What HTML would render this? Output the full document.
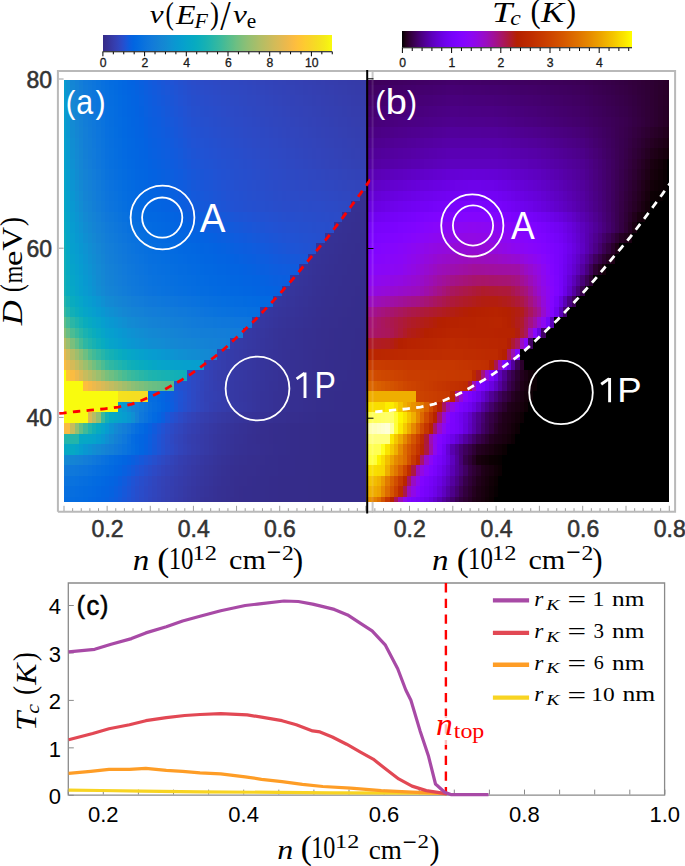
<!DOCTYPE html>
<html><head><meta charset="utf-8">
<style>
html,body{margin:0;padding:0;background:#fff;}
#w{position:relative;width:685px;height:866px;overflow:hidden;background:#fff;}
.hr{position:absolute;}
.cb{position:absolute;}
svg{position:absolute;left:0;top:0;}
.s{font-family:"Liberation Sans",sans-serif;}
.m{font-family:"Liberation Serif",serif;}
</style></head><body><div id="w">
<div class="hr" style="left:64.00px;top:79.60px;width:301.98px;height:5.28px;background:linear-gradient(90deg,#079dcf 0.00px 2.16px,#0e91d2 2.16px 6.47px,#1485d4 6.47px 10.78px,#1481d6 10.78px 15.10px,#137dd8 15.10px 19.41px,#1079da 19.41px 23.73px,#0f77db 23.73px 28.04px,#0d75dc 28.04px 32.35px,#0a73dd 32.35px 36.67px,#0870df 36.67px 40.98px,#066ee0 40.98px 45.30px,#046ce0 45.30px 49.61px,#036be1 49.61px 53.92px,#0269e1 53.92px 58.24px,#0267e1 58.24px 62.55px,#0364e1 62.55px 66.87px,#0363e1 66.87px 71.18px,#0661e0 71.18px 75.50px,#0a5fdf 75.50px 79.81px,#0d5dde 79.81px 84.12px,#115bdc 84.12px 88.44px,#1459db 88.44px 92.75px,#1757d9 92.75px 97.06px,#1a56d7 97.06px 101.38px,#1d54d6 101.38px 105.69px,#2053d4 105.69px 110.01px,#2251d2 110.01px 114.32px,#2450cf 114.32px 118.64px,#264fcd 118.64px 122.95px,#284dcb 122.95px 127.26px,#2a4cc9 127.26px 131.58px,#2b4bc8 131.58px 135.89px,#2b4bc7 135.89px 140.20px,#2c4ac6 140.20px 144.52px,#2c4ac5 144.52px 148.83px,#2d49c4 148.83px 153.15px,#2d49c3 153.15px 157.46px,#2e48c2 157.46px 166.09px,#2f47c1 166.09px 170.40px,#2f47c0 170.40px 174.72px,#2f46bf 174.72px 179.03px,#3046be 179.03px 183.34px,#3045bd 183.34px 187.66px,#3145bc 187.66px 191.97px,#3144bb 191.97px 196.29px,#3244ba 196.29px 200.60px,#3243b9 200.60px 209.23px,#3242b8 209.23px 213.54px,#3342b7 213.54px 217.86px,#3342b6 217.86px 222.17px,#3341b5 222.17px 226.48px,#3341b4 226.48px 230.80px,#3340b4 230.80px 235.11px,#3440b3 235.11px 239.43px,#343fb2 239.43px 243.74px,#343fb1 243.74px 248.06px,#343fb0 248.06px 252.37px,#343eaf 252.37px 256.68px,#353eaf 256.68px 261.00px,#353dae 261.00px 265.31px,#353dad 265.31px 269.62px,#353dac 269.62px 273.94px,#353cab 273.94px 282.57px,#353baa 282.57px 286.88px,#353ba9 286.88px 291.19px,#353ba8 291.19px 295.51px,#363aa7 295.51px 301.98px)"></div>
<div class="hr" style="left:64.00px;top:84.88px;width:301.98px;height:10.56px;background:linear-gradient(90deg,#069ece 0.00px 2.16px,#0d92d2 2.16px 6.47px,#1486d4 6.47px 10.78px,#1482d5 10.78px 15.10px,#137ed7 15.10px 19.41px,#117ad9 19.41px 23.73px,#0f78db 23.73px 28.04px,#0d76dc 28.04px 32.35px,#0b73dd 32.35px 36.67px,#0871de 36.67px 40.98px,#066fdf 40.98px 45.30px,#046de0 45.30px 49.61px,#036be0 49.61px 53.92px,#0269e1 53.92px 58.24px,#0267e1 58.24px 62.55px,#0265e1 62.55px 66.87px,#0364e1 66.87px 71.18px,#0562e0 71.18px 75.50px,#0860df 75.50px 79.81px,#0c5ede 79.81px 84.12px,#0f5cdd 84.12px 88.44px,#125adc 88.44px 92.75px,#1559da 92.75px 97.06px,#1857d8 97.06px 101.38px,#1b56d7 101.38px 105.69px,#1d54d5 105.69px 110.01px,#2053d3 110.01px 114.32px,#2251d1 114.32px 118.64px,#2450cf 118.64px 122.95px,#264ecd 122.95px 127.26px,#284dcb 127.26px 131.58px,#294cca 131.58px 135.89px,#2a4cc9 135.89px 140.20px,#2b4bc8 140.20px 144.52px,#2b4bc7 144.52px 148.83px,#2c4ac6 148.83px 153.15px,#2c4ac5 153.15px 157.46px,#2d49c4 157.46px 161.77px,#2d49c3 161.77px 166.09px,#2e48c2 166.09px 170.40px,#2e48c1 170.40px 174.72px,#2f47c1 174.72px 179.03px,#2f47c0 179.03px 183.34px,#2f46bf 183.34px 187.66px,#3046be 187.66px 191.97px,#3045bd 191.97px 196.29px,#3145bc 196.29px 200.60px,#3144bb 200.60px 204.91px,#3244ba 204.91px 209.23px,#3243b9 209.23px 213.54px,#3243b8 213.54px 217.86px,#3242b8 217.86px 222.17px,#3342b7 222.17px 226.48px,#3342b6 226.48px 230.80px,#3341b5 230.80px 235.11px,#3341b4 235.11px 239.43px,#3340b3 239.43px 243.74px,#3440b3 243.74px 248.06px,#343fb2 248.06px 252.37px,#343fb1 252.37px 256.68px,#343fb0 256.68px 261.00px,#343eaf 261.00px 265.31px,#353eaf 265.31px 269.62px,#353dae 269.62px 273.94px,#353dad 273.94px 278.25px,#353dac 278.25px 282.57px,#353cab 282.57px 286.88px,#353caa 286.88px 291.19px,#353baa 291.19px 295.51px,#353ba9 295.51px 299.82px,#353ba8 299.82px 301.98px)"></div>
<div class="hr" style="left:64.00px;top:95.45px;width:301.98px;height:10.56px;background:linear-gradient(90deg,#069fce 0.00px 2.16px,#0c94d2 2.16px 6.47px,#1487d3 6.47px 10.78px,#1483d5 10.78px 15.10px,#137fd7 15.10px 19.41px,#117bd9 19.41px 23.73px,#1079da 23.73px 28.04px,#0e76dc 28.04px 32.35px,#0c74dd 32.35px 36.67px,#0972de 36.67px 40.98px,#066fdf 40.98px 45.30px,#056de0 45.30px 49.61px,#036ce0 49.61px 53.92px,#026ae1 53.92px 58.24px,#0268e1 58.24px 62.55px,#0266e1 62.55px 66.87px,#0364e1 66.87px 71.18px,#0363e1 71.18px 75.50px,#0761e0 75.50px 79.81px,#0a5fdf 79.81px 84.12px,#0d5dde 84.12px 88.44px,#105bdd 88.44px 92.75px,#135adb 92.75px 97.06px,#1558da 97.06px 101.38px,#1857d8 101.38px 105.69px,#1b55d6 105.69px 110.01px,#1e54d5 110.01px 114.32px,#2152d3 114.32px 118.64px,#2351d1 118.64px 122.95px,#244fcf 122.95px 127.26px,#264ecc 127.26px 131.58px,#274dcc 131.58px 135.89px,#284dcb 135.89px 140.20px,#294cca 140.20px 144.52px,#2a4cc9 144.52px 148.83px,#2b4bc8 148.83px 153.15px,#2b4bc7 153.15px 157.46px,#2c4ac6 157.46px 161.77px,#2c4ac5 161.77px 166.09px,#2d49c4 166.09px 170.40px,#2d49c3 170.40px 174.72px,#2e48c2 174.72px 179.03px,#2e48c1 179.03px 183.34px,#2f47c0 183.34px 191.97px,#3046bf 191.97px 196.29px,#3046be 196.29px 200.60px,#3045bd 200.60px 204.91px,#3145bc 204.91px 209.23px,#3144bb 209.23px 213.54px,#3244ba 213.54px 217.86px,#3243b9 217.86px 222.17px,#3243b8 222.17px 226.48px,#3242b8 226.48px 230.80px,#3342b7 230.80px 235.11px,#3342b6 235.11px 239.43px,#3341b5 239.43px 243.74px,#3341b4 243.74px 248.06px,#3340b3 248.06px 252.37px,#3440b3 252.37px 256.68px,#343fb2 256.68px 261.00px,#343fb1 261.00px 265.31px,#343fb0 265.31px 269.62px,#343eaf 269.62px 273.94px,#353eae 273.94px 278.25px,#353dae 278.25px 282.57px,#353dad 282.57px 286.88px,#353cac 286.88px 291.19px,#353cab 291.19px 295.51px,#353caa 295.51px 299.82px,#353ba9 299.82px 301.98px)"></div>
<div class="hr" style="left:64.00px;top:106.01px;width:301.98px;height:10.56px;background:linear-gradient(90deg,#06a0cd 0.00px 2.16px,#0b95d2 2.16px 6.47px,#1389d3 6.47px 10.78px,#1484d4 10.78px 15.10px,#1480d6 15.10px 19.41px,#127cd8 19.41px 23.73px,#1079da 23.73px 28.04px,#0f77db 28.04px 32.35px,#0c75dd 32.35px 36.67px,#0a72de 36.67px 40.98px,#076fdf 40.98px 45.30px,#056ee0 45.30px 49.61px,#046ce0 49.61px 53.92px,#036ae1 53.92px 58.24px,#0268e1 58.24px 62.55px,#0266e1 62.55px 66.87px,#0265e1 66.87px 71.18px,#0363e1 71.18px 75.50px,#0561e0 75.50px 79.81px,#0960df 79.81px 84.12px,#0c5ede 84.12px 88.44px,#0e5cde 88.44px 92.75px,#105bdd 92.75px 97.06px,#135adb 97.06px 101.38px,#1658d9 101.38px 105.69px,#1956d8 105.69px 110.01px,#1c55d6 110.01px 114.32px,#1e53d5 114.32px 118.64px,#2152d3 118.64px 122.95px,#2351d0 122.95px 127.26px,#254fce 127.26px 131.58px,#264fcd 131.58px 135.89px,#264ecc 135.89px 140.20px,#274dcb 140.20px 144.52px,#284dcb 144.52px 148.83px,#294cca 148.83px 153.15px,#2a4cc9 153.15px 157.46px,#2b4bc8 157.46px 161.77px,#2c4ac7 161.77px 166.09px,#2c4ac6 166.09px 170.40px,#2c49c5 170.40px 174.72px,#2d49c4 174.72px 179.03px,#2d48c3 179.03px 183.34px,#2e48c2 183.34px 187.66px,#2e47c1 187.66px 191.97px,#2f47c0 191.97px 196.29px,#2f47bf 196.29px 200.60px,#3046be 200.60px 209.23px,#3045bd 209.23px 213.54px,#3145bc 213.54px 217.86px,#3144bb 217.86px 222.17px,#3244ba 222.17px 226.48px,#3243b9 226.48px 230.80px,#3243b8 230.80px 235.11px,#3242b8 235.11px 239.43px,#3342b7 239.43px 243.74px,#3342b6 243.74px 248.06px,#3341b5 248.06px 252.37px,#3341b4 252.37px 256.68px,#3340b3 256.68px 261.00px,#3440b2 261.00px 265.31px,#343fb2 265.31px 269.62px,#343fb1 269.62px 273.94px,#343fb0 273.94px 278.25px,#343eaf 278.25px 282.57px,#353eae 282.57px 286.88px,#353dad 286.88px 295.51px,#353cac 295.51px 299.82px,#353cab 299.82px 301.98px)"></div>
<div class="hr" style="left:64.00px;top:116.58px;width:301.98px;height:10.56px;background:linear-gradient(90deg,#06a0cd 0.00px 2.16px,#0a96d1 2.16px 6.47px,#138ad3 6.47px 10.78px,#1485d4 10.78px 15.10px,#1481d6 15.10px 19.41px,#127dd8 19.41px 23.73px,#117ad9 23.73px 28.04px,#0f78db 28.04px 32.35px,#0d75dc 32.35px 36.67px,#0a73de 36.67px 40.98px,#0770df 40.98px 45.30px,#066edf 45.30px 49.61px,#046ce0 49.61px 53.92px,#036be1 53.92px 58.24px,#0269e1 58.24px 62.55px,#0267e1 62.55px 66.87px,#0265e1 66.87px 71.18px,#0364e1 71.18px 75.50px,#0462e1 75.50px 79.81px,#0760e0 79.81px 84.12px,#0a5edf 84.12px 88.44px,#0c5dde 88.44px 92.75px,#0e5cde 92.75px 97.06px,#115bdc 97.06px 101.38px,#1459db 101.38px 105.69px,#1758d9 105.69px 110.01px,#1956d8 110.01px 114.32px,#1c55d6 114.32px 118.64px,#1f53d4 118.64px 122.95px,#2152d2 122.95px 127.26px,#2350d0 127.26px 131.58px,#2450cf 131.58px 135.89px,#254fce 135.89px 140.20px,#264fcd 140.20px 144.52px,#274ecc 144.52px 148.83px,#274dcb 148.83px 153.15px,#284dca 153.15px 157.46px,#294cc9 157.46px 161.77px,#2a4cc8 161.77px 166.09px,#2b4bc7 166.09px 170.40px,#2c4ac6 170.40px 179.03px,#2d49c5 179.03px 183.34px,#2d49c4 183.34px 187.66px,#2d48c3 187.66px 191.97px,#2e48c2 191.97px 196.29px,#2e47c1 196.29px 200.60px,#2f47c0 200.60px 204.91px,#2f46bf 204.91px 209.23px,#3046be 209.23px 213.54px,#3046bd 213.54px 217.86px,#3045bd 217.86px 222.17px,#3145bc 222.17px 226.48px,#3144bb 226.48px 230.80px,#3244ba 230.80px 235.11px,#3243b9 235.11px 239.43px,#3243b8 239.43px 243.74px,#3242b7 243.74px 248.06px,#3342b7 248.06px 252.37px,#3341b6 252.37px 256.68px,#3341b5 256.68px 261.00px,#3341b4 261.00px 265.31px,#3340b3 265.31px 269.62px,#3440b2 269.62px 273.94px,#343fb1 273.94px 282.57px,#343eb0 282.57px 286.88px,#353eaf 286.88px 291.19px,#353eae 291.19px 295.51px,#353dad 295.51px 299.82px,#353dac 299.82px 301.98px)"></div>
<div class="hr" style="left:64.00px;top:127.14px;width:301.98px;height:10.56px;background:linear-gradient(90deg,#06a1cc 0.00px 2.16px,#0997d1 2.16px 6.47px,#128bd2 6.47px 10.78px,#1486d3 10.78px 15.10px,#1482d5 15.10px 19.41px,#137ed7 19.41px 23.73px,#117bd9 23.73px 28.04px,#1078da 28.04px 32.35px,#0d76dc 32.35px 36.67px,#0b73dd 36.67px 40.98px,#0870df 40.98px 45.30px,#066fdf 45.30px 49.61px,#046de0 49.61px 53.92px,#036be0 53.92px 58.24px,#0269e1 58.24px 62.55px,#0267e1 62.55px 66.87px,#0266e1 66.87px 71.18px,#0364e1 71.18px 75.50px,#0363e1 75.50px 79.81px,#0661e0 79.81px 84.12px,#095fdf 84.12px 88.44px,#0b5edf 88.44px 92.75px,#0d5dde 92.75px 97.06px,#0f5cdd 97.06px 101.38px,#115adc 101.38px 105.69px,#1459da 105.69px 110.01px,#1757d9 110.01px 114.32px,#1a56d7 114.32px 118.64px,#1d54d6 118.64px 122.95px,#1f53d4 122.95px 127.26px,#2152d2 127.26px 131.58px,#2251d1 131.58px 135.89px,#2350d0 135.89px 140.20px,#2450cf 140.20px 144.52px,#254fce 144.52px 148.83px,#264ecd 148.83px 153.15px,#274ecc 153.15px 157.46px,#284dcb 157.46px 161.77px,#284dca 161.77px 166.09px,#294cc9 166.09px 170.40px,#2a4bc8 170.40px 174.72px,#2b4bc7 174.72px 179.03px,#2c4ac6 179.03px 183.34px,#2c4ac5 183.34px 187.66px,#2d49c5 187.66px 191.97px,#2d49c4 191.97px 196.29px,#2d48c3 196.29px 200.60px,#2e48c2 200.60px 204.91px,#2e47c1 204.91px 209.23px,#2f47c0 209.23px 213.54px,#2f46bf 213.54px 217.86px,#3046be 217.86px 222.17px,#3045bd 222.17px 226.48px,#3145bd 226.48px 230.80px,#3145bc 230.80px 235.11px,#3144bb 235.11px 239.43px,#3244ba 239.43px 243.74px,#3243b9 243.74px 248.06px,#3243b8 248.06px 252.37px,#3242b7 252.37px 256.68px,#3342b6 256.68px 261.00px,#3341b6 261.00px 265.31px,#3341b5 265.31px 269.62px,#3341b4 269.62px 273.94px,#3440b3 273.94px 278.25px,#3440b2 278.25px 282.57px,#343fb1 282.57px 286.88px,#343fb0 286.88px 291.19px,#343eb0 291.19px 295.51px,#353eaf 295.51px 299.82px,#353dae 299.82px 301.98px)"></div>
<div class="hr" style="left:64.00px;top:137.71px;width:301.98px;height:10.56px;background:linear-gradient(90deg,#06a2cb 0.00px 2.16px,#0999d1 2.16px 6.47px,#118dd2 6.47px 10.78px,#1388d3 10.78px 15.10px,#1483d5 15.10px 19.41px,#137ed7 19.41px 23.73px,#127cd8 23.73px 28.04px,#1079da 28.04px 32.35px,#0e76dc 32.35px 36.67px,#0b74dd 36.67px 40.98px,#0871de 40.98px 45.30px,#076fdf 45.30px 49.61px,#056de0 49.61px 53.92px,#046ce0 53.92px 58.24px,#026ae1 58.24px 62.55px,#0268e1 62.55px 66.87px,#0267e1 66.87px 71.18px,#0265e1 71.18px 75.50px,#0364e1 75.50px 79.81px,#0462e1 79.81px 84.12px,#0760e0 84.12px 88.44px,#095fdf 88.44px 92.75px,#0b5edf 92.75px 97.06px,#0d5dde 97.06px 101.38px,#0f5cdd 101.38px 105.69px,#125adc 105.69px 110.01px,#1559da 110.01px 114.32px,#1757d9 114.32px 118.64px,#1a56d7 118.64px 122.95px,#1d54d5 122.95px 127.26px,#2053d4 127.26px 131.58px,#2152d3 131.58px 135.89px,#2252d2 135.89px 140.20px,#2251d1 140.20px 144.52px,#2350d0 144.52px 148.83px,#2450cf 148.83px 153.15px,#254fce 153.15px 157.46px,#264ecd 157.46px 161.77px,#274ecc 161.77px 166.09px,#284dcb 166.09px 170.40px,#294cca 170.40px 174.72px,#2a4cc9 174.72px 179.03px,#2a4bc8 179.03px 183.34px,#2b4bc7 183.34px 187.66px,#2c4ac6 187.66px 191.97px,#2c4ac5 191.97px 196.29px,#2d49c4 196.29px 204.91px,#2e48c3 204.91px 209.23px,#2e48c2 209.23px 213.54px,#2e47c1 213.54px 217.86px,#2f47c0 217.86px 222.17px,#2f46bf 222.17px 226.48px,#3046be 226.48px 230.80px,#3045bd 230.80px 235.11px,#3145bc 235.11px 239.43px,#3144bc 239.43px 243.74px,#3144bb 243.74px 248.06px,#3244ba 248.06px 252.37px,#3243b9 252.37px 256.68px,#3243b8 256.68px 261.00px,#3342b7 261.00px 265.31px,#3342b6 265.31px 269.62px,#3341b5 269.62px 278.25px,#3340b4 278.25px 282.57px,#3440b3 282.57px 286.88px,#3440b2 286.88px 291.19px,#343fb1 291.19px 295.51px,#343fb0 295.51px 299.82px,#343eaf 299.82px 301.98px)"></div>
<div class="hr" style="left:64.00px;top:148.27px;width:301.98px;height:10.56px;background:linear-gradient(90deg,#06a3cb 0.00px 2.16px,#089ad0 2.16px 6.47px,#108ed2 6.47px 10.78px,#1389d3 10.78px 15.10px,#1484d4 15.10px 19.41px,#137fd6 19.41px 23.73px,#127cd8 23.73px 28.04px,#117ada 28.04px 32.35px,#0e77db 32.35px 36.67px,#0c74dd 36.67px 40.98px,#0971de 40.98px 45.30px,#0770df 45.30px 49.61px,#056ee0 49.61px 53.92px,#046ce0 53.92px 58.24px,#036ae1 58.24px 62.55px,#0268e1 62.55px 66.87px,#0267e1 66.87px 71.18px,#0266e1 71.18px 75.50px,#0364e1 75.50px 79.81px,#0363e1 79.81px 84.12px,#0661e0 84.12px 88.44px,#0860e0 88.44px 92.75px,#0a5fdf 92.75px 97.06px,#0c5ede 97.06px 101.38px,#0e5dde 101.38px 105.69px,#105bdd 105.69px 110.01px,#125adc 110.01px 114.32px,#1559da 114.32px 118.64px,#1857d8 118.64px 122.95px,#1b56d7 122.95px 127.26px,#1d54d5 127.26px 131.58px,#1f53d4 131.58px 135.89px,#2053d4 135.89px 140.20px,#2152d3 140.20px 144.52px,#2251d2 144.52px 148.83px,#2351d1 148.83px 153.15px,#2450d0 153.15px 157.46px,#254fcf 157.46px 161.77px,#254fce 161.77px 166.09px,#264ecd 166.09px 170.40px,#274dcc 170.40px 174.72px,#284dcb 174.72px 179.03px,#294cca 179.03px 183.34px,#2a4cc9 183.34px 187.66px,#2a4bc8 187.66px 191.97px,#2b4bc7 191.97px 196.29px,#2c4ac6 196.29px 200.60px,#2c4ac5 200.60px 204.91px,#2d49c4 204.91px 209.23px,#2d49c3 209.23px 213.54px,#2e48c3 213.54px 217.86px,#2e48c2 217.86px 222.17px,#2e47c1 222.17px 226.48px,#2f47c0 226.48px 230.80px,#2f46bf 230.80px 235.11px,#3046be 235.11px 239.43px,#3045bd 239.43px 243.74px,#3145bc 243.74px 248.06px,#3144bb 248.06px 252.37px,#3244bb 252.37px 256.68px,#3243ba 256.68px 261.00px,#3243b9 261.00px 265.31px,#3243b8 265.31px 269.62px,#3342b7 269.62px 273.94px,#3342b6 273.94px 278.25px,#3341b5 278.25px 282.57px,#3341b4 282.57px 286.88px,#3340b3 286.88px 291.19px,#3440b3 291.19px 295.51px,#343fb2 295.51px 299.82px,#343fb1 299.82px 301.98px)"></div>
<div class="hr" style="left:64.00px;top:158.84px;width:301.98px;height:10.56px;background:linear-gradient(90deg,#06a3ca 0.00px 2.16px,#089bd0 2.16px 6.47px,#0f90d2 6.47px 10.78px,#138ad3 10.78px 15.10px,#1485d4 15.10px 19.41px,#1480d6 19.41px 23.73px,#137dd8 23.73px 28.04px,#117ad9 28.04px 32.35px,#0f77db 32.35px 36.67px,#0c75dd 36.67px 40.98px,#0972de 40.98px 45.30px,#0770df 45.30px 49.61px,#066edf 49.61px 53.92px,#046de0 53.92px 58.24px,#036be1 58.24px 62.55px,#0269e1 62.55px 66.87px,#0268e1 66.87px 71.18px,#0266e1 71.18px 75.50px,#0265e1 75.50px 79.81px,#0364e1 79.81px 84.12px,#0462e1 84.12px 88.44px,#0661e0 88.44px 92.75px,#0860df 92.75px 97.06px,#0a5fdf 97.06px 101.38px,#0c5ede 101.38px 105.69px,#0e5cde 105.69px 110.01px,#105bdd 110.01px 114.32px,#135adb 114.32px 118.64px,#1558da 118.64px 122.95px,#1857d8 122.95px 127.26px,#1b55d7 127.26px 131.58px,#1c55d6 131.58px 135.89px,#1e54d5 135.89px 140.20px,#1f53d4 140.20px 144.52px,#2053d3 144.52px 148.83px,#2152d2 148.83px 153.15px,#2251d1 153.15px 157.46px,#2351d0 157.46px 161.77px,#2450cf 161.77px 166.09px,#254fce 166.09px 170.40px,#264fcd 170.40px 174.72px,#274ecc 174.72px 179.03px,#274dcb 179.03px 183.34px,#284dcb 183.34px 187.66px,#294cca 187.66px 191.97px,#2a4cc9 191.97px 196.29px,#2b4bc8 196.29px 200.60px,#2b4bc7 200.60px 204.91px,#2c4ac6 204.91px 209.23px,#2c4ac5 209.23px 213.54px,#2d49c4 213.54px 217.86px,#2d49c3 217.86px 222.17px,#2e48c2 222.17px 230.80px,#2f47c1 230.80px 235.11px,#2f47c0 235.11px 239.43px,#2f46bf 239.43px 243.74px,#3046be 243.74px 248.06px,#3045bd 248.06px 252.37px,#3145bc 252.37px 256.68px,#3144bb 256.68px 261.00px,#3244ba 261.00px 265.31px,#3243b9 265.31px 273.94px,#3242b8 273.94px 278.25px,#3342b7 278.25px 282.57px,#3342b6 282.57px 286.88px,#3341b5 286.88px 291.19px,#3341b4 291.19px 295.51px,#3340b3 295.51px 299.82px,#3440b2 299.82px 301.98px)"></div>
<div class="hr" style="left:64.00px;top:169.40px;width:301.98px;height:10.56px;background:linear-gradient(90deg,#06a5c9 0.00px 2.16px,#079dcf 2.16px 6.47px,#0d92d2 6.47px 10.78px,#118cd2 10.78px 15.10px,#1486d3 15.10px 19.41px,#1482d5 19.41px 23.73px,#137fd7 23.73px 28.04px,#127cd9 28.04px 32.35px,#1079da 32.35px 36.67px,#0d76dc 36.67px 40.98px,#0a73dd 40.98px 45.30px,#0971de 45.30px 49.61px,#076fdf 49.61px 53.92px,#056ee0 53.92px 58.24px,#046ce0 58.24px 62.55px,#036ae1 62.55px 66.87px,#0269e1 66.87px 71.18px,#0267e1 71.18px 75.50px,#0266e1 75.50px 79.81px,#0265e1 79.81px 84.12px,#0363e1 84.12px 88.44px,#0462e1 88.44px 92.75px,#0661e0 92.75px 97.06px,#0860df 97.06px 101.38px,#0a5fdf 101.38px 105.69px,#0c5ede 105.69px 110.01px,#0e5cde 110.01px 114.32px,#105bdd 114.32px 118.64px,#135adb 118.64px 122.95px,#1658da 122.95px 127.26px,#1857d8 127.26px 131.58px,#1a56d7 131.58px 135.89px,#1b55d6 135.89px 140.20px,#1d54d6 140.20px 144.52px,#1e54d5 144.52px 148.83px,#2053d4 148.83px 153.15px,#2152d3 153.15px 157.46px,#2251d2 157.46px 161.77px,#2351d1 161.77px 166.09px,#2450cf 166.09px 170.40px,#254fce 170.40px 174.72px,#264fcd 174.72px 179.03px,#264ecd 179.03px 183.34px,#274ecc 183.34px 187.66px,#284dcb 187.66px 191.97px,#294dca 191.97px 196.29px,#294cc9 196.29px 200.60px,#2a4bc8 200.60px 204.91px,#2b4bc7 204.91px 209.23px,#2c4ac7 209.23px 213.54px,#2c4ac6 213.54px 217.86px,#2c4ac5 217.86px 222.17px,#2d49c4 222.17px 226.48px,#2d49c3 226.48px 230.80px,#2d48c3 230.80px 235.11px,#2e48c2 235.11px 239.43px,#2e48c1 239.43px 243.74px,#2f47c0 243.74px 252.37px,#2f46bf 252.37px 256.68px,#3046be 256.68px 261.00px,#3045bd 261.00px 265.31px,#3145bd 265.31px 269.62px,#3145bc 269.62px 273.94px,#3144bb 273.94px 278.25px,#3244ba 278.25px 282.57px,#3243b9 282.57px 286.88px,#3243b8 286.88px 291.19px,#3242b8 291.19px 295.51px,#3342b7 295.51px 299.82px,#3342b6 299.82px 301.98px)"></div>
<div class="hr" style="left:64.00px;top:179.97px;width:301.98px;height:10.57px;background:linear-gradient(90deg,#06a6c7 0.00px 2.16px,#069ece 2.16px 6.47px,#0c94d2 6.47px 10.78px,#108ed2 10.78px 15.10px,#1388d3 15.10px 19.41px,#1483d5 19.41px 23.73px,#1480d6 23.73px 28.04px,#137dd8 28.04px 32.35px,#117ad9 32.35px 36.67px,#0e77db 36.67px 40.98px,#0c74dd 40.98px 45.30px,#0a72de 45.30px 49.61px,#0870df 49.61px 53.92px,#066fdf 53.92px 58.24px,#046de0 58.24px 62.55px,#036be0 62.55px 66.87px,#026ae1 66.87px 71.18px,#0268e1 71.18px 75.50px,#0267e1 75.50px 79.81px,#0266e1 79.81px 84.12px,#0364e1 84.12px 88.44px,#0363e1 88.44px 92.75px,#0462e1 92.75px 97.06px,#0661e0 97.06px 101.38px,#0860df 101.38px 105.69px,#0a5fdf 105.69px 110.01px,#0c5ede 110.01px 114.32px,#0e5cde 114.32px 118.64px,#105bdd 118.64px 122.95px,#135adb 122.95px 127.26px,#1658d9 127.26px 131.58px,#1857d9 131.58px 135.89px,#1956d8 135.89px 140.20px,#1b55d7 140.20px 144.52px,#1c55d6 144.52px 148.83px,#1e54d5 148.83px 153.15px,#1f53d4 153.15px 157.46px,#2152d3 157.46px 161.77px,#2251d2 161.77px 166.09px,#2351d1 166.09px 170.40px,#2450cf 170.40px 174.72px,#254fcf 174.72px 179.03px,#254fce 179.03px 183.34px,#264ecd 183.34px 187.66px,#274ecc 187.66px 191.97px,#274dcb 191.97px 196.29px,#284dcb 196.29px 200.60px,#294cca 200.60px 204.91px,#2a4cc9 204.91px 209.23px,#2a4bc8 209.23px 213.54px,#2b4bc7 213.54px 217.86px,#2c4ac7 217.86px 222.17px,#2c4ac6 222.17px 226.48px,#2c4ac5 226.48px 230.80px,#2c49c5 230.80px 235.11px,#2d49c4 235.11px 243.74px,#2d48c3 243.74px 248.06px,#2e48c2 248.06px 256.68px,#2e48c1 256.68px 261.00px,#2f47c0 261.00px 269.62px,#2f46bf 269.62px 273.94px,#3046be 273.94px 278.25px,#3045bd 278.25px 282.57px,#3145bc 282.57px 291.19px,#3144bb 291.19px 299.82px,#3244ba 299.82px 301.98px)"></div>
<div class="hr" style="left:64.00px;top:190.53px;width:301.98px;height:10.56px;background:linear-gradient(90deg,#06a7c5 0.00px 2.16px,#06a0cd 2.16px 6.47px,#0a96d1 6.47px 10.78px,#0f90d2 10.78px 15.10px,#138ad3 15.10px 19.41px,#1484d4 19.41px 23.73px,#1481d5 23.73px 28.04px,#137ed7 28.04px 32.35px,#117bd9 32.35px 36.67px,#0f78db 36.67px 40.98px,#0d75dc 40.98px 45.30px,#0b73dd 45.30px 49.61px,#0972de 49.61px 53.92px,#0770df 53.92px 58.24px,#056ee0 58.24px 62.55px,#046ce0 62.55px 66.87px,#036be1 66.87px 71.18px,#0269e1 71.18px 75.50px,#0268e1 75.50px 79.81px,#0267e1 79.81px 84.12px,#0265e1 84.12px 88.44px,#0364e1 88.44px 92.75px,#0363e1 92.75px 97.06px,#0462e1 97.06px 101.38px,#0661e0 101.38px 105.69px,#0860df 105.69px 110.01px,#0a5fdf 110.01px 114.32px,#0c5dde 114.32px 118.64px,#0e5cde 118.64px 122.95px,#115bdc 122.95px 127.26px,#1459db 127.26px 131.58px,#1558da 131.58px 135.89px,#1758d9 135.89px 140.20px,#1957d8 140.20px 144.52px,#1a56d7 144.52px 148.83px,#1c55d6 148.83px 153.15px,#1d54d5 153.15px 157.46px,#1f53d4 157.46px 161.77px,#2152d3 161.77px 166.09px,#2251d2 166.09px 170.40px,#2351d1 170.40px 174.72px,#2350d0 174.72px 179.03px,#2450cf 179.03px 183.34px,#254fce 183.34px 187.66px,#264fcd 187.66px 191.97px,#264ecd 191.97px 196.29px,#274ecc 196.29px 200.60px,#284dcb 200.60px 204.91px,#284dca 204.91px 209.23px,#294cc9 209.23px 213.54px,#2a4cc9 213.54px 217.86px,#2a4bc8 217.86px 222.17px,#2b4bc8 222.17px 226.48px,#2b4bc7 226.48px 235.11px,#2c4ac6 235.11px 248.06px,#2c4ac5 248.06px 252.37px,#2d49c5 252.37px 256.68px,#2d49c4 256.68px 261.00px,#2d49c3 261.00px 265.31px,#2e48c3 265.31px 269.62px,#2e48c2 269.62px 273.94px,#2e47c1 273.94px 278.25px,#2f47c0 278.25px 286.88px,#2f46bf 286.88px 295.51px,#362f91 295.51px 299.82px,#362f90 299.82px 301.98px)"></div>
<div class="hr" style="left:64.00px;top:201.10px;width:301.98px;height:10.56px;background:linear-gradient(90deg,#06a8c4 0.00px 2.16px,#06a1cc 2.16px 6.47px,#0998d1 6.47px 10.78px,#0d92d2 10.78px 15.10px,#128cd2 15.10px 19.41px,#1486d4 19.41px 23.73px,#1483d5 23.73px 28.04px,#137fd6 28.04px 32.35px,#127cd8 32.35px 36.67px,#1079da 36.67px 40.98px,#0e76dc 40.98px 45.30px,#0c74dd 45.30px 49.61px,#0a73de 49.61px 53.92px,#0871de 53.92px 58.24px,#066fdf 58.24px 62.55px,#046de0 62.55px 66.87px,#046ce0 66.87px 71.18px,#036ae1 71.18px 75.50px,#0269e1 75.50px 79.81px,#0268e1 79.81px 84.12px,#0266e1 84.12px 88.44px,#0265e1 88.44px 92.75px,#0364e1 92.75px 97.06px,#0363e1 97.06px 101.38px,#0462e1 101.38px 105.69px,#0661e0 105.69px 110.01px,#0860df 110.01px 114.32px,#0a5edf 114.32px 118.64px,#0c5dde 118.64px 122.95px,#0f5cde 122.95px 127.26px,#115bdc 127.26px 131.58px,#135adb 131.58px 135.89px,#1559da 135.89px 140.20px,#1658d9 140.20px 144.52px,#1857d8 144.52px 148.83px,#1a56d7 148.83px 153.15px,#1c55d6 153.15px 157.46px,#1d54d5 157.46px 161.77px,#1f53d4 161.77px 166.09px,#2152d3 166.09px 170.40px,#2251d2 170.40px 174.72px,#2251d1 174.72px 179.03px,#2350d0 179.03px 183.34px,#2450cf 183.34px 187.66px,#244fcf 187.66px 191.97px,#254fce 191.97px 196.29px,#264fcd 196.29px 200.60px,#264ecc 200.60px 204.91px,#274ecc 204.91px 209.23px,#284dcb 209.23px 213.54px,#284dca 213.54px 217.86px,#294cca 217.86px 226.48px,#294cc9 226.48px 235.11px,#2a4cc9 235.11px 239.43px,#2a4cc8 239.43px 243.74px,#2a4bc8 243.74px 248.06px,#2b4bc8 248.06px 256.68px,#2b4bc7 256.68px 261.00px,#2c4ac6 261.00px 269.62px,#2c4ac5 269.62px 273.94px,#2d49c4 273.94px 278.25px,#2d49c3 278.25px 282.57px,#2d48c3 282.57px 286.88px,#363092 286.88px 295.51px,#362f91 295.51px 299.82px,#362f90 299.82px 301.98px)"></div>
<div class="hr" style="left:64.00px;top:211.66px;width:301.98px;height:10.56px;background:linear-gradient(90deg,#07aac1 0.00px 2.16px,#06a3ca 2.16px 6.47px,#089ad0 6.47px 10.78px,#0b95d2 10.78px 15.10px,#108fd2 15.10px 19.41px,#1389d3 19.41px 23.73px,#1485d4 23.73px 28.04px,#1482d5 28.04px 32.35px,#137fd7 32.35px 36.67px,#127bd9 36.67px 40.98px,#1078da 40.98px 45.30px,#0e77db 45.30px 49.61px,#0c75dc 49.61px 53.92px,#0a73dd 53.92px 58.24px,#0871de 58.24px 62.55px,#066fdf 62.55px 66.87px,#056ee0 66.87px 71.18px,#046ce0 71.18px 75.50px,#036be0 75.50px 79.81px,#026ae1 79.81px 84.12px,#0268e1 84.12px 92.75px,#0267e1 92.75px 97.06px,#0266e1 97.06px 101.38px,#0265e1 101.38px 105.69px,#0364e1 105.69px 110.01px,#0363e1 110.01px 114.32px,#0562e0 114.32px 118.64px,#0761e0 118.64px 122.95px,#095fdf 122.95px 127.26px,#0b5edf 127.26px 131.58px,#0c5dde 131.58px 135.89px,#0e5dde 135.89px 140.20px,#0f5cdd 140.20px 144.52px,#115bdc 144.52px 148.83px,#135adb 148.83px 153.15px,#1559da 153.15px 157.46px,#1658d9 157.46px 161.77px,#1857d8 161.77px 166.09px,#1a56d7 166.09px 170.40px,#1c55d6 170.40px 174.72px,#1d54d5 174.72px 179.03px,#1e54d5 179.03px 183.34px,#1f53d4 183.34px 187.66px,#2052d3 187.66px 191.97px,#2152d2 191.97px 196.29px,#2251d2 196.29px 200.60px,#2351d1 200.60px 204.91px,#2450d0 204.91px 209.23px,#2450cf 209.23px 213.54px,#254fce 213.54px 217.86px,#264fcd 217.86px 222.17px,#264ecd 222.17px 230.80px,#274ecc 230.80px 239.43px,#284dcb 239.43px 248.06px,#284dca 248.06px 252.37px,#294cca 252.37px 256.68px,#294cc9 256.68px 261.00px,#2a4cc9 261.00px 265.31px,#2a4bc8 265.31px 269.62px,#2b4bc8 269.62px 273.94px,#2b4bc7 273.94px 278.25px,#363093 278.25px 286.88px,#363092 286.88px 291.19px,#362f91 291.19px 295.51px,#362f90 295.51px 299.82px,#362e8f 299.82px 301.98px)"></div>
<div class="hr" style="left:64.00px;top:222.23px;width:301.98px;height:10.56px;background:linear-gradient(90deg,#09abbf 0.00px 2.16px,#06a5c9 2.16px 6.47px,#079cd0 6.47px 10.78px,#0997d1 10.78px 15.10px,#0e92d2 15.10px 19.41px,#118cd2 19.41px 23.73px,#1388d3 23.73px 28.04px,#1484d4 28.04px 32.35px,#1481d6 32.35px 36.67px,#137ed7 36.67px 40.98px,#117bd9 40.98px 45.30px,#1079da 45.30px 49.61px,#0e77db 49.61px 53.92px,#0d75dc 53.92px 58.24px,#0b73dd 58.24px 62.55px,#0871de 62.55px 66.87px,#0770df 66.87px 71.18px,#066fdf 71.18px 75.50px,#056de0 75.50px 79.81px,#046ce0 79.81px 84.12px,#036be1 84.12px 88.44px,#026ae1 88.44px 92.75px,#0269e1 92.75px 97.06px,#0268e1 97.06px 101.38px,#0267e1 101.38px 105.69px,#0266e1 105.69px 110.01px,#0265e1 110.01px 114.32px,#0364e1 114.32px 122.95px,#0363e1 122.95px 127.26px,#0661e0 127.26px 131.58px,#0761e0 131.58px 135.89px,#0860df 135.89px 140.20px,#0a5fdf 140.20px 144.52px,#0b5edf 144.52px 148.83px,#0c5dde 148.83px 153.15px,#0e5cde 153.15px 157.46px,#0f5cdd 157.46px 161.77px,#115bdc 161.77px 166.09px,#135adb 166.09px 170.40px,#1559da 170.40px 174.72px,#1658d9 174.72px 179.03px,#1857d8 179.03px 183.34px,#1956d8 183.34px 187.66px,#1b56d7 187.66px 191.97px,#1c55d6 191.97px 196.29px,#1d54d5 196.29px 200.60px,#1f53d5 200.60px 204.91px,#2053d4 204.91px 209.23px,#2152d3 209.23px 213.54px,#2251d2 213.54px 217.86px,#2251d1 217.86px 222.17px,#2351d0 222.17px 226.48px,#2450d0 226.48px 230.80px,#2450cf 230.80px 235.11px,#254fce 235.11px 243.74px,#264fcd 243.74px 248.06px,#264ecc 248.06px 252.37px,#274ecc 252.37px 261.00px,#274dcb 261.00px 265.31px,#284dcb 265.31px 269.62px,#363195 269.62px 273.94px,#363194 273.94px 278.25px,#363093 278.25px 282.57px,#363092 282.57px 286.88px,#362f91 286.88px 291.19px,#362f90 291.19px 299.82px,#362e8f 299.82px 301.98px)"></div>
<div class="hr" style="left:64.00px;top:232.79px;width:301.98px;height:10.56px;background:linear-gradient(90deg,#0cadbc 0.00px 2.16px,#06a6c7 2.16px 6.47px,#079ecf 6.47px 10.78px,#0899d1 10.78px 15.10px,#0b95d2 15.10px 19.41px,#0f8fd2 19.41px 23.73px,#128bd2 23.73px 28.04px,#1487d3 28.04px 32.35px,#1483d4 32.35px 36.67px,#1480d6 36.67px 40.98px,#127dd8 40.98px 45.30px,#117bd9 45.30px 49.61px,#1079da 49.61px 53.92px,#0e77db 53.92px 58.24px,#0d75dc 58.24px 62.55px,#0b73dd 62.55px 66.87px,#0972de 66.87px 71.18px,#0871df 71.18px 75.50px,#076fdf 75.50px 79.81px,#056ee0 79.81px 84.12px,#046de0 84.12px 88.44px,#046ce0 88.44px 92.75px,#036be0 92.75px 97.06px,#036ae1 97.06px 101.38px,#0269e1 101.38px 110.01px,#0268e1 110.01px 114.32px,#0267e1 114.32px 118.64px,#0266e1 118.64px 122.95px,#0265e1 122.95px 127.26px,#0364e1 127.26px 131.58px,#0363e1 131.58px 140.20px,#0462e1 140.20px 144.52px,#0661e0 144.52px 148.83px,#0760e0 148.83px 153.15px,#095fdf 153.15px 157.46px,#0a5fdf 157.46px 161.77px,#0c5ede 161.77px 166.09px,#0d5dde 166.09px 170.40px,#0f5cde 170.40px 174.72px,#105bdd 174.72px 179.03px,#115adc 179.03px 183.34px,#135adb 183.34px 187.66px,#1559da 187.66px 191.97px,#1658d9 191.97px 196.29px,#1857d9 196.29px 200.60px,#1956d8 200.60px 204.91px,#1b55d7 204.91px 209.23px,#1c55d6 209.23px 213.54px,#1e54d5 213.54px 217.86px,#1f53d4 217.86px 222.17px,#2053d4 222.17px 226.48px,#2152d3 226.48px 230.80px,#2152d2 230.80px 235.11px,#2251d1 235.11px 239.43px,#2351d0 239.43px 243.74px,#2450d0 243.74px 248.06px,#2450cf 248.06px 252.37px,#254fce 252.37px 261.00px,#363296 261.00px 265.31px,#363195 265.31px 269.62px,#363194 269.62px 273.94px,#363093 273.94px 278.25px,#363092 278.25px 282.57px,#362f91 282.57px 286.88px,#362f90 286.88px 295.51px,#362e8f 295.51px 299.82px,#362e8e 299.82px 301.98px)"></div>
<div class="hr" style="left:64.00px;top:243.36px;width:301.98px;height:10.56px;background:linear-gradient(90deg,#0faeb9 0.00px 2.16px,#06a8c5 2.16px 6.47px,#069fce 6.47px 10.78px,#079cd0 10.78px 15.10px,#0997d1 15.10px 19.41px,#0d93d2 19.41px 23.73px,#108ed2 23.73px 28.04px,#138ad3 28.04px 32.35px,#1486d4 32.35px 36.67px,#1482d5 36.67px 40.98px,#137fd7 40.98px 45.30px,#137dd8 45.30px 49.61px,#117bd9 49.61px 53.92px,#1079da 53.92px 58.24px,#0f77db 58.24px 62.55px,#0d75dc 62.55px 66.87px,#0b74dd 66.87px 71.18px,#0a72de 71.18px 75.50px,#0971de 75.50px 79.81px,#0770df 79.81px 84.12px,#066fdf 84.12px 88.44px,#056ee0 88.44px 92.75px,#056de0 92.75px 97.06px,#046ce0 97.06px 105.69px,#036be1 105.69px 110.01px,#036ae1 110.01px 114.32px,#0269e1 114.32px 118.64px,#0268e1 118.64px 127.26px,#0267e1 127.26px 131.58px,#0266e1 131.58px 135.89px,#0265e1 135.89px 140.20px,#0365e1 140.20px 144.52px,#0364e1 144.52px 148.83px,#0363e1 148.83px 153.15px,#0462e1 153.15px 157.46px,#0562e0 157.46px 161.77px,#0761e0 161.77px 166.09px,#0860df 166.09px 170.40px,#0a5fdf 170.40px 174.72px,#0b5edf 174.72px 179.03px,#0c5dde 179.03px 183.34px,#0d5dde 183.34px 187.66px,#0f5cde 187.66px 191.97px,#105bdd 191.97px 196.29px,#125adc 196.29px 200.60px,#1459db 200.60px 204.91px,#1558da 204.91px 209.23px,#1757d9 209.23px 213.54px,#1956d8 213.54px 217.86px,#1a56d7 217.86px 222.17px,#1c55d6 222.17px 226.48px,#1d54d6 226.48px 230.80px,#1e54d5 230.80px 235.11px,#1f53d4 235.11px 239.43px,#2052d3 239.43px 243.74px,#2152d2 243.74px 248.06px,#2251d1 248.06px 252.37px,#363297 252.37px 256.68px,#363296 256.68px 261.00px,#363195 261.00px 265.31px,#363194 265.31px 269.62px,#363093 269.62px 273.94px,#363092 273.94px 278.25px,#362f91 278.25px 282.57px,#362f90 282.57px 291.19px,#362e8f 291.19px 299.82px,#362e8e 299.82px 301.98px)"></div>
<div class="hr" style="left:64.00px;top:253.92px;width:301.98px;height:10.56px;background:linear-gradient(90deg,#10afb8 0.00px 2.16px,#07a9c3 2.16px 6.47px,#06a1cc 6.47px 10.78px,#079ecf 10.78px 15.10px,#089ad1 15.10px 19.41px,#0b95d2 19.41px 23.73px,#0f90d2 23.73px 28.04px,#118cd2 28.04px 32.35px,#1388d3 32.35px 36.67px,#1484d4 36.67px 40.98px,#1480d6 40.98px 45.30px,#137ed7 45.30px 49.61px,#127cd8 49.61px 53.92px,#117ad9 53.92px 58.24px,#1078da 58.24px 62.55px,#0e76db 62.55px 66.87px,#0d75dc 66.87px 71.18px,#0c74dd 71.18px 75.50px,#0a73de 75.50px 79.81px,#0971de 79.81px 84.12px,#0770df 84.12px 88.44px,#076fdf 88.44px 92.75px,#066fdf 92.75px 97.06px,#056ee0 97.06px 101.38px,#056de0 101.38px 105.69px,#046ce0 105.69px 110.01px,#036ce0 110.01px 114.32px,#036be1 114.32px 118.64px,#036ae1 118.64px 122.95px,#0269e1 122.95px 131.58px,#0268e1 131.58px 135.89px,#0267e1 135.89px 140.20px,#0266e1 140.20px 148.83px,#0265e1 148.83px 153.15px,#0364e1 153.15px 161.77px,#0363e1 161.77px 166.09px,#0462e1 166.09px 170.40px,#0561e0 170.40px 174.72px,#0761e0 174.72px 179.03px,#0860df 179.03px 183.34px,#095fdf 183.34px 187.66px,#0a5edf 187.66px 191.97px,#0c5ede 191.97px 196.29px,#0d5dde 196.29px 200.60px,#0e5cde 200.60px 204.91px,#105bdd 204.91px 209.23px,#125adc 209.23px 213.54px,#1359db 213.54px 217.86px,#1459da 217.86px 222.17px,#1558da 222.17px 226.48px,#1658d9 226.48px 230.80px,#1757d9 230.80px 235.11px,#1857d8 235.11px 239.43px,#1956d8 239.43px 243.74px,#36339a 243.74px 248.06px,#363298 248.06px 252.37px,#363296 252.37px 256.68px,#363195 256.68px 261.00px,#363194 261.00px 265.31px,#363093 265.31px 269.62px,#363092 269.62px 273.94px,#362f91 273.94px 278.25px,#362f90 278.25px 286.88px,#362e8f 286.88px 295.51px,#362e8e 295.51px 301.98px)"></div>
<div class="hr" style="left:64.00px;top:264.49px;width:301.98px;height:10.57px;background:linear-gradient(90deg,#12afb7 0.00px 2.16px,#07aac1 2.16px 6.47px,#06a3ca 6.47px 10.78px,#06a0cd 10.78px 15.10px,#079cd0 15.10px 19.41px,#0a97d1 19.41px 23.73px,#0d93d2 23.73px 28.04px,#108ed2 28.04px 32.35px,#138ad3 32.35px 36.67px,#1486d4 36.67px 40.98px,#1482d5 40.98px 45.30px,#1480d6 45.30px 49.61px,#137ed7 49.61px 53.92px,#127cd8 53.92px 58.24px,#117ada 58.24px 62.55px,#0f78db 62.55px 66.87px,#0e77db 66.87px 71.18px,#0d75dc 71.18px 75.50px,#0c74dd 75.50px 79.81px,#0a73de 79.81px 84.12px,#0971de 84.12px 88.44px,#0871df 88.44px 92.75px,#0770df 92.75px 97.06px,#076fdf 97.06px 101.38px,#066fdf 101.38px 105.69px,#056ee0 105.69px 110.01px,#056de0 110.01px 114.32px,#046ce0 114.32px 122.95px,#036be0 122.95px 127.26px,#036ae1 127.26px 131.58px,#026ae1 131.58px 135.89px,#0269e1 135.89px 140.20px,#0268e1 140.20px 148.83px,#0267e1 148.83px 153.15px,#0266e1 153.15px 161.77px,#0265e1 161.77px 166.09px,#0364e1 166.09px 174.72px,#0363e1 174.72px 179.03px,#0462e1 179.03px 183.34px,#0562e0 183.34px 187.66px,#0661e0 187.66px 191.97px,#0860e0 191.97px 196.29px,#095fdf 196.29px 200.60px,#0a5fdf 200.60px 204.91px,#0c5ede 204.91px 209.23px,#0d5dde 209.23px 213.54px,#0e5cde 213.54px 217.86px,#0f5cde 217.86px 222.17px,#0f5cdd 222.17px 226.48px,#105bdd 226.48px 235.11px,#36359c 235.11px 239.43px,#36349a 239.43px 243.74px,#363398 243.74px 248.06px,#363296 248.06px 252.37px,#363195 252.37px 256.68px,#363194 256.68px 261.00px,#363093 261.00px 265.31px,#363092 265.31px 269.62px,#362f91 269.62px 278.25px,#362f90 278.25px 282.57px,#362e8f 282.57px 291.19px,#362e8e 291.19px 299.82px,#362d8d 299.82px 301.98px)"></div>
<div class="hr" style="left:64.00px;top:275.05px;width:301.98px;height:10.56px;background:linear-gradient(90deg,#14b0b5 0.00px 2.16px,#09abbf 2.16px 6.47px,#06a5c8 6.47px 10.78px,#06a2cc 10.78px 15.10px,#079ecf 15.10px 19.41px,#0899d1 19.41px 23.73px,#0b95d2 23.73px 28.04px,#0f90d2 28.04px 32.35px,#128bd2 32.35px 36.67px,#1487d3 36.67px 40.98px,#1483d5 40.98px 45.30px,#1481d5 45.30px 49.61px,#137fd7 49.61px 53.92px,#137dd8 53.92px 58.24px,#127bd9 58.24px 62.55px,#1079da 62.55px 66.87px,#0f78db 66.87px 71.18px,#0e77db 71.18px 75.50px,#0d75dc 75.50px 79.81px,#0c74dd 79.81px 84.12px,#0a73de 84.12px 88.44px,#0972de 88.44px 92.75px,#0971de 92.75px 97.06px,#0871df 97.06px 101.38px,#0770df 101.38px 105.69px,#076fdf 105.69px 110.01px,#066fdf 110.01px 114.32px,#056ee0 114.32px 118.64px,#056de0 118.64px 122.95px,#046de0 122.95px 127.26px,#046ce0 127.26px 131.58px,#036be0 131.58px 135.89px,#036be1 135.89px 140.20px,#036ae1 140.20px 144.52px,#0269e1 144.52px 153.15px,#0268e1 153.15px 161.77px,#0267e1 161.77px 166.09px,#0266e1 166.09px 174.72px,#0265e1 174.72px 179.03px,#0364e1 179.03px 187.66px,#0363e1 187.66px 196.29px,#0562e0 196.29px 200.60px,#0661e0 200.60px 204.91px,#0860e0 204.91px 209.23px,#095fdf 209.23px 213.54px,#0a5fdf 213.54px 217.86px,#0a5edf 217.86px 222.17px,#0b5edf 222.17px 226.48px,#36359e 226.48px 230.80px,#36359c 230.80px 235.11px,#36349a 235.11px 239.43px,#363399 239.43px 243.74px,#363297 243.74px 248.06px,#363195 248.06px 252.37px,#363194 252.37px 256.68px,#363093 256.68px 261.00px,#363092 261.00px 265.31px,#362f91 265.31px 273.94px,#362f90 273.94px 278.25px,#362e8f 278.25px 286.88px,#362e8e 286.88px 295.51px,#362d8d 295.51px 299.82px,#352d8d 299.82px 301.98px)"></div>
<div class="hr" style="left:64.00px;top:285.62px;width:301.98px;height:10.56px;background:linear-gradient(90deg,#16b1b4 0.00px 2.16px,#0aacbd 2.16px 6.47px,#06a7c6 6.47px 10.78px,#06a3ca 10.78px 15.10px,#069fce 15.10px 19.41px,#089bd0 19.41px 23.73px,#0a97d1 23.73px 28.04px,#0d92d2 28.04px 32.35px,#118dd2 32.35px 36.67px,#1389d3 36.67px 40.98px,#1485d4 40.98px 45.30px,#1483d5 45.30px 49.61px,#1481d6 49.61px 53.92px,#137fd7 53.92px 58.24px,#127dd8 58.24px 62.55px,#117bd9 62.55px 66.87px,#1079da 66.87px 71.18px,#0f78db 71.18px 75.50px,#0e77db 75.50px 79.81px,#0d75dc 79.81px 84.12px,#0c74dd 84.12px 88.44px,#0b73dd 88.44px 92.75px,#0a73de 92.75px 97.06px,#0972de 97.06px 101.38px,#0971de 101.38px 105.69px,#0871de 105.69px 110.01px,#0770df 110.01px 114.32px,#076fdf 114.32px 118.64px,#066fdf 118.64px 122.95px,#066ee0 122.95px 127.26px,#056de0 127.26px 131.58px,#046de0 131.58px 135.89px,#046ce0 135.89px 144.52px,#036be0 144.52px 148.83px,#036ae1 148.83px 153.15px,#026ae1 153.15px 157.46px,#0269e1 157.46px 166.09px,#0268e1 166.09px 174.72px,#0267e1 174.72px 179.03px,#0266e1 179.03px 187.66px,#0265e1 187.66px 191.97px,#0364e1 191.97px 200.60px,#0363e1 200.60px 209.23px,#0562e0 209.23px 213.54px,#0661e0 213.54px 217.86px,#36369f 217.86px 222.17px,#36359d 222.17px 226.48px,#36359c 226.48px 230.80px,#36349a 230.80px 235.11px,#363399 235.11px 239.43px,#363297 239.43px 243.74px,#363296 243.74px 248.06px,#363194 248.06px 252.37px,#363093 252.37px 256.68px,#363092 256.68px 261.00px,#362f91 261.00px 269.62px,#362f90 269.62px 273.94px,#362e8f 273.94px 282.57px,#362e8e 282.57px 291.19px,#362d8d 291.19px 295.51px,#352d8d 295.51px 299.82px,#352d8c 299.82px 301.98px)"></div>
<div class="hr" style="left:64.00px;top:296.18px;width:301.98px;height:10.56px;background:linear-gradient(90deg,#26b5a9 0.00px 2.16px,#15b0b4 2.16px 6.47px,#09abbf 6.47px 10.78px,#06a8c4 10.78px 15.10px,#06a5c9 15.10px 19.41px,#06a0cd 19.41px 23.73px,#079dcf 23.73px 28.04px,#0899d1 28.04px 32.35px,#0b95d2 32.35px 36.67px,#0f90d2 36.67px 40.98px,#128bd2 40.98px 45.30px,#1389d3 45.30px 49.61px,#1486d3 49.61px 53.92px,#1484d4 53.92px 58.24px,#1482d5 58.24px 62.55px,#1480d6 62.55px 66.87px,#137ed7 66.87px 71.18px,#137dd8 71.18px 75.50px,#127cd9 75.50px 79.81px,#117ad9 79.81px 84.12px,#1079da 84.12px 88.44px,#1078da 88.44px 92.75px,#0f78db 92.75px 97.06px,#0e77db 97.06px 101.38px,#0e76dc 101.38px 105.69px,#0d76dc 105.69px 110.01px,#0d75dc 110.01px 114.32px,#0c74dd 114.32px 118.64px,#0b74dd 118.64px 122.95px,#0b73dd 122.95px 127.26px,#0a72de 127.26px 131.58px,#0972de 131.58px 135.89px,#0871de 135.89px 140.20px,#0870df 140.20px 144.52px,#076fdf 144.52px 148.83px,#066fdf 148.83px 153.15px,#066edf 153.15px 157.46px,#056ee0 157.46px 161.77px,#056de0 161.77px 166.09px,#046de0 166.09px 170.40px,#046ce0 170.40px 179.03px,#036be0 179.03px 183.34px,#036be1 183.34px 187.66px,#036ae1 187.66px 191.97px,#026ae1 191.97px 196.29px,#0269e1 196.29px 209.23px,#3637a0 209.23px 213.54px,#36369e 213.54px 217.86px,#36359d 217.86px 222.17px,#36349b 222.17px 226.48px,#36349a 226.48px 230.80px,#363398 230.80px 235.11px,#363297 235.11px 239.43px,#363296 239.43px 243.74px,#363194 243.74px 248.06px,#363093 248.06px 252.37px,#363092 252.37px 256.68px,#362f91 256.68px 261.00px,#362f90 261.00px 269.62px,#362e8f 269.62px 278.25px,#362e8e 278.25px 286.88px,#362d8d 286.88px 291.19px,#352d8d 291.19px 295.51px,#352d8c 295.51px 301.98px)"></div>
<div class="hr" style="left:64.00px;top:306.75px;width:301.98px;height:10.56px;background:linear-gradient(90deg,#38b99d 0.00px 2.16px,#23b5ab 2.16px 6.47px,#12afb7 6.47px 10.78px,#0bacbd 10.78px 15.10px,#07a9c3 15.10px 19.41px,#06a5c8 19.41px 23.73px,#06a2cb 23.73px 28.04px,#069fce 28.04px 32.35px,#079bd0 32.35px 36.67px,#0997d1 36.67px 40.98px,#0d93d2 40.98px 45.30px,#0f90d2 45.30px 49.61px,#118dd2 49.61px 53.92px,#138ad3 53.92px 58.24px,#1487d3 58.24px 62.55px,#1485d4 62.55px 66.87px,#1483d5 66.87px 71.18px,#1482d5 71.18px 75.50px,#1481d6 75.50px 79.81px,#137fd7 79.81px 84.12px,#137ed7 84.12px 88.44px,#137dd8 88.44px 92.75px,#127dd8 92.75px 97.06px,#127cd8 97.06px 101.38px,#127bd9 101.38px 105.69px,#117bd9 105.69px 110.01px,#117ad9 110.01px 114.32px,#1079da 114.32px 122.95px,#0f78db 122.95px 127.26px,#0e77db 127.26px 131.58px,#0e76dc 131.58px 135.89px,#0d75dc 135.89px 140.20px,#0c74dd 140.20px 144.52px,#0b74dd 144.52px 148.83px,#0a73dd 148.83px 153.15px,#0a72de 153.15px 157.46px,#0972de 157.46px 161.77px,#0971de 161.77px 166.09px,#0871de 166.09px 170.40px,#0870df 170.40px 174.72px,#0770df 174.72px 183.34px,#066fdf 183.34px 191.97px,#066ee0 191.97px 196.29px,#3638a3 196.29px 200.60px,#3637a1 200.60px 204.91px,#36369f 204.91px 209.23px,#36359d 209.23px 213.54px,#36349b 213.54px 217.86px,#36349a 217.86px 222.17px,#363399 222.17px 226.48px,#363398 226.48px 230.80px,#363297 230.80px 235.11px,#363196 235.11px 239.43px,#363194 239.43px 243.74px,#363093 243.74px 248.06px,#363092 248.06px 252.37px,#362f91 252.37px 256.68px,#362f90 256.68px 261.00px,#362f8f 261.00px 265.31px,#362e8f 265.31px 269.62px,#362e8e 269.62px 278.25px,#362e8d 278.25px 282.57px,#362d8d 282.57px 286.88px,#352d8d 286.88px 291.19px,#352d8c 291.19px 299.82px,#352d8b 299.82px 301.98px)"></div>
<div class="hr" style="left:64.00px;top:317.31px;width:301.98px;height:10.56px;background:linear-gradient(90deg,#5fbe89 0.00px 2.16px,#43bb97 2.16px 6.47px,#2bb6a6 6.47px 10.78px,#1eb3ae 10.78px 15.10px,#13b0b6 15.10px 19.41px,#0aacbd 19.41px 23.73px,#07a9c2 23.73px 28.04px,#06a6c7 28.04px 32.35px,#06a3ca 32.35px 36.67px,#069fce 36.67px 40.98px,#089bd0 40.98px 45.30px,#0998d1 45.30px 49.61px,#0b95d2 49.61px 53.92px,#0e92d2 53.92px 58.24px,#108fd2 58.24px 62.55px,#128bd2 62.55px 66.87px,#138ad3 66.87px 71.18px,#1388d3 71.18px 75.50px,#1486d4 75.50px 79.81px,#1485d4 79.81px 84.12px,#1483d5 84.12px 88.44px,#1482d5 88.44px 92.75px,#1481d5 92.75px 97.06px,#1481d6 97.06px 101.38px,#1480d6 101.38px 105.69px,#137fd7 105.69px 110.01px,#137ed7 110.01px 118.64px,#127dd8 118.64px 122.95px,#127cd8 122.95px 127.26px,#117bd9 127.26px 131.58px,#117ad9 131.58px 135.89px,#117ada 135.89px 140.20px,#1079da 140.20px 148.83px,#0f78da 148.83px 153.15px,#0f78db 153.15px 157.46px,#0f77db 157.46px 166.09px,#0e77db 166.09px 170.40px,#0e76dc 170.40px 179.03px,#0d76dc 179.03px 183.34px,#0d75dc 183.34px 187.66px,#3639a4 187.66px 191.97px,#3638a2 191.97px 196.29px,#3637a1 196.29px 200.60px,#36369f 200.60px 204.91px,#36359d 204.91px 209.23px,#36349b 209.23px 213.54px,#363399 213.54px 217.86px,#363398 217.86px 222.17px,#363297 222.17px 226.48px,#363296 226.48px 230.80px,#363195 230.80px 235.11px,#363194 235.11px 239.43px,#363093 239.43px 243.74px,#363092 243.74px 248.06px,#362f91 248.06px 252.37px,#362f90 252.37px 256.68px,#362e8f 256.68px 265.31px,#362e8e 265.31px 273.94px,#362d8d 273.94px 278.25px,#352d8d 278.25px 282.57px,#352d8c 282.57px 295.51px,#352d8b 295.51px 299.82px,#352c8b 299.82px 301.98px)"></div>
<div class="hr" style="left:64.00px;top:327.88px;width:301.98px;height:10.56px;background:linear-gradient(90deg,#87bf77 0.00px 2.16px,#69be84 2.16px 6.47px,#4bbc93 6.47px 10.78px,#38b99d 10.78px 15.10px,#28b6a7 15.10px 19.41px,#1ab2b1 19.41px 23.73px,#11afb7 23.73px 28.04px,#0aacbd 28.04px 32.35px,#07a9c3 32.35px 36.67px,#06a5c8 36.67px 40.98px,#06a1cc 40.98px 45.30px,#069fce 45.30px 49.61px,#079cd0 49.61px 53.92px,#0899d1 53.92px 58.24px,#0a96d1 58.24px 62.55px,#0d93d2 62.55px 66.87px,#0e91d2 66.87px 71.18px,#108fd2 71.18px 75.50px,#118dd2 75.50px 79.81px,#128bd3 79.81px 84.12px,#1389d3 84.12px 88.44px,#1388d3 88.44px 92.75px,#1487d3 92.75px 97.06px,#1486d4 97.06px 101.38px,#1485d4 101.38px 105.69px,#1484d4 105.69px 110.01px,#1483d5 110.01px 114.32px,#1482d5 114.32px 118.64px,#1481d6 118.64px 122.95px,#1480d6 122.95px 127.26px,#137fd7 127.26px 135.89px,#137ed7 135.89px 148.83px,#137dd7 148.83px 153.15px,#137dd8 153.15px 161.77px,#127dd8 161.77px 166.09px,#127cd8 166.09px 179.03px,#3639a5 179.03px 183.34px,#3638a4 183.34px 187.66px,#3637a2 187.66px 191.97px,#3636a0 191.97px 196.29px,#36369e 196.29px 200.60px,#36359c 200.60px 204.91px,#36349a 204.91px 209.23px,#363398 209.23px 213.54px,#363297 213.54px 217.86px,#363296 217.86px 222.17px,#363195 222.17px 226.48px,#363194 226.48px 230.80px,#363093 230.80px 235.11px,#363092 235.11px 239.43px,#362f91 239.43px 248.06px,#362f90 248.06px 252.37px,#362e8f 252.37px 256.68px,#362e8e 256.68px 265.31px,#362d8d 265.31px 269.62px,#352d8d 269.62px 278.25px,#352d8c 278.25px 291.19px,#352c8b 291.19px 299.82px,#352c8a 299.82px 301.98px)"></div>
<div class="hr" style="left:64.00px;top:338.44px;width:301.98px;height:10.56px;background:linear-gradient(90deg,#b8bd63 0.00px 2.16px,#9bbf6f 2.16px 6.47px,#7abf7c 6.47px 10.78px,#5fbe89 10.78px 15.10px,#44bb96 15.10px 19.41px,#2db7a4 19.41px 23.73px,#21b4ac 23.73px 28.04px,#17b1b3 28.04px 32.35px,#0eaeba 32.35px 36.67px,#08abc0 36.67px 40.98px,#06a7c6 40.98px 45.30px,#06a3ca 45.30px 49.61px,#06a1cc 49.61px 53.92px,#069ece 53.92px 58.24px,#079bd0 58.24px 62.55px,#0998d1 62.55px 66.87px,#0a96d1 66.87px 71.18px,#0c94d2 71.18px 75.50px,#0d92d2 75.50px 79.81px,#0f90d2 79.81px 84.12px,#108ed2 84.12px 88.44px,#118dd2 88.44px 92.75px,#128cd2 92.75px 97.06px,#128bd3 97.06px 101.38px,#1389d3 101.38px 105.69px,#1388d3 105.69px 110.01px,#1487d3 110.01px 114.32px,#1486d4 114.32px 118.64px,#1485d4 118.64px 127.26px,#1484d4 127.26px 131.58px,#1483d5 131.58px 140.20px,#1482d5 140.20px 144.52px,#1481d5 144.52px 148.83px,#1481d6 148.83px 153.15px,#1480d6 153.15px 161.77px,#137fd7 161.77px 166.09px,#353cab 166.09px 170.40px,#353ba8 170.40px 174.72px,#363aa6 174.72px 179.03px,#3639a4 179.03px 183.34px,#3638a2 183.34px 187.66px,#3637a1 187.66px 191.97px,#36369f 191.97px 196.29px,#36359d 196.29px 200.60px,#36349b 200.60px 204.91px,#36349a 204.91px 209.23px,#363398 209.23px 213.54px,#363296 213.54px 217.86px,#363195 217.86px 226.48px,#363194 226.48px 230.80px,#363093 230.80px 235.11px,#363092 235.11px 239.43px,#362f91 239.43px 243.74px,#362f90 243.74px 252.37px,#362e8f 252.37px 256.68px,#362e8e 256.68px 261.00px,#362e8d 261.00px 265.31px,#362d8d 265.31px 269.62px,#352d8d 269.62px 273.94px,#352d8c 273.94px 286.88px,#352d8b 286.88px 291.19px,#352c8b 291.19px 299.82px,#352c8a 299.82px 301.98px)"></div>
<div class="hr" style="left:64.00px;top:349.01px;width:301.98px;height:10.57px;background:linear-gradient(90deg,#e8b94f 0.00px 2.16px,#cebb5a 2.16px 6.47px,#b3bd65 6.47px 10.78px,#9ebe6e 10.78px 15.10px,#87bf77 15.10px 19.41px,#6dbf82 19.41px 23.73px,#51bd8f 23.73px 28.04px,#41ba98 28.04px 32.35px,#33b8a1 32.35px 36.67px,#26b5a9 36.67px 40.98px,#1ab2b1 40.98px 45.30px,#14b0b5 45.30px 49.61px,#0eaeba 49.61px 53.92px,#09acbe 53.92px 58.24px,#07a9c2 58.24px 62.55px,#06a7c6 62.55px 66.87px,#06a5c8 66.87px 71.18px,#06a3ca 71.18px 75.50px,#06a1cc 75.50px 79.81px,#069fce 79.81px 84.12px,#079dcf 84.12px 88.44px,#079cd0 88.44px 92.75px,#089ad0 92.75px 97.06px,#0998d1 97.06px 101.38px,#0a96d1 101.38px 105.69px,#0c94d2 105.69px 110.01px,#0e92d2 110.01px 114.32px,#0f90d2 114.32px 118.64px,#108fd2 118.64px 122.95px,#118dd2 122.95px 127.26px,#118cd2 127.26px 131.58px,#128bd2 131.58px 135.89px,#128ad3 135.89px 140.20px,#1389d3 140.20px 144.52px,#1388d3 144.52px 148.83px,#1487d3 148.83px 153.15px,#343fb1 153.15px 157.46px,#353eae 157.46px 161.77px,#353cac 161.77px 166.09px,#353ba9 166.09px 170.40px,#363aa7 170.40px 174.72px,#3639a5 174.72px 179.03px,#3638a3 179.03px 183.34px,#3637a1 183.34px 187.66px,#3636a0 187.66px 191.97px,#36369e 191.97px 196.29px,#36359c 196.29px 200.60px,#36349b 200.60px 204.91px,#363399 204.91px 209.23px,#363298 209.23px 213.54px,#363296 213.54px 217.86px,#363195 217.86px 222.17px,#363194 222.17px 226.48px,#363093 226.48px 235.11px,#363092 235.11px 239.43px,#362f91 239.43px 243.74px,#362f90 243.74px 248.06px,#362e8f 248.06px 252.37px,#362e8e 252.37px 261.00px,#362d8d 261.00px 265.31px,#352d8d 265.31px 273.94px,#352d8c 273.94px 286.88px,#352c8b 286.88px 295.51px,#352c8a 295.51px 301.98px)"></div>
<div class="hr" style="left:64.00px;top:359.57px;width:301.98px;height:10.57px;background:linear-gradient(90deg,#fcbd3f 0.00px 2.16px,#eab94e 2.16px 6.47px,#d5ba57 6.47px 10.78px,#c3bc5f 10.78px 15.10px,#b0bd66 15.10px 19.41px,#9cbf6e 19.41px 23.73px,#87bf77 23.73px 28.04px,#73bf7f 28.04px 32.35px,#5fbe89 32.35px 36.67px,#4bbc93 36.67px 40.98px,#38b99d 40.98px 45.30px,#2fb7a3 45.30px 49.61px,#27b5a8 49.61px 53.92px,#20b4ad 53.92px 58.24px,#19b2b2 58.24px 62.55px,#12afb7 62.55px 66.87px,#0eaeb9 66.87px 71.18px,#0badbc 71.18px 75.50px,#09abbf 75.50px 79.81px,#07aac2 79.81px 84.12px,#06a8c4 84.12px 88.44px,#06a6c6 88.44px 92.75px,#06a5c9 92.75px 97.06px,#06a4ca 97.06px 101.38px,#06a3cb 101.38px 105.69px,#06a2cb 105.69px 110.01px,#06a1cc 110.01px 118.64px,#06a0cd 118.64px 127.26px,#069fce 127.26px 135.89px,#069ece 135.89px 140.20px,#3243b9 140.20px 144.52px,#3341b5 144.52px 148.83px,#343fb1 148.83px 153.15px,#353eaf 153.15px 157.46px,#353dac 157.46px 161.77px,#353baa 161.77px 166.09px,#353aa8 166.09px 170.40px,#3639a5 170.40px 174.72px,#3638a3 174.72px 179.03px,#3637a2 179.03px 183.34px,#3637a0 183.34px 187.66px,#36369f 187.66px 191.97px,#36359d 191.97px 196.29px,#36349c 196.29px 200.60px,#36349a 200.60px 204.91px,#363399 204.91px 209.23px,#363297 209.23px 213.54px,#363196 213.54px 217.86px,#363195 217.86px 222.17px,#363194 222.17px 226.48px,#363093 226.48px 230.80px,#363092 230.80px 235.11px,#363091 235.11px 239.43px,#362f91 239.43px 243.74px,#362f90 243.74px 248.06px,#362e8f 248.06px 252.37px,#362e8e 252.37px 256.68px,#362e8d 256.68px 261.00px,#362d8d 261.00px 265.31px,#352d8d 265.31px 269.62px,#352d8c 269.62px 282.57px,#352d8b 282.57px 286.88px,#352c8b 286.88px 295.51px,#352c8a 295.51px 301.98px)"></div>
<div class="hr" style="left:64.00px;top:370.14px;width:301.98px;height:10.56px;background:linear-gradient(90deg,#f9fb0e 0.00px 2.16px,#fec535 2.16px 6.47px,#fabc41 6.47px 10.78px,#ecb94c 10.78px 15.10px,#daba55 15.10px 19.41px,#c7bc5d 19.41px 23.73px,#b9bd63 23.73px 28.04px,#abbe69 28.04px 32.35px,#9cbf6f 32.35px 36.67px,#8bbf75 36.67px 40.98px,#7abf7c 40.98px 45.30px,#6ebf82 45.30px 49.61px,#62be87 49.61px 53.92px,#55bd8d 53.92px 58.24px,#49bc94 58.24px 62.55px,#3eba9a 62.55px 66.87px,#37b99e 66.87px 71.18px,#31b8a2 71.18px 75.50px,#2ab6a6 75.50px 79.81px,#24b5aa 79.81px 84.12px,#1fb3ae 84.12px 88.44px,#1cb3af 88.44px 92.75px,#1ab2b1 92.75px 97.06px,#18b1b2 97.06px 101.38px,#16b1b4 101.38px 105.69px,#14b0b5 105.69px 110.01px,#12afb7 110.01px 114.32px,#10afb8 114.32px 118.64px,#0faeb9 118.64px 122.95px,#2a4cc9 122.95px 127.26px,#2d49c4 127.26px 131.58px,#2f47c0 131.58px 135.89px,#3145bc 135.89px 140.20px,#3342b7 140.20px 144.52px,#3440b3 144.52px 148.83px,#353eaf 148.83px 153.15px,#353dac 153.15px 157.46px,#353caa 157.46px 161.77px,#353ba8 161.77px 166.09px,#3639a6 166.09px 170.40px,#3638a4 170.40px 174.72px,#3638a2 174.72px 179.03px,#3637a1 179.03px 183.34px,#36369f 183.34px 187.66px,#36359e 187.66px 191.97px,#36359c 191.97px 196.29px,#36349b 196.29px 200.60px,#363399 200.60px 204.91px,#363398 204.91px 209.23px,#363297 209.23px 213.54px,#363195 213.54px 217.86px,#363194 217.86px 226.48px,#363093 226.48px 230.80px,#363092 230.80px 235.11px,#362f91 235.11px 239.43px,#362f90 239.43px 248.06px,#362e8f 248.06px 252.37px,#362e8e 252.37px 256.68px,#362d8d 256.68px 261.00px,#352d8d 261.00px 269.62px,#352d8c 269.62px 282.57px,#352c8b 282.57px 291.19px,#352c8a 291.19px 301.98px)"></div>
<div class="hr" style="left:64.00px;top:380.70px;width:301.98px;height:10.57px;background:linear-gradient(90deg,#f9fb0e 0.00px 19.41px,#fdbe3e 19.41px 23.73px,#f6ba46 23.73px 28.04px,#edb94c 28.04px 32.35px,#e3b951 32.35px 36.67px,#d9ba56 36.67px 40.98px,#cebb5a 40.98px 45.30px,#c3bc5f 45.30px 49.61px,#b8bd63 49.61px 53.92px,#aebe67 53.92px 58.24px,#a3be6c 58.24px 62.55px,#98bf70 62.55px 66.87px,#8dbf75 66.87px 71.18px,#85bf78 71.18px 75.50px,#7dbf7b 75.50px 79.81px,#75bf7f 79.81px 84.12px,#6dbf82 84.12px 88.44px,#69be84 88.44px 92.75px,#64be86 92.75px 97.06px,#60be88 97.06px 101.38px,#5cbe8a 101.38px 105.69px,#58bd8c 105.69px 110.01px,#1e54d5 110.01px 114.32px,#2251d1 114.32px 118.64px,#264fcd 118.64px 122.95px,#294cc9 122.95px 127.26px,#2d49c4 127.26px 131.58px,#2f47c0 131.58px 135.89px,#3144bb 135.89px 140.20px,#3342b6 140.20px 144.52px,#3440b3 144.52px 148.83px,#343eb0 148.83px 153.15px,#353dae 153.15px 157.46px,#353cab 157.46px 161.77px,#353aa8 161.77px 166.09px,#3639a5 166.09px 170.40px,#3638a3 170.40px 174.72px,#3637a2 174.72px 179.03px,#3637a0 179.03px 183.34px,#36369f 183.34px 187.66px,#36359d 187.66px 191.97px,#36349c 191.97px 196.29px,#36349a 196.29px 200.60px,#363399 200.60px 204.91px,#363297 204.91px 209.23px,#363296 209.23px 213.54px,#363194 213.54px 222.17px,#363093 222.17px 226.48px,#363092 226.48px 230.80px,#362f91 230.80px 239.43px,#362f90 239.43px 243.74px,#362e8f 243.74px 248.06px,#362e8e 248.06px 252.37px,#362e8d 252.37px 256.68px,#352d8d 256.68px 261.00px,#352d8c 261.00px 273.94px,#352d8b 273.94px 278.25px,#352c8b 278.25px 286.88px,#352c8a 286.88px 299.82px,#352c89 299.82px 301.98px)"></div>
<div class="hr" style="left:64.00px;top:391.27px;width:301.98px;height:10.56px;background:linear-gradient(90deg,#f9fb0e 0.00px 53.92px,#f5e11f 53.92px 58.24px,#f5e020 58.24px 62.55px,#f5df20 62.55px 66.87px,#f5de21 66.87px 71.18px,#f6dd22 71.18px 79.81px,#f6dc23 79.81px 84.12px,#046de0 84.12px 88.44px,#046ce0 88.44px 92.75px,#0268e1 92.75px 97.06px,#0365e1 97.06px 101.38px,#0760e0 101.38px 105.69px,#0f5cdd 105.69px 110.01px,#1857d8 110.01px 114.32px,#1f53d4 114.32px 118.64px,#2450cf 118.64px 122.95px,#294cca 122.95px 127.26px,#2d49c4 127.26px 131.58px,#2f46bf 131.58px 135.89px,#3244ba 135.89px 140.20px,#3341b5 140.20px 144.52px,#3340b3 144.52px 148.83px,#343fb1 148.83px 153.15px,#343eaf 153.15px 157.46px,#353cab 157.46px 161.77px,#363aa7 161.77px 166.09px,#3639a4 166.09px 170.40px,#3638a3 170.40px 174.72px,#3637a1 174.72px 179.03px,#3636a0 179.03px 183.34px,#36369e 183.34px 187.66px,#36359c 187.66px 191.97px,#36349b 191.97px 196.29px,#363399 196.29px 200.60px,#363398 200.60px 204.91px,#363297 204.91px 209.23px,#363195 209.23px 213.54px,#363194 213.54px 217.86px,#363093 217.86px 222.17px,#363092 222.17px 226.48px,#362f91 226.48px 235.11px,#362f90 235.11px 239.43px,#362e8f 239.43px 243.74px,#362e8e 243.74px 248.06px,#362e8d 248.06px 252.37px,#352d8d 252.37px 256.68px,#352d8c 256.68px 265.31px,#352d8b 265.31px 269.62px,#352c8b 269.62px 278.25px,#352c8a 278.25px 295.51px,#352c89 295.51px 299.82px,#352b89 299.82px 301.98px)"></div>
<div class="hr" style="left:64.00px;top:401.83px;width:301.98px;height:10.57px;background:linear-gradient(90deg,#f9fb0e 0.00px 53.92px,#069fce 53.92px 58.24px,#0a97d1 58.24px 62.55px,#118dd2 62.55px 66.87px,#1485d4 66.87px 71.18px,#1480d6 71.18px 75.50px,#117bd9 75.50px 79.81px,#0e76dc 79.81px 84.12px,#0870df 84.12px 88.44px,#056de0 88.44px 92.75px,#036ae1 92.75px 97.06px,#0266e1 97.06px 101.38px,#0462e1 101.38px 105.69px,#0d5dde 105.69px 110.01px,#1658d9 110.01px 114.32px,#2052d3 114.32px 118.64px,#254fce 118.64px 122.95px,#2a4cc9 122.95px 127.26px,#2d49c3 127.26px 131.58px,#3046bf 131.58px 135.89px,#3244ba 135.89px 140.20px,#3342b6 140.20px 144.52px,#343fb2 144.52px 148.83px,#343eaf 148.83px 153.15px,#353dad 153.15px 157.46px,#353cab 157.46px 161.77px,#353ba8 161.77px 166.09px,#363aa6 166.09px 170.40px,#3639a4 170.40px 174.72px,#3638a2 174.72px 179.03px,#3637a1 179.03px 183.34px,#36369f 183.34px 187.66px,#36359d 187.66px 191.97px,#36349b 191.97px 196.29px,#363399 196.29px 200.60px,#363398 200.60px 204.91px,#363297 204.91px 209.23px,#363195 209.23px 213.54px,#363194 213.54px 217.86px,#363093 217.86px 222.17px,#363092 222.17px 226.48px,#362f91 226.48px 235.11px,#362f90 235.11px 239.43px,#362e8f 239.43px 243.74px,#362e8e 243.74px 248.06px,#362e8d 248.06px 252.37px,#352d8d 252.37px 256.68px,#352d8c 256.68px 265.31px,#352d8b 265.31px 269.62px,#352c8b 269.62px 278.25px,#352c8a 278.25px 295.51px,#352c89 295.51px 299.82px,#352b89 299.82px 301.98px)"></div>
<div class="hr" style="left:64.00px;top:412.40px;width:301.98px;height:10.56px;background:linear-gradient(90deg,#f9fb0e 0.00px 23.73px,#daba55 23.73px 28.04px,#b8bd63 28.04px 32.35px,#92bf72 32.35px 36.67px,#39b99d 36.67px 40.98px,#12afb7 40.98px 45.30px,#07a9c3 45.30px 49.61px,#06a5c8 49.61px 53.92px,#06a1cc 53.92px 58.24px,#079dcf 58.24px 62.55px,#0997d1 62.55px 66.87px,#108fd2 66.87px 71.18px,#1482d5 71.18px 75.50px,#0f78db 75.50px 79.81px,#0b73dd 79.81px 84.12px,#066ee0 84.12px 88.44px,#026ae1 88.44px 92.75px,#0365e1 92.75px 97.06px,#0a5fdf 97.06px 101.38px,#1758d9 101.38px 105.69px,#2251d2 105.69px 110.01px,#274ecc 110.01px 114.32px,#2c4ac6 114.32px 118.64px,#2f47c0 118.64px 122.95px,#3144bb 122.95px 127.26px,#3342b7 127.26px 131.58px,#3440b2 131.58px 135.89px,#353eaf 135.89px 140.20px,#353dac 140.20px 144.52px,#353ba9 144.52px 148.83px,#363aa7 148.83px 153.15px,#3639a4 153.15px 157.46px,#3638a2 157.46px 161.77px,#3637a0 161.77px 166.09px,#36369e 166.09px 170.40px,#36359c 170.40px 174.72px,#36349b 174.72px 179.03px,#363399 179.03px 183.34px,#363398 183.34px 187.66px,#363297 187.66px 191.97px,#363296 191.97px 196.29px,#363195 196.29px 200.60px,#363194 200.60px 204.91px,#363092 204.91px 209.23px,#362f91 209.23px 213.54px,#362f90 213.54px 222.17px,#362e8f 222.17px 226.48px,#362e8e 226.48px 235.11px,#362d8d 235.11px 239.43px,#352d8d 239.43px 243.74px,#352d8c 243.74px 252.37px,#352c8b 252.37px 256.68px,#352c8a 256.68px 286.88px,#352c89 286.88px 299.82px,#352b89 299.82px 301.98px)"></div>
<div class="hr" style="left:64.00px;top:422.96px;width:301.98px;height:10.57px;background:linear-gradient(90deg,#f9bb43 0.00px 6.47px,#c7bc5d 6.47px 10.78px,#92bf72 10.78px 15.10px,#62be87 15.10px 19.41px,#3fba99 19.41px 23.73px,#23b5ab 23.73px 28.04px,#12afb7 28.04px 32.35px,#07aac1 32.35px 36.67px,#06a4ca 36.67px 40.98px,#079cd0 40.98px 45.30px,#0d92d2 45.30px 49.61px,#1389d3 49.61px 53.92px,#1483d5 53.92px 58.24px,#137ed7 58.24px 62.55px,#1079da 62.55px 66.87px,#0b73dd 66.87px 71.18px,#066edf 71.18px 75.50px,#036ae1 75.50px 79.81px,#0265e1 79.81px 84.12px,#0761e0 84.12px 88.44px,#105bdd 88.44px 92.75px,#1957d8 92.75px 97.06px,#2152d3 97.06px 101.38px,#274ecc 101.38px 105.69px,#2c4ac6 105.69px 110.01px,#2f47c0 110.01px 114.32px,#3145bc 114.32px 118.64px,#3242b7 118.64px 122.95px,#3440b3 122.95px 127.26px,#343eb0 127.26px 131.58px,#353dad 131.58px 135.89px,#353ba9 135.89px 140.20px,#363aa6 140.20px 144.52px,#3638a3 144.52px 148.83px,#3637a1 148.83px 153.15px,#36369e 153.15px 157.46px,#36359c 157.46px 161.77px,#36349a 161.77px 166.09px,#363399 166.09px 170.40px,#363297 170.40px 174.72px,#363195 174.72px 179.03px,#363194 179.03px 183.34px,#363092 183.34px 187.66px,#362f91 187.66px 191.97px,#362f8f 191.97px 196.29px,#362e8f 196.29px 200.60px,#362e8e 200.60px 204.91px,#362d8d 204.91px 209.23px,#352d8d 209.23px 213.54px,#352d8c 213.54px 222.17px,#352d8b 222.17px 226.48px,#352c8b 226.48px 235.11px,#352c8a 235.11px 252.37px,#352c89 252.37px 256.68px,#352b89 256.68px 295.51px,#352b88 295.51px 301.98px)"></div>
<div class="hr" style="left:64.00px;top:433.53px;width:301.98px;height:10.56px;background:linear-gradient(90deg,#23b5ab 0.00px 15.10px,#06a8c4 15.10px 19.41px,#06a7c6 19.41px 23.73px,#06a5c8 23.73px 28.04px,#06a3ca 28.04px 32.35px,#069ece 32.35px 36.67px,#0998d1 36.67px 40.98px,#0f90d2 40.98px 45.30px,#1388d3 45.30px 49.61px,#1481d5 49.61px 53.92px,#127dd8 53.92px 58.24px,#0f78db 58.24px 62.55px,#0a72de 62.55px 66.87px,#046ce0 66.87px 71.18px,#0268e1 71.18px 75.50px,#0265e1 75.50px 79.81px,#0462e1 79.81px 84.12px,#0c5ede 84.12px 88.44px,#1559da 88.44px 92.75px,#1e54d5 92.75px 97.06px,#2450cf 97.06px 101.38px,#2a4cc9 101.38px 105.69px,#2e48c2 105.69px 110.01px,#3145bc 110.01px 114.32px,#3243b8 114.32px 118.64px,#3340b4 118.64px 122.95px,#343eaf 122.95px 127.26px,#353dac 127.26px 131.58px,#353baa 131.58px 135.89px,#363aa7 135.89px 140.20px,#3639a4 140.20px 144.52px,#3637a1 144.52px 148.83px,#36369e 148.83px 153.15px,#36359c 153.15px 157.46px,#36349b 157.46px 161.77px,#363399 161.77px 166.09px,#363297 166.09px 170.40px,#363195 170.40px 174.72px,#363194 174.72px 179.03px,#363093 179.03px 183.34px,#362f91 183.34px 187.66px,#362f90 187.66px 191.97px,#362e8f 191.97px 196.29px,#362e8e 196.29px 204.91px,#362d8d 204.91px 209.23px,#352d8c 209.23px 222.17px,#352d8b 222.17px 226.48px,#352c8b 226.48px 235.11px,#352c8a 235.11px 252.37px,#352c89 252.37px 256.68px,#352b89 256.68px 295.51px,#352b88 295.51px 301.98px)"></div>
<div class="hr" style="left:64.00px;top:444.09px;width:301.98px;height:10.57px;background:linear-gradient(90deg,#06a8c4 0.00px 10.78px,#06a4c9 10.78px 15.10px,#069ece 15.10px 19.41px,#0997d1 19.41px 23.73px,#0d92d2 23.73px 28.04px,#118dd2 28.04px 32.35px,#1389d3 32.35px 36.67px,#1485d4 36.67px 40.98px,#1481d5 40.98px 45.30px,#137ed7 45.30px 49.61px,#117ad9 49.61px 53.92px,#0f77db 53.92px 58.24px,#0b74dd 58.24px 62.55px,#0870df 62.55px 66.87px,#046de0 66.87px 71.18px,#0269e1 71.18px 75.50px,#0265e1 75.50px 79.81px,#0661e0 79.81px 84.12px,#0d5dde 84.12px 88.44px,#1658d9 88.44px 92.75px,#1e54d5 92.75px 97.06px,#2450cf 97.06px 101.38px,#294cc9 101.38px 105.69px,#2d49c4 105.69px 110.01px,#3046be 110.01px 114.32px,#3243b9 114.32px 118.64px,#3341b5 118.64px 122.95px,#343fb1 122.95px 127.26px,#353dad 127.26px 131.58px,#353caa 131.58px 135.89px,#363aa7 135.89px 140.20px,#3639a4 140.20px 144.52px,#3637a1 144.52px 148.83px,#36369e 148.83px 153.15px,#36349c 153.15px 157.46px,#36349a 157.46px 161.77px,#363398 161.77px 166.09px,#363296 166.09px 170.40px,#363194 170.40px 174.72px,#363093 174.72px 179.03px,#363092 179.03px 183.34px,#362f91 183.34px 191.97px,#362f90 191.97px 196.29px,#362e8f 196.29px 200.60px,#362e8e 200.60px 204.91px,#362e8d 204.91px 209.23px,#352d8d 209.23px 213.54px,#352d8c 213.54px 222.17px,#352d8b 222.17px 226.48px,#352c8b 226.48px 235.11px,#352c8a 235.11px 252.37px,#352c89 252.37px 256.68px,#352b89 256.68px 295.51px,#352b88 295.51px 301.98px)"></div>
<div class="hr" style="left:64.00px;top:454.66px;width:301.98px;height:10.56px;background:linear-gradient(90deg,#138ad3 0.00px 2.16px,#1487d3 2.16px 6.47px,#1484d4 6.47px 10.78px,#1482d5 10.78px 15.10px,#1480d6 15.10px 19.41px,#137dd8 19.41px 23.73px,#117bd9 23.73px 28.04px,#0f78db 28.04px 32.35px,#0d75dc 32.35px 36.67px,#0a72de 36.67px 40.98px,#0770df 40.98px 45.30px,#046de0 45.30px 49.61px,#036ae1 49.61px 53.92px,#0268e1 53.92px 58.24px,#0265e1 58.24px 62.55px,#0462e1 62.55px 66.87px,#095fdf 66.87px 71.18px,#0f5cdd 71.18px 75.50px,#1658da 75.50px 79.81px,#1c55d6 79.81px 84.12px,#2152d2 84.12px 88.44px,#264fcd 88.44px 92.75px,#2a4bc8 92.75px 97.06px,#2d49c3 97.06px 101.38px,#3046be 101.38px 105.69px,#3243b9 105.69px 110.01px,#3341b4 110.01px 114.32px,#343eb0 114.32px 118.64px,#353dad 118.64px 122.95px,#353baa 122.95px 127.26px,#363aa7 127.26px 131.58px,#3639a4 131.58px 135.89px,#3637a2 135.89px 140.20px,#36369f 140.20px 144.52px,#36359d 144.52px 148.83px,#36349a 148.83px 153.15px,#363398 153.15px 157.46px,#363296 157.46px 161.77px,#363195 161.77px 166.09px,#363093 166.09px 170.40px,#363091 170.40px 174.72px,#362f90 174.72px 183.34px,#362e8f 183.34px 187.66px,#362e8e 187.66px 196.29px,#362e8d 196.29px 200.60px,#352d8d 200.60px 204.91px,#352d8c 204.91px 213.54px,#352c8b 213.54px 230.80px,#352c8a 230.80px 248.06px,#352c89 248.06px 256.68px,#352b89 256.68px 295.51px,#352b88 295.51px 301.98px)"></div>
<div class="hr" style="left:64.00px;top:465.22px;width:301.98px;height:10.57px;background:linear-gradient(90deg,#117bd9 0.00px 2.16px,#1079da 2.16px 6.47px,#0f78db 6.47px 10.78px,#0e77db 10.78px 15.10px,#0d75dc 15.10px 19.41px,#0c74dd 19.41px 23.73px,#0a72de 23.73px 28.04px,#0870df 28.04px 32.35px,#066edf 32.35px 36.67px,#046de0 36.67px 40.98px,#036be0 40.98px 45.30px,#0269e1 45.30px 49.61px,#0266e1 49.61px 53.92px,#0364e1 53.92px 58.24px,#0860e0 58.24px 62.55px,#0d5dde 62.55px 66.87px,#1459db 66.87px 71.18px,#1b55d7 71.18px 75.50px,#2152d3 75.50px 79.81px,#254fce 79.81px 84.12px,#294cc9 84.12px 88.44px,#2d49c5 88.44px 92.75px,#2f47c0 92.75px 97.06px,#3144bc 97.06px 101.38px,#3242b8 101.38px 105.69px,#3341b4 105.69px 110.01px,#343fb0 110.01px 114.32px,#353dad 114.32px 118.64px,#353baa 118.64px 122.95px,#363aa7 122.95px 127.26px,#3638a4 127.26px 131.58px,#3637a1 131.58px 135.89px,#36369f 135.89px 140.20px,#36359c 140.20px 144.52px,#36349a 144.52px 148.83px,#363398 148.83px 153.15px,#363296 153.15px 157.46px,#363194 157.46px 161.77px,#363093 161.77px 166.09px,#362f91 166.09px 170.40px,#362f90 170.40px 174.72px,#362e8f 174.72px 179.03px,#362e8e 179.03px 191.97px,#362d8d 191.97px 196.29px,#352d8d 196.29px 200.60px,#352d8c 200.60px 213.54px,#352c8b 213.54px 230.80px,#352c8a 230.80px 248.06px,#352c89 248.06px 256.68px,#352b89 256.68px 295.51px,#352b88 295.51px 301.98px)"></div>
<div class="hr" style="left:64.00px;top:475.79px;width:301.98px;height:10.56px;background:linear-gradient(90deg,#0c74dd 0.00px 2.16px,#0a73dd 2.16px 6.47px,#0972de 6.47px 10.78px,#0871df 10.78px 15.10px,#076fdf 15.10px 19.41px,#066edf 19.41px 23.73px,#046de0 23.73px 28.04px,#036be0 28.04px 32.35px,#026ae1 32.35px 36.67px,#0268e1 36.67px 40.98px,#0266e1 40.98px 45.30px,#0364e1 45.30px 49.61px,#0562e0 49.61px 53.92px,#0a5edf 53.92px 58.24px,#115bdc 58.24px 62.55px,#1857d8 62.55px 66.87px,#1f53d4 66.87px 71.18px,#2450d0 71.18px 75.50px,#284dcb 75.50px 79.81px,#2b4bc7 79.81px 84.12px,#2d48c3 84.12px 88.44px,#3046be 88.44px 92.75px,#3243ba 92.75px 97.06px,#3342b6 97.06px 101.38px,#3440b3 101.38px 105.69px,#343eb0 105.69px 110.01px,#353dac 110.01px 114.32px,#353baa 114.32px 118.64px,#363aa7 118.64px 122.95px,#3639a4 122.95px 127.26px,#3637a2 127.26px 131.58px,#36369f 131.58px 135.89px,#36359d 135.89px 140.20px,#36349b 140.20px 144.52px,#363399 144.52px 148.83px,#363296 148.83px 153.15px,#363195 153.15px 157.46px,#363093 157.46px 161.77px,#363092 161.77px 166.09px,#362f90 166.09px 170.40px,#362e8f 170.40px 174.72px,#362e8e 174.72px 183.34px,#362d8d 183.34px 187.66px,#352d8d 187.66px 191.97px,#352d8c 191.97px 204.91px,#352c8b 204.91px 213.54px,#352c8a 213.54px 243.74px,#352c89 243.74px 256.68px,#352b89 256.68px 295.51px,#352b88 295.51px 301.98px)"></div>
<div class="hr" style="left:64.00px;top:486.35px;width:301.98px;height:10.57px;background:linear-gradient(90deg,#0870df 0.00px 2.16px,#076fdf 2.16px 6.47px,#066edf 6.47px 10.78px,#056de0 10.78px 15.10px,#046ce0 15.10px 19.41px,#036be0 19.41px 23.73px,#036ae1 23.73px 28.04px,#0269e1 28.04px 32.35px,#0267e1 32.35px 36.67px,#0265e1 36.67px 40.98px,#0364e1 40.98px 45.30px,#0562e0 45.30px 49.61px,#0a5fdf 49.61px 53.92px,#0f5cdd 53.92px 58.24px,#1658da 58.24px 62.55px,#1c55d6 62.55px 66.87px,#2251d2 66.87px 71.18px,#264ecd 71.18px 75.50px,#2a4cc9 75.50px 79.81px,#2c49c5 79.81px 84.12px,#2f47c1 84.12px 88.44px,#3045bd 88.44px 92.75px,#3243b9 92.75px 97.06px,#3341b5 97.06px 101.38px,#343fb2 101.38px 105.69px,#353eae 105.69px 110.01px,#353cab 110.01px 114.32px,#353ba8 114.32px 118.64px,#3639a5 118.64px 122.95px,#3638a2 122.95px 127.26px,#3636a0 127.26px 131.58px,#36359d 131.58px 135.89px,#36349b 135.89px 140.20px,#363399 140.20px 144.52px,#363297 144.52px 148.83px,#363195 148.83px 153.15px,#363093 153.15px 157.46px,#363092 157.46px 161.77px,#362f91 161.77px 166.09px,#362f90 166.09px 170.40px,#362e8e 170.40px 174.72px,#362d8d 174.72px 179.03px,#352d8d 179.03px 187.66px,#352d8c 187.66px 200.60px,#352d8b 200.60px 204.91px,#352c8b 204.91px 213.54px,#352c8a 213.54px 243.74px,#352c89 243.74px 256.68px,#352b89 256.68px 295.51px,#352b88 295.51px 301.98px)"></div>
<div class="hr" style="left:64.00px;top:496.92px;width:301.98px;height:5.28px;background:linear-gradient(90deg,#066ee0 0.00px 2.16px,#056de0 2.16px 6.47px,#046ce0 6.47px 10.78px,#036be0 10.78px 15.10px,#036be1 15.10px 19.41px,#026ae1 19.41px 23.73px,#0268e1 23.73px 28.04px,#0267e1 28.04px 32.35px,#0265e1 32.35px 36.67px,#0364e1 36.67px 40.98px,#0562e0 40.98px 45.30px,#0960df 45.30px 49.61px,#0d5dde 49.61px 53.92px,#135adb 53.92px 58.24px,#1956d8 58.24px 62.55px,#1f53d4 62.55px 66.87px,#2350d0 66.87px 71.18px,#274dcc 71.18px 75.50px,#2b4bc7 75.50px 79.81px,#2d49c3 79.81px 84.12px,#2f46bf 84.12px 88.44px,#3144bb 88.44px 92.75px,#3242b8 92.75px 97.06px,#3340b4 97.06px 101.38px,#343fb0 101.38px 105.69px,#353dad 105.69px 110.01px,#353baa 110.01px 114.32px,#363aa7 114.32px 118.64px,#3638a4 118.64px 122.95px,#3637a1 122.95px 127.26px,#36369e 127.26px 131.58px,#36359c 131.58px 135.89px,#363399 135.89px 140.20px,#363297 140.20px 144.52px,#363296 144.52px 148.83px,#363194 148.83px 153.15px,#363093 153.15px 157.46px,#363091 157.46px 161.77px,#362f90 161.77px 166.09px,#362e8f 166.09px 170.40px,#362e8e 170.40px 174.72px,#362d8d 174.72px 179.03px,#352d8d 179.03px 187.66px,#352d8c 187.66px 200.60px,#352d8b 200.60px 204.91px,#352c8b 204.91px 213.54px,#352c8a 213.54px 243.74px,#352c89 243.74px 256.68px,#352b89 256.68px 295.51px,#352b88 295.51px 301.98px)"></div>
<div class="hr" style="left:366.20px;top:79.60px;width:303.10px;height:5.28px;background:linear-gradient(90deg,#3d005b 0.00px 2.17px,#3e005c 2.17px 10.82px,#3e005d 10.82px 15.16px,#3f005e 15.16px 19.49px,#3f005f 19.49px 23.81px,#3f0060 23.81px 32.47px,#400061 32.47px 36.80px,#400062 36.80px 41.13px,#400063 41.13px 45.47px,#400064 45.47px 49.79px,#410064 49.79px 54.12px,#410065 54.12px 58.45px,#410066 58.45px 62.78px,#420067 62.78px 67.11px,#420068 67.11px 75.78px,#420069 75.78px 80.11px,#43006a 80.11px 84.43px,#43006b 84.43px 88.77px,#43006a 88.77px 93.09px,#420069 93.09px 101.76px,#420068 101.76px 110.42px,#420067 110.42px 114.75px,#410066 114.75px 123.41px,#410065 123.41px 127.74px,#410064 127.74px 132.07px,#400064 132.07px 136.39px,#400063 136.39px 140.72px,#400062 140.72px 149.38px,#400061 149.38px 153.72px,#3f0061 153.72px 158.04px,#3f0060 158.04px 162.38px,#3f005f 162.38px 171.03px,#3f005e 171.03px 175.37px,#3e005d 175.37px 179.70px,#3e005c 179.70px 184.03px,#3d005b 184.03px 188.36px,#3d005a 188.36px 192.69px,#3d0059 192.69px 197.02px,#3c0058 197.02px 201.34px,#3c0057 201.34px 205.67px,#3c0056 205.67px 210.00px,#3b0055 210.00px 214.34px,#3b0054 214.34px 218.66px,#3a0052 218.66px 223.00px,#3a0050 223.00px 227.33px,#39004e 227.33px 231.66px,#38004d 231.66px 235.99px,#37004b 235.99px 240.32px,#370049 240.32px 244.65px,#360047 244.65px 248.98px,#350045 248.98px 253.31px,#340043 253.31px 257.63px,#330041 257.63px 261.96px,#33003e 261.96px 266.30px,#32003c 266.30px 270.62px,#31003a 270.62px 274.95px,#300037 274.95px 279.29px,#2f0035 279.29px 283.62px,#2d0033 283.62px 287.94px,#2c0030 287.94px 292.28px,#2b002e 292.28px 296.61px,#2a002b 296.61px 300.94px,#290029 300.94px 303.10px)"></div>
<div class="hr" style="left:366.20px;top:84.88px;width:303.10px;height:10.56px;background:linear-gradient(90deg,#400062 0.00px 2.17px,#400063 2.17px 6.49px,#410064 6.49px 10.82px,#410065 10.82px 15.16px,#410066 15.16px 19.49px,#410067 19.49px 23.81px,#420067 23.81px 28.14px,#420068 28.14px 32.47px,#420069 32.47px 36.80px,#43006a 36.80px 41.13px,#43006b 41.13px 45.47px,#43006c 45.47px 49.79px,#44006d 49.79px 54.12px,#44006e 54.12px 58.45px,#44006f 58.45px 67.11px,#450070 67.11px 71.45px,#450071 71.45px 75.78px,#450072 75.78px 80.11px,#460073 80.11px 84.43px,#460074 84.43px 88.77px,#460073 88.77px 97.42px,#450072 97.42px 106.08px,#450071 106.08px 114.75px,#450070 114.75px 119.08px,#440070 119.08px 123.41px,#44006f 123.41px 132.07px,#44006e 132.07px 136.39px,#44006d 136.39px 140.72px,#43006c 140.72px 145.05px,#43006b 145.05px 149.38px,#43006a 149.38px 153.72px,#420069 153.72px 162.38px,#420068 162.38px 166.71px,#420067 166.71px 171.03px,#410066 171.03px 175.37px,#410065 175.37px 179.70px,#400064 179.70px 184.03px,#400062 184.03px 188.36px,#400061 188.36px 192.69px,#3f0060 192.69px 197.02px,#3f005f 197.02px 201.34px,#3e005e 201.34px 205.67px,#3e005c 205.67px 210.00px,#3e005b 210.00px 214.34px,#3d005a 214.34px 218.66px,#3c0058 218.66px 223.00px,#3c0056 223.00px 227.33px,#3b0053 227.33px 231.66px,#3a0051 231.66px 235.99px,#39004f 235.99px 240.32px,#38004d 240.32px 244.65px,#37004b 244.65px 248.98px,#370048 248.98px 253.31px,#360046 253.31px 257.63px,#350044 257.63px 261.96px,#340041 261.96px 266.30px,#33003e 266.30px 270.62px,#31003b 270.62px 274.95px,#300039 274.95px 279.29px,#2f0036 279.29px 283.62px,#2e0033 283.62px 287.94px,#2c0030 287.94px 292.28px,#2b002d 292.28px 296.61px,#2a002a 296.61px 300.94px,#280027 300.94px 303.10px)"></div>
<div class="hr" style="left:366.20px;top:95.45px;width:303.10px;height:10.56px;background:linear-gradient(90deg,#420069 0.00px 2.17px,#43006a 2.17px 6.49px,#43006b 6.49px 10.82px,#43006c 10.82px 15.16px,#44006d 15.16px 19.49px,#44006e 19.49px 23.81px,#44006f 23.81px 28.14px,#450070 28.14px 32.47px,#450071 32.47px 36.80px,#450072 36.80px 41.13px,#460073 41.13px 45.47px,#460074 45.47px 49.79px,#460075 49.79px 54.12px,#470076 54.12px 58.45px,#470077 58.45px 62.78px,#470078 62.78px 67.11px,#480079 67.11px 71.45px,#48007a 71.45px 75.78px,#48007b 75.78px 80.11px,#49007c 80.11px 84.43px,#49007d 84.43px 93.09px,#49007c 93.09px 97.42px,#48007c 97.42px 101.76px,#48007b 101.76px 110.42px,#48007a 110.42px 119.08px,#480079 119.08px 127.74px,#470078 127.74px 132.07px,#470077 132.07px 136.39px,#470076 136.39px 140.72px,#460075 140.72px 145.05px,#460074 145.05px 149.38px,#460073 149.38px 153.72px,#450072 153.72px 158.04px,#450071 158.04px 162.38px,#450070 162.38px 166.71px,#44006f 166.71px 171.03px,#44006e 171.03px 175.37px,#43006c 175.37px 179.70px,#43006b 179.70px 184.03px,#42006a 184.03px 188.36px,#420068 188.36px 192.69px,#420067 192.69px 197.02px,#410065 197.02px 201.34px,#410064 201.34px 205.67px,#400062 205.67px 210.00px,#400061 210.00px 214.34px,#3f0060 214.34px 218.66px,#3e005d 218.66px 223.00px,#3d005b 223.00px 227.33px,#3d0058 227.33px 231.66px,#3c0056 231.66px 235.99px,#3b0054 235.99px 240.32px,#3a0051 240.32px 244.65px,#39004f 244.65px 248.98px,#38004c 248.98px 253.31px,#37004a 253.31px 257.63px,#360047 257.63px 261.96px,#350044 261.96px 266.30px,#330041 266.30px 270.62px,#32003d 270.62px 274.95px,#31003a 274.95px 279.29px,#2f0037 279.29px 283.62px,#2e0033 283.62px 287.94px,#2c0030 287.94px 292.28px,#2b002c 292.28px 296.61px,#290029 296.61px 300.94px,#270026 300.94px 303.10px)"></div>
<div class="hr" style="left:366.20px;top:106.01px;width:303.10px;height:10.56px;background:linear-gradient(90deg,#450070 0.00px 2.17px,#450071 2.17px 6.49px,#450072 6.49px 10.82px,#460073 10.82px 15.16px,#460075 15.16px 19.49px,#460076 19.49px 23.81px,#470077 23.81px 28.14px,#470078 28.14px 32.47px,#480079 32.47px 36.80px,#48007a 36.80px 41.13px,#48007b 41.13px 45.47px,#49007c 45.47px 49.79px,#49007d 49.79px 54.12px,#49007e 54.12px 58.45px,#4a007f 58.45px 62.78px,#4a0081 62.78px 67.11px,#4a0082 67.11px 71.45px,#4b0083 71.45px 75.78px,#4b0084 75.78px 80.11px,#4b0085 80.11px 84.43px,#4c0086 84.43px 93.09px,#4b0085 93.09px 101.76px,#4b0084 101.76px 114.75px,#4b0083 114.75px 127.74px,#4a0082 127.74px 132.07px,#4a0081 132.07px 136.39px,#4a0080 136.39px 140.72px,#49007e 140.72px 145.05px,#49007d 145.05px 149.38px,#48007c 149.38px 153.72px,#48007b 153.72px 158.04px,#480079 158.04px 162.38px,#470078 162.38px 166.71px,#470077 166.71px 171.03px,#460075 171.03px 175.37px,#460074 175.37px 179.70px,#450072 179.70px 184.03px,#450071 184.03px 188.36px,#44006f 188.36px 192.69px,#44006d 192.69px 197.02px,#43006c 197.02px 201.34px,#43006a 201.34px 205.67px,#420068 205.67px 210.00px,#420067 210.00px 214.34px,#410065 214.34px 218.66px,#400063 218.66px 223.00px,#3f0060 223.00px 227.33px,#3e005d 227.33px 231.66px,#3d005b 231.66px 235.99px,#3c0058 235.99px 240.32px,#3b0055 240.32px 244.65px,#3a0053 244.65px 248.98px,#390050 248.98px 253.31px,#38004d 253.31px 257.63px,#37004b 257.63px 261.96px,#360047 261.96px 266.30px,#340043 266.30px 270.62px,#33003f 270.62px 274.95px,#31003b 274.95px 279.29px,#300037 279.29px 283.62px,#2e0034 283.62px 287.94px,#2c0030 287.94px 292.28px,#2a002c 292.28px 296.61px,#280028 296.61px 300.94px,#260024 300.94px 303.10px)"></div>
<div class="hr" style="left:366.20px;top:116.58px;width:303.10px;height:10.56px;background:linear-gradient(90deg,#470077 0.00px 2.17px,#470078 2.17px 6.49px,#480079 6.49px 10.82px,#48007b 10.82px 15.16px,#48007c 15.16px 19.49px,#49007d 19.49px 23.81px,#49007e 23.81px 28.14px,#4a007f 28.14px 32.47px,#4a0081 32.47px 36.80px,#4a0082 36.80px 41.13px,#4b0083 41.13px 45.47px,#4b0084 45.47px 49.79px,#4b0085 49.79px 54.12px,#4c0086 54.12px 58.45px,#4c0088 58.45px 62.78px,#4d0089 62.78px 67.11px,#4d008a 67.11px 71.45px,#4d008b 71.45px 75.78px,#4e008c 75.78px 80.11px,#4e008d 80.11px 84.43px,#4e008f 84.43px 88.77px,#4e008e 88.77px 101.76px,#4e008d 101.76px 119.08px,#4e008c 119.08px 127.74px,#4d008c 127.74px 132.07px,#4d008a 132.07px 136.39px,#4d0089 136.39px 140.72px,#4c0087 140.72px 145.05px,#4c0086 145.05px 149.38px,#4b0084 149.38px 153.72px,#4b0083 153.72px 158.04px,#4a0081 158.04px 162.38px,#4a0080 162.38px 166.71px,#49007f 166.71px 171.03px,#49007d 171.03px 175.37px,#48007b 175.37px 179.70px,#480079 179.70px 184.03px,#470078 184.03px 188.36px,#460076 188.36px 192.69px,#460074 192.69px 197.02px,#450072 197.02px 201.34px,#450070 201.34px 205.67px,#44006e 205.67px 210.00px,#43006d 210.00px 214.34px,#43006b 214.34px 218.66px,#420068 218.66px 223.00px,#410065 223.00px 227.33px,#400062 227.33px 231.66px,#3f005f 231.66px 235.99px,#3e005c 235.99px 240.32px,#3d005a 240.32px 244.65px,#3c0057 244.65px 248.98px,#3b0054 248.98px 253.31px,#3a0051 253.31px 257.63px,#39004e 257.63px 261.96px,#37004a 261.96px 266.30px,#350045 266.30px 270.62px,#340041 270.62px 274.95px,#32003d 274.95px 279.29px,#300038 279.29px 283.62px,#2e0034 283.62px 287.94px,#2c0030 287.94px 292.28px,#2a002b 292.28px 296.61px,#280027 296.61px 300.94px,#250022 300.94px 303.10px)"></div>
<div class="hr" style="left:366.20px;top:127.14px;width:303.10px;height:10.56px;background:linear-gradient(90deg,#4a0081 0.00px 2.17px,#4b0083 2.17px 6.49px,#4b0084 6.49px 10.82px,#4b0085 10.82px 15.16px,#4c0087 15.16px 19.49px,#4c0088 19.49px 23.81px,#4d0089 23.81px 28.14px,#4d008b 28.14px 32.47px,#4e008c 32.47px 36.80px,#4e008d 36.80px 41.13px,#4e008f 41.13px 45.47px,#4f0090 45.47px 49.79px,#4f0091 49.79px 54.12px,#500093 54.12px 58.45px,#500094 58.45px 62.78px,#500095 62.78px 67.11px,#510097 67.11px 71.45px,#510098 71.45px 75.78px,#520099 75.78px 80.11px,#52009b 80.11px 84.43px,#52009c 84.43px 93.09px,#52009b 93.09px 114.75px,#52009a 114.75px 132.07px,#510098 132.07px 136.39px,#510097 136.39px 140.72px,#500095 140.72px 145.05px,#500094 145.05px 149.38px,#500092 149.38px 153.72px,#4f0091 153.72px 158.04px,#4f008f 158.04px 162.38px,#4e008e 162.38px 166.71px,#4e008c 166.71px 171.03px,#4d008b 171.03px 175.37px,#4d0089 175.37px 179.70px,#4c0087 179.70px 184.03px,#4b0084 184.03px 188.36px,#4a0082 188.36px 192.69px,#4a0080 192.69px 197.02px,#49007e 197.02px 201.34px,#48007c 201.34px 205.67px,#480079 205.67px 210.00px,#470077 210.00px 214.34px,#460075 214.34px 218.66px,#450071 218.66px 223.00px,#44006d 223.00px 227.33px,#420069 227.33px 231.66px,#410065 231.66px 235.99px,#3f0061 235.99px 240.32px,#3e005d 240.32px 244.65px,#3d0059 244.65px 248.98px,#3b0054 248.98px 253.31px,#3a0050 253.31px 257.63px,#38004c 257.63px 261.96px,#360047 261.96px 266.30px,#340041 266.30px 270.62px,#32003c 270.62px 274.95px,#2f0036 274.95px 279.29px,#2d0031 279.29px 283.62px,#2a002b 283.62px 287.94px,#280027 287.94px 292.28px,#250023 292.28px 296.61px,#23001e 296.61px 300.94px,#20001a 300.94px 303.10px)"></div>
<div class="hr" style="left:366.20px;top:137.71px;width:303.10px;height:10.56px;background:linear-gradient(90deg,#4d008c 0.00px 2.17px,#4e008d 2.17px 6.49px,#4e008f 6.49px 10.82px,#4f0090 10.82px 15.16px,#4f0091 15.16px 19.49px,#500093 19.49px 23.81px,#500094 23.81px 28.14px,#510096 28.14px 32.47px,#510097 32.47px 36.80px,#510098 36.80px 41.13px,#52009a 41.13px 45.47px,#52009b 45.47px 49.79px,#53009d 49.79px 54.12px,#53009e 54.12px 58.45px,#5400a0 58.45px 62.78px,#5400a1 62.78px 67.11px,#5500a3 67.11px 71.45px,#5500a4 71.45px 75.78px,#5600a6 75.78px 80.11px,#5600a7 80.11px 84.43px,#5600a8 84.43px 114.75px,#5600a7 114.75px 132.07px,#5600a6 132.07px 136.39px,#5500a4 136.39px 140.72px,#5500a3 140.72px 145.05px,#5400a1 145.05px 149.38px,#5400a0 149.38px 153.72px,#53009e 153.72px 158.04px,#53009d 158.04px 162.38px,#52009b 162.38px 166.71px,#52009a 166.71px 171.03px,#510098 171.03px 175.37px,#510096 175.37px 179.70px,#500093 179.70px 184.03px,#4f0091 184.03px 188.36px,#4e008e 188.36px 192.69px,#4d008c 192.69px 197.02px,#4d0089 197.02px 201.34px,#4c0086 201.34px 205.67px,#4b0084 205.67px 210.00px,#4a0081 210.00px 214.34px,#49007f 214.34px 218.66px,#48007a 218.66px 223.00px,#460075 223.00px 227.33px,#44006f 227.33px 231.66px,#43006a 231.66px 235.99px,#410065 235.99px 240.32px,#3f0060 240.32px 244.65px,#3d005b 244.65px 248.98px,#3b0055 248.98px 253.31px,#390050 253.31px 257.63px,#37004b 257.63px 261.96px,#350044 261.96px 266.30px,#32003d 266.30px 270.62px,#2f0037 270.62px 274.95px,#2c0030 274.95px 279.29px,#290029 279.29px 283.62px,#260023 283.62px 287.94px,#23001e 287.94px 292.28px,#20001a 292.28px 296.61px,#1e0016 296.61px 300.94px,#1a0011 300.94px 303.10px)"></div>
<div class="hr" style="left:366.20px;top:148.27px;width:303.10px;height:10.56px;background:linear-gradient(90deg,#510096 0.00px 2.17px,#510097 2.17px 6.49px,#510099 6.49px 10.82px,#52009a 10.82px 15.16px,#52009c 15.16px 19.49px,#53009d 19.49px 23.81px,#53009f 23.81px 28.14px,#5400a0 28.14px 32.47px,#5400a2 32.47px 36.80px,#5500a3 36.80px 41.13px,#5500a4 41.13px 45.47px,#5600a6 45.47px 49.79px,#5600a8 49.79px 54.12px,#5700a9 54.12px 58.45px,#5700ab 58.45px 62.78px,#5800ad 62.78px 67.11px,#5800ae 67.11px 71.45px,#5900b0 71.45px 75.78px,#5900b1 75.78px 80.11px,#5a00b3 80.11px 84.43px,#5a00b4 84.43px 132.07px,#5a00b2 132.07px 136.39px,#5900b1 136.39px 140.72px,#5900af 140.72px 145.05px,#5800ae 145.05px 149.38px,#5800ad 149.38px 153.72px,#5700ab 153.72px 158.04px,#5700aa 158.04px 162.38px,#5600a8 162.38px 166.71px,#5600a7 166.71px 171.03px,#5500a5 171.03px 175.37px,#5500a2 175.37px 179.70px,#5400a0 179.70px 184.03px,#53009d 184.03px 188.36px,#52009a 188.36px 192.69px,#510097 192.69px 197.02px,#500094 197.02px 201.34px,#4f0091 201.34px 205.67px,#4e008e 205.67px 210.00px,#4d008b 210.00px 214.34px,#4c0088 214.34px 218.66px,#4a0082 218.66px 223.00px,#49007c 223.00px 227.33px,#470076 227.33px 231.66px,#450070 231.66px 235.99px,#420069 235.99px 240.32px,#400063 240.32px 244.65px,#3e005d 244.65px 248.98px,#3c0056 248.98px 253.31px,#390050 253.31px 257.63px,#370049 257.63px 261.96px,#340041 261.96px 266.30px,#300039 266.30px 270.62px,#2d0032 270.62px 274.95px,#29002a 274.95px 279.29px,#250022 279.29px 283.62px,#20001a 283.62px 287.94px,#1e0016 287.94px 292.28px,#1a0011 292.28px 296.61px,#17000d 296.61px 300.94px,#130009 300.94px 303.10px)"></div>
<div class="hr" style="left:366.20px;top:158.84px;width:303.10px;height:10.56px;background:linear-gradient(90deg,#54009f 0.00px 2.17px,#5400a1 2.17px 6.49px,#5500a2 6.49px 10.82px,#5500a4 10.82px 15.16px,#5600a6 15.16px 19.49px,#5600a7 19.49px 23.81px,#5600a9 23.81px 28.14px,#5700aa 28.14px 32.47px,#5700ac 32.47px 36.80px,#5800ad 36.80px 41.13px,#5800af 41.13px 45.47px,#5900b1 45.47px 49.79px,#5900b2 49.79px 54.12px,#5a00b4 54.12px 58.45px,#5b01b6 58.45px 62.78px,#5b01b7 62.78px 67.11px,#5c01b9 67.11px 71.45px,#5c01bb 71.45px 75.78px,#5d01bc 75.78px 80.11px,#5d01be 80.11px 84.43px,#5e01bf 84.43px 132.07px,#5d01be 132.07px 136.39px,#5d01bd 136.39px 140.72px,#5c01bb 140.72px 145.05px,#5c01ba 145.05px 149.38px,#5c01b9 149.38px 153.72px,#5b01b7 153.72px 158.04px,#5b01b6 158.04px 162.38px,#5a00b4 162.38px 166.71px,#5a00b3 166.71px 171.03px,#5900b1 171.03px 175.37px,#5800ae 175.37px 179.70px,#5700ab 179.70px 184.03px,#5600a8 184.03px 188.36px,#5500a5 188.36px 192.69px,#5400a2 192.69px 197.02px,#53009f 197.02px 201.34px,#52009b 201.34px 205.67px,#510098 205.67px 210.00px,#500095 210.00px 214.34px,#4f0091 214.34px 218.66px,#4d008b 218.66px 223.00px,#4b0084 223.00px 227.33px,#49007c 227.33px 231.66px,#460075 231.66px 235.99px,#44006e 235.99px 240.32px,#410066 240.32px 244.65px,#3f005f 244.65px 248.98px,#3c0057 248.98px 253.31px,#39004f 253.31px 257.63px,#360047 257.63px 261.96px,#33003e 261.96px 266.30px,#2f0035 266.30px 270.62px,#2b002c 270.62px 274.95px,#260023 274.95px 279.29px,#21001a 279.29px 283.62px,#1a0011 283.62px 287.94px,#17000d 287.94px 292.28px,#130009 292.28px 296.61px,#0d0004 296.61px 300.94px,#000000 300.94px 303.10px)"></div>
<div class="hr" style="left:366.20px;top:169.40px;width:303.10px;height:10.56px;background:linear-gradient(90deg,#5900b1 0.00px 2.17px,#5a00b3 2.17px 6.49px,#5a01b5 6.49px 10.82px,#5b01b7 10.82px 15.16px,#5c01b9 15.16px 19.49px,#5c01bb 19.49px 23.81px,#5d01bd 23.81px 28.14px,#5d01bf 28.14px 32.47px,#5e01c0 32.47px 36.80px,#5f01c2 36.80px 41.13px,#5f01c4 41.13px 45.47px,#6001c6 45.47px 49.79px,#6001c8 49.79px 54.12px,#6101c9 54.12px 58.45px,#6201cb 58.45px 62.78px,#6201cd 62.78px 67.11px,#6301cf 67.11px 71.45px,#6401d0 71.45px 75.78px,#6401d2 75.78px 80.11px,#6501d4 80.11px 84.43px,#6501d5 84.43px 88.77px,#6501d6 88.77px 93.09px,#6601d6 93.09px 97.42px,#6601d7 97.42px 106.08px,#6601d8 106.08px 110.42px,#6601d7 110.42px 119.08px,#6601d6 119.08px 123.41px,#6501d6 123.41px 127.74px,#6501d5 127.74px 132.07px,#6401d3 132.07px 136.39px,#6401d1 136.39px 140.72px,#6301cf 140.72px 145.05px,#6201cc 145.05px 149.38px,#6101ca 149.38px 153.72px,#6101c8 153.72px 158.04px,#6001c6 158.04px 162.38px,#5f01c3 162.38px 166.71px,#5e01c1 166.71px 171.03px,#5e01bf 171.03px 175.37px,#5c01bb 175.37px 179.70px,#5b01b7 179.70px 184.03px,#5a00b4 184.03px 188.36px,#5900b0 188.36px 192.69px,#5700ac 192.69px 197.02px,#5600a7 197.02px 201.34px,#5500a3 201.34px 205.67px,#53009f 205.67px 210.00px,#52009b 210.00px 214.34px,#510096 214.34px 218.66px,#4e008f 218.66px 223.00px,#4c0087 223.00px 227.33px,#4a007f 227.33px 231.66px,#470077 231.66px 235.99px,#44006f 235.99px 240.32px,#420067 240.32px 244.65px,#3f005e 244.65px 248.98px,#3c0056 248.98px 253.31px,#38004d 253.31px 257.63px,#350044 257.63px 261.96px,#31003b 261.96px 266.30px,#2d0032 266.30px 270.62px,#280028 270.62px 274.95px,#23001f 274.95px 279.29px,#1e0016 279.29px 283.62px,#17000d 283.62px 287.94px,#14000a 287.94px 292.28px,#100006 292.28px 296.61px,#0b0003 296.61px 300.94px,#000000 300.94px 303.10px)"></div>
<div class="hr" style="left:366.20px;top:179.97px;width:303.10px;height:10.57px;background:linear-gradient(90deg,#5f01c2 0.00px 2.17px,#5f01c4 2.17px 6.49px,#6001c6 6.49px 10.82px,#6101c8 10.82px 15.16px,#6101ca 15.16px 19.49px,#6201cc 19.49px 23.81px,#6301cf 23.81px 28.14px,#6401d0 28.14px 32.47px,#6401d2 32.47px 36.80px,#6501d4 36.80px 41.13px,#6601d6 41.13px 45.47px,#6601d8 45.47px 49.79px,#6701da 49.79px 54.12px,#6801dc 54.12px 58.45px,#6801dd 58.45px 62.78px,#6901df 62.78px 67.11px,#6a01e1 67.11px 71.45px,#6a01e2 71.45px 75.78px,#6b01e4 75.78px 80.11px,#6c01e5 80.11px 84.43px,#6c01e7 84.43px 88.77px,#6d02e8 88.77px 97.42px,#6d02e9 97.42px 101.76px,#6e02ea 101.76px 114.75px,#6d02e9 114.75px 119.08px,#6d02e8 119.08px 127.74px,#6c01e7 127.74px 132.07px,#6b01e4 132.07px 136.39px,#6a01e2 136.39px 140.72px,#6901df 140.72px 145.05px,#6801dc 145.05px 149.38px,#6701d9 149.38px 153.72px,#6601d7 153.72px 158.04px,#6501d4 158.04px 162.38px,#6401d1 162.38px 166.71px,#6301ce 166.71px 171.03px,#6201cb 171.03px 175.37px,#6001c7 175.37px 179.70px,#5f01c3 179.70px 184.03px,#5d01be 184.03px 188.36px,#5c01ba 188.36px 192.69px,#5a01b5 192.69px 197.02px,#5900b0 197.02px 201.34px,#5700ab 201.34px 205.67px,#5600a6 205.67px 210.00px,#5400a1 210.00px 214.34px,#52009b 214.34px 218.66px,#500093 218.66px 223.00px,#4d008b 223.00px 227.33px,#4b0082 227.33px 231.66px,#48007a 231.66px 235.99px,#450071 235.99px 240.32px,#420068 240.32px 244.65px,#3f005e 244.65px 248.98px,#3b0054 248.98px 253.31px,#37004b 253.31px 257.63px,#330041 257.63px 261.96px,#2f0037 261.96px 266.30px,#2b002e 266.30px 270.62px,#260024 270.62px 274.95px,#21001a 274.95px 279.29px,#1b0011 279.29px 283.62px,#130009 283.62px 287.94px,#100006 287.94px 292.28px,#0d0004 292.28px 296.61px,#090002 296.61px 300.94px,#000000 300.94px 303.10px)"></div>
<div class="hr" style="left:366.20px;top:190.53px;width:303.10px;height:10.56px;background:linear-gradient(90deg,#6401d0 0.00px 2.17px,#6401d3 2.17px 6.49px,#6501d5 6.49px 10.82px,#6601d7 10.82px 15.16px,#6701da 15.16px 19.49px,#6801dc 19.49px 23.81px,#6801de 23.81px 28.14px,#6901e0 28.14px 32.47px,#6a01e2 32.47px 36.80px,#6b01e4 36.80px 41.13px,#6c01e5 41.13px 45.47px,#6c02e7 45.47px 49.79px,#6d02e9 49.79px 54.12px,#6e02ea 54.12px 58.45px,#6f02ec 58.45px 62.78px,#6f02ed 62.78px 67.11px,#7002ef 67.11px 71.45px,#7102f0 71.45px 75.78px,#7102f1 75.78px 80.11px,#7202f3 80.11px 84.43px,#7302f4 84.43px 88.77px,#7302f5 88.77px 93.09px,#7402f5 93.09px 97.42px,#7402f6 97.42px 101.76px,#7502f7 101.76px 114.75px,#7402f6 114.75px 119.08px,#7402f5 119.08px 123.41px,#7302f5 123.41px 127.74px,#7302f4 127.74px 132.07px,#7102f2 132.07px 136.39px,#7002ef 136.39px 140.72px,#6f02ec 140.72px 145.05px,#6d02e9 145.05px 149.38px,#6c01e6 149.38px 153.72px,#6b01e3 153.72px 158.04px,#6901e0 158.04px 162.38px,#6801dd 162.38px 166.71px,#6701da 166.71px 171.03px,#6601d7 171.03px 175.37px,#6401d2 175.37px 179.70px,#6201cd 179.70px 184.03px,#6101c8 184.03px 188.36px,#5f01c3 188.36px 192.69px,#5d01be 192.69px 197.02px,#5b01b8 197.02px 201.34px,#5a00b2 201.34px 205.67px,#5800ac 205.67px 210.00px,#5600a6 210.00px 214.34px,#5400a0 214.34px 218.66px,#510097 218.66px 223.00px,#4e008e 223.00px 227.33px,#4b0085 227.33px 231.66px,#48007c 231.66px 235.99px,#450072 235.99px 240.32px,#420068 240.32px 244.65px,#3e005e 244.65px 248.98px,#3b0053 248.98px 253.31px,#370048 253.31px 257.63px,#32003d 257.63px 261.96px,#2e0034 261.96px 266.30px,#29002a 266.30px 270.62px,#240020 270.62px 274.95px,#1e0016 274.95px 279.29px,#17000d 279.29px 283.62px,#0d0004 283.62px 287.94px,#0b0003 287.94px 292.28px,#090002 292.28px 296.61px,#000000 296.61px 303.10px)"></div>
<div class="hr" style="left:366.20px;top:201.10px;width:303.10px;height:10.56px;background:linear-gradient(90deg,#6801dd 0.00px 2.17px,#6901e0 2.17px 6.49px,#6a01e2 6.49px 10.82px,#6b01e4 10.82px 15.16px,#6c01e6 15.16px 19.49px,#6d02e8 19.49px 23.81px,#6e02ea 23.81px 28.14px,#6f02ec 28.14px 32.47px,#7002ee 32.47px 36.80px,#7002f0 36.80px 41.13px,#7102f1 41.13px 45.47px,#7202f3 45.47px 49.79px,#7302f4 49.79px 54.12px,#7402f5 54.12px 58.45px,#7402f6 58.45px 62.78px,#7502f8 62.78px 67.11px,#7603f9 67.11px 71.45px,#7703fa 71.45px 75.78px,#7803fa 75.78px 80.11px,#7803fb 80.11px 84.43px,#7903fc 84.43px 88.77px,#7a03fc 88.77px 93.09px,#7a03fd 93.09px 97.42px,#7b03fd 97.42px 101.76px,#7b03fe 101.76px 106.08px,#7c03fe 106.08px 110.42px,#7b03fe 110.42px 114.75px,#7b03fd 114.75px 119.08px,#7a03fd 119.08px 123.41px,#7a03fc 123.41px 127.74px,#7903fc 127.74px 132.07px,#7703fa 132.07px 136.39px,#7602f8 136.39px 140.72px,#7402f6 140.72px 145.05px,#7302f3 145.05px 149.38px,#7102f0 149.38px 153.72px,#6f02ee 153.72px 158.04px,#6e02eb 158.04px 162.38px,#6d02e8 162.38px 166.71px,#6b01e4 166.71px 171.03px,#6a01e1 171.03px 175.37px,#6801dc 175.37px 179.70px,#6601d7 179.70px 184.03px,#6401d2 184.03px 188.36px,#6201cc 188.36px 192.69px,#6001c6 192.69px 197.02px,#5e01c0 197.02px 201.34px,#5c01b9 201.34px 205.67px,#5a00b3 205.67px 210.00px,#5700ac 210.00px 214.34px,#5500a4 214.34px 218.66px,#52009b 218.66px 223.00px,#4f0092 223.00px 227.33px,#4c0088 227.33px 231.66px,#49007e 231.66px 235.99px,#460074 235.99px 240.32px,#420069 240.32px 244.65px,#3e005d 244.65px 248.98px,#3a0052 248.98px 253.31px,#360046 253.31px 257.63px,#31003a 257.63px 261.96px,#2c0030 261.96px 266.30px,#270026 266.30px 270.62px,#21001b 270.62px 274.95px,#1a0011 274.95px 279.29px,#130009 279.29px 283.62px,#000000 283.62px 303.10px)"></div>
<div class="hr" style="left:366.20px;top:211.66px;width:303.10px;height:10.56px;background:linear-gradient(90deg,#6f02ee 0.00px 2.17px,#7002ef 2.17px 6.49px,#7102f1 6.49px 10.82px,#7202f3 10.82px 15.16px,#7302f4 15.16px 19.49px,#7402f6 19.49px 23.81px,#7502f7 23.81px 28.14px,#7602f8 28.14px 32.47px,#7603f9 32.47px 36.80px,#7703fa 36.80px 41.13px,#7803fb 41.13px 45.47px,#7903fc 45.47px 49.79px,#7b03fd 49.79px 54.12px,#7c03fe 54.12px 58.45px,#7d04fe 58.45px 62.78px,#7e04ff 62.78px 67.11px,#7f04ff 67.11px 71.45px,#8004ff 71.45px 80.11px,#8104ff 80.11px 84.43px,#8205fe 84.43px 88.77px,#8305fe 88.77px 97.42px,#8405fe 97.42px 101.76px,#8405fd 101.76px 114.75px,#8405fe 114.75px 119.08px,#8305fe 119.08px 127.74px,#8205fe 127.74px 132.07px,#8104ff 132.07px 136.39px,#7f04ff 136.39px 140.72px,#7e04ff 140.72px 145.05px,#7c03fe 145.05px 149.38px,#7b03fd 149.38px 153.72px,#7903fc 153.72px 158.04px,#7803fb 158.04px 162.38px,#7603f9 162.38px 166.71px,#7502f7 166.71px 171.03px,#7302f4 171.03px 175.37px,#7102f1 175.37px 179.70px,#6f02ed 179.70px 184.03px,#6d02e8 184.03px 188.36px,#6b01e3 188.36px 192.69px,#6801dd 192.69px 197.02px,#6501d6 197.02px 201.34px,#6301ce 201.34px 205.67px,#6001c5 205.67px 210.00px,#5c01bb 210.00px 214.34px,#5900b1 214.34px 218.66px,#5600a7 218.66px 223.00px,#53009c 223.00px 227.33px,#4f0091 227.33px 231.66px,#4b0085 231.66px 235.99px,#470078 235.99px 240.32px,#43006c 240.32px 244.65px,#3f005f 244.65px 248.98px,#3a0052 248.98px 253.31px,#350044 253.31px 257.63px,#2f0037 257.63px 261.96px,#290029 261.96px 266.30px,#21001b 266.30px 270.62px,#18000e 270.62px 274.95px,#130009 274.95px 279.29px,#000000 279.29px 303.10px)"></div>
<div class="hr" style="left:366.20px;top:222.23px;width:303.10px;height:10.56px;background:linear-gradient(90deg,#7603f9 0.00px 2.17px,#7703fa 2.17px 6.49px,#7803fb 6.49px 10.82px,#7903fc 10.82px 15.16px,#7a03fc 15.16px 19.49px,#7a03fd 19.49px 23.81px,#7b03fe 23.81px 28.14px,#7c03fe 28.14px 32.47px,#7d04ff 32.47px 36.80px,#7e04ff 36.80px 41.13px,#7f04ff 41.13px 45.47px,#8004ff 45.47px 49.79px,#8204ff 49.79px 54.12px,#8305fe 54.12px 58.45px,#8505fd 58.45px 62.78px,#8605fc 62.78px 67.11px,#8706fb 67.11px 71.45px,#8806f9 71.45px 75.78px,#8906f8 75.78px 80.11px,#8a06f6 80.11px 84.43px,#8b07f4 84.43px 88.77px,#8b07f3 88.77px 93.09px,#8c07f3 93.09px 97.42px,#8c07f2 97.42px 101.76px,#8d07f0 101.76px 106.08px,#8d07f1 106.08px 110.42px,#8c07f1 110.42px 114.75px,#8c07f2 114.75px 119.08px,#8b07f3 119.08px 123.41px,#8b07f4 123.41px 132.07px,#8906f7 132.07px 136.39px,#8806f9 136.39px 140.72px,#8706fb 140.72px 145.05px,#8505fc 145.05px 149.38px,#8405fd 149.38px 153.72px,#8205fe 153.72px 158.04px,#8104ff 158.04px 162.38px,#7f04ff 162.38px 166.71px,#7e04ff 166.71px 171.03px,#7c03fe 171.03px 175.37px,#7a03fc 175.37px 179.70px,#7703fa 179.70px 184.03px,#7502f7 184.03px 188.36px,#7302f3 188.36px 192.69px,#7002ef 192.69px 197.02px,#6d02e7 197.02px 201.34px,#6901df 201.34px 205.67px,#6501d5 205.67px 210.00px,#6101ca 210.00px 214.34px,#5d01bd 214.34px 218.66px,#5900b2 218.66px 223.00px,#5600a6 223.00px 227.33px,#510099 227.33px 231.66px,#4d008b 231.66px 235.99px,#49007d 235.99px 240.32px,#44006f 240.32px 244.65px,#3f0061 244.65px 248.98px,#3a0052 248.98px 253.31px,#340043 253.31px 257.63px,#2e0033 257.63px 261.96px,#250022 261.96px 266.30px,#1a0011 266.30px 270.62px,#000000 270.62px 303.10px)"></div>
<div class="hr" style="left:366.20px;top:232.79px;width:303.10px;height:10.56px;background:linear-gradient(90deg,#7a03fd 0.00px 2.17px,#7b03fe 2.17px 6.49px,#7c03fe 6.49px 10.82px,#7d04ff 10.82px 15.16px,#7e04ff 15.16px 19.49px,#7f04ff 19.49px 23.81px,#8004ff 23.81px 28.14px,#8104ff 28.14px 32.47px,#8204fe 32.47px 36.80px,#8305fe 36.80px 41.13px,#8405fd 41.13px 45.47px,#8605fc 45.47px 49.79px,#8706fa 49.79px 54.12px,#8906f8 54.12px 58.45px,#8a06f6 58.45px 62.78px,#8b07f3 62.78px 67.11px,#8c07f1 67.11px 71.45px,#8d07ef 71.45px 75.78px,#8e08ed 75.78px 80.11px,#8f08eb 80.11px 84.43px,#9008e8 84.43px 88.77px,#9008e7 88.77px 93.09px,#9008e6 93.09px 97.42px,#9108e5 97.42px 101.76px,#9109e4 101.76px 110.42px,#9108e6 110.42px 114.75px,#9008e7 114.75px 119.08px,#9008e8 119.08px 123.41px,#8f08e9 123.41px 127.74px,#8f08ea 127.74px 132.07px,#8e07ee 132.07px 136.39px,#8c07f1 136.39px 140.72px,#8b07f4 140.72px 145.05px,#8906f7 145.05px 149.38px,#8806f9 149.38px 153.72px,#8605fb 153.72px 158.04px,#8505fd 158.04px 162.38px,#8305fe 162.38px 166.71px,#8204ff 166.71px 171.03px,#8004ff 171.03px 175.37px,#7e04ff 175.37px 179.70px,#7b03fe 179.70px 184.03px,#7903fc 184.03px 188.36px,#7603f9 188.36px 192.69px,#7402f5 192.69px 197.02px,#7002ee 197.02px 201.34px,#6c01e5 201.34px 205.67px,#6701db 205.67px 210.00px,#6301cf 210.00px 214.34px,#5e01c1 214.34px 218.66px,#5900b1 218.66px 223.00px,#5400a1 223.00px 227.33px,#4f008f 227.33px 231.66px,#49007d 231.66px 235.99px,#420069 235.99px 240.32px,#3c0058 240.32px 244.65px,#360046 244.65px 248.98px,#2e0034 248.98px 253.31px,#250022 253.31px 257.63px,#20001a 257.63px 261.96px,#1a0011 261.96px 266.30px,#000000 266.30px 303.10px)"></div>
<div class="hr" style="left:366.20px;top:243.36px;width:303.10px;height:10.56px;background:linear-gradient(90deg,#7f04ff 0.00px 2.17px,#8004ff 2.17px 6.49px,#8104ff 6.49px 10.82px,#8204ff 10.82px 15.16px,#8305fe 15.16px 19.49px,#8405fd 19.49px 23.81px,#8505fd 23.81px 28.14px,#8605fc 28.14px 32.47px,#8706fa 32.47px 36.80px,#8806f8 36.80px 41.13px,#8a06f6 41.13px 45.47px,#8b07f3 45.47px 49.79px,#8d07f0 49.79px 54.12px,#8e08ed 54.12px 58.45px,#8f08e9 58.45px 62.78px,#9109e5 62.78px 67.11px,#9109e3 67.11px 71.45px,#9209e0 71.45px 75.78px,#9309de 75.78px 80.11px,#940adb 80.11px 84.43px,#940ad8 84.43px 88.77px,#950ad7 88.77px 97.42px,#950ad6 97.42px 101.76px,#950ad5 101.76px 106.08px,#950ad4 106.08px 110.42px,#950ad6 110.42px 114.75px,#940ad8 114.75px 119.08px,#940ada 119.08px 123.41px,#940adc 123.41px 127.74px,#9309dd 127.74px 132.07px,#9209e2 132.07px 136.39px,#9008e7 136.39px 140.72px,#8f08eb 140.72px 145.05px,#8d07ef 145.05px 149.38px,#8c07f2 149.38px 153.72px,#8a06f5 153.72px 158.04px,#8906f8 158.04px 162.38px,#8706fa 162.38px 166.71px,#8605fc 166.71px 171.03px,#8405fd 171.03px 175.37px,#8204ff 175.37px 179.70px,#7f04ff 179.70px 184.03px,#7d03fe 184.03px 188.36px,#7a03fd 188.36px 192.69px,#7703fa 192.69px 197.02px,#7302f4 197.02px 201.34px,#6e02eb 201.34px 205.67px,#6a01e0 205.67px 210.00px,#6501d3 210.00px 214.34px,#5f01c4 214.34px 218.66px,#5900b1 218.66px 223.00px,#53009c 223.00px 227.33px,#4c0086 227.33px 231.66px,#44006e 231.66px 235.99px,#3b0054 235.99px 240.32px,#330040 240.32px 244.65px,#2a002b 244.65px 248.98px,#1e0015 248.98px 253.31px,#000000 253.31px 303.10px)"></div>
<div class="hr" style="left:366.20px;top:253.92px;width:303.10px;height:10.56px;background:linear-gradient(90deg,#8305fe 0.00px 2.17px,#8405fe 2.17px 6.49px,#8405fd 6.49px 10.82px,#8505fc 10.82px 15.16px,#8605fb 15.16px 19.49px,#8706fa 19.49px 23.81px,#8806f9 23.81px 28.14px,#8906f8 28.14px 32.47px,#8a06f7 32.47px 36.80px,#8b07f4 36.80px 41.13px,#8d07f0 41.13px 45.47px,#8e08ec 45.47px 49.79px,#9008e8 49.79px 54.12px,#9109e3 54.12px 58.45px,#9309de 58.45px 62.78px,#940ad9 62.78px 67.11px,#950ad4 67.11px 71.45px,#970bcf 71.45px 75.78px,#970bcc 75.78px 80.11px,#980bc9 80.11px 84.43px,#990cc5 84.43px 88.77px,#990cc3 88.77px 93.09px,#9a0cc1 93.09px 97.42px,#9a0cbe 97.42px 101.76px,#9b0dbc 101.76px 106.08px,#9b0dba 106.08px 110.42px,#9b0dbb 110.42px 114.75px,#9a0dbd 114.75px 119.08px,#9a0cbf 119.08px 123.41px,#9a0cc1 123.41px 127.74px,#990cc2 127.74px 132.07px,#990cc6 132.07px 136.39px,#980bca 136.39px 140.72px,#970bcd 140.72px 145.05px,#960bd1 145.05px 149.38px,#950ad4 149.38px 153.72px,#9309dd 153.72px 158.04px,#9109e4 158.04px 162.38px,#8f08ea 162.38px 166.71px,#8d07f0 166.71px 171.03px,#8b07f5 171.03px 175.37px,#8706fb 175.37px 179.70px,#8305fe 179.70px 184.03px,#7f04ff 184.03px 188.36px,#7b03fd 188.36px 192.69px,#7703f9 192.69px 197.02px,#7102f2 197.02px 201.34px,#6c01e6 201.34px 205.67px,#6601d8 205.67px 210.00px,#6001c7 210.00px 214.34px,#5a00b2 214.34px 218.66px,#520099 218.66px 223.00px,#49007d 223.00px 227.33px,#3f005e 227.33px 231.66px,#360047 231.66px 235.99px,#2c0030 235.99px 240.32px,#240020 240.32px 244.65px,#1e0015 244.65px 248.98px,#000000 248.98px 303.10px)"></div>
<div class="hr" style="left:366.20px;top:264.49px;width:303.10px;height:10.57px;background:linear-gradient(90deg,#8706fb 0.00px 2.17px,#8706fa 2.17px 6.49px,#8806f9 6.49px 10.82px,#8906f8 10.82px 15.16px,#8906f7 15.16px 19.49px,#8a06f6 19.49px 23.81px,#8b07f5 23.81px 28.14px,#8b07f3 28.14px 32.47px,#8c07f2 32.47px 36.80px,#8e08ed 36.80px 41.13px,#9008e9 41.13px 45.47px,#9109e4 45.47px 49.79px,#9309de 49.79px 54.12px,#950ad8 54.12px 58.45px,#960bd1 58.45px 62.78px,#980bca 62.78px 67.11px,#990cc3 67.11px 71.45px,#9b0dbb 71.45px 75.78px,#9c0db7 75.78px 80.11px,#9c0eb3 80.11px 84.43px,#9d0eaf 84.43px 88.77px,#9e0eab 88.77px 93.09px,#9f0fa7 93.09px 97.42px,#9f0fa3 97.42px 101.76px,#a0109e 101.76px 106.08px,#a1109a 106.08px 110.42px,#a0109b 110.42px 114.75px,#a0109c 114.75px 119.08px,#a0109e 119.08px 123.41px,#a00f9f 123.41px 127.74px,#a00fa1 127.74px 132.07px,#9f0fa2 132.07px 136.39px,#9f0fa3 136.39px 140.72px,#9f0fa4 140.72px 145.05px,#9f0fa6 145.05px 149.38px,#9e0fa7 149.38px 153.72px,#9c0db6 153.72px 158.04px,#990cc4 158.04px 162.38px,#960bd0 162.38px 166.71px,#940adc 166.71px 171.03px,#9109e5 171.03px 175.37px,#8c07f2 175.37px 179.70px,#8706fb 179.70px 184.03px,#8104ff 184.03px 188.36px,#7c03fe 188.36px 192.69px,#7603f9 192.69px 197.02px,#7002ef 197.02px 201.34px,#6a01e1 201.34px 205.67px,#6301cf 205.67px 210.00px,#5c01b9 210.00px 214.34px,#54009f 214.34px 218.66px,#49007e 218.66px 223.00px,#3d005a 223.00px 227.33px,#2e0033 227.33px 231.66px,#23001f 231.66px 235.99px,#14000a 235.99px 240.32px,#000000 240.32px 303.10px)"></div>
<div class="hr" style="left:366.20px;top:275.05px;width:303.10px;height:10.56px;background:linear-gradient(90deg,#8c07f2 0.00px 2.17px,#8d07f1 2.17px 6.49px,#8d07ef 6.49px 10.82px,#8e08ed 10.82px 15.16px,#8f08eb 15.16px 19.49px,#9008e9 19.49px 23.81px,#9008e7 23.81px 28.14px,#9109e4 28.14px 32.47px,#9209e2 32.47px 36.80px,#9309dd 36.80px 41.13px,#940ad9 41.13px 45.47px,#960ad4 45.47px 49.79px,#970bcf 49.79px 54.12px,#980cc8 54.12px 58.45px,#9a0cbf 58.45px 62.78px,#9c0db6 62.78px 67.11px,#9e0eac 67.11px 71.45px,#9f0fa2 71.45px 75.78px,#a1109a 75.78px 80.11px,#a21192 80.11px 84.43px,#a31289 84.43px 88.77px,#a41283 88.77px 93.09px,#a5137e 93.09px 97.42px,#a61378 97.42px 101.76px,#a61472 101.76px 106.08px,#a7146d 106.08px 110.42px,#a8156a 110.42px 114.75px,#a81568 114.75px 119.08px,#a8156a 119.08px 123.41px,#a7146c 123.41px 127.74px,#a7146e 127.74px 132.07px,#a71470 132.07px 136.39px,#a61472 136.39px 140.72px,#a61474 140.72px 145.05px,#a5137c 145.05px 149.38px,#a41284 149.38px 153.72px,#a21094 153.72px 158.04px,#9f0fa3 158.04px 162.38px,#9b0db9 162.38px 166.71px,#980bcb 166.71px 171.03px,#940adc 171.03px 175.37px,#8e08ec 175.37px 179.70px,#8906f7 179.70px 184.03px,#8305fe 184.03px 188.36px,#7d04fe 188.36px 192.69px,#7603f9 192.69px 197.02px,#6e02eb 197.02px 201.34px,#6501d5 201.34px 205.67px,#5c01b9 205.67px 210.00px,#52009a 210.00px 214.34px,#470077 214.34px 218.66px,#3b0054 218.66px 223.00px,#2e0034 223.00px 227.33px,#000000 227.33px 303.10px)"></div>
<div class="hr" style="left:366.20px;top:285.62px;width:303.10px;height:10.56px;background:linear-gradient(90deg,#9109e5 0.00px 2.17px,#9209e3 2.17px 6.49px,#9209e0 6.49px 10.82px,#9309dd 10.82px 15.16px,#940ada 15.16px 19.49px,#950ad7 19.49px 23.81px,#960ad3 23.81px 28.14px,#970bd0 28.14px 32.47px,#970bcc 32.47px 36.80px,#980cc8 36.80px 41.13px,#990cc5 41.13px 45.47px,#9a0cc1 45.47px 49.79px,#9b0dbd 49.79px 54.12px,#9c0db5 54.12px 58.45px,#9e0eaa 58.45px 62.78px,#a0109e 62.78px 67.11px,#a21192 67.11px 71.45px,#a41286 71.45px 75.78px,#a61379 75.78px 80.11px,#a7146c 80.11px 84.43px,#a9165e 84.43px 88.77px,#aa1657 88.77px 93.09px,#ab1750 93.09px 97.42px,#ac1849 97.42px 101.76px,#ad1942 101.76px 106.08px,#ad193b 106.08px 110.42px,#ae1a34 110.42px 114.75px,#af1b2c 114.75px 119.08px,#af1b2f 119.08px 123.41px,#af1a32 123.41px 127.74px,#ae1a35 127.74px 132.07px,#ae1a38 132.07px 136.39px,#ae193a 136.39px 140.72px,#ad193d 140.72px 145.05px,#ab174e 145.05px 149.38px,#a9165e 149.38px 153.72px,#a7146e 153.72px 158.04px,#a5137d 158.04px 162.38px,#a0109c 162.38px 166.71px,#9b0db9 166.71px 171.03px,#960bd0 171.03px 175.37px,#9109e4 175.37px 179.70px,#8c07f2 179.70px 184.03px,#8505fd 184.03px 188.36px,#7e04ff 188.36px 192.69px,#7603f9 192.69px 197.02px,#6c01e6 197.02px 201.34px,#6001c8 201.34px 205.67px,#54009f 205.67px 210.00px,#470077 210.00px 214.34px,#37004b 214.34px 218.66px,#000000 218.66px 303.10px)"></div>
<div class="hr" style="left:366.20px;top:296.18px;width:303.10px;height:10.56px;background:linear-gradient(90deg,#990cc5 0.00px 2.17px,#9a0cc0 2.17px 6.49px,#9b0dbb 6.49px 10.82px,#9c0db6 10.82px 15.16px,#9d0eb1 15.16px 19.49px,#9e0eac 19.49px 23.81px,#9f0fa6 23.81px 28.14px,#a00fa1 28.14px 32.47px,#a0109b 32.47px 36.80px,#a11095 36.80px 41.13px,#a2118f 41.13px 45.47px,#a3118a 45.47px 49.79px,#a41285 49.79px 54.12px,#a5137d 54.12px 58.45px,#a61474 58.45px 62.78px,#a7146b 62.78px 67.11px,#a91561 67.11px 71.45px,#aa1658 71.45px 75.78px,#ab174e 75.78px 80.11px,#ac1844 80.11px 84.43px,#ae193a 84.43px 88.77px,#ae1a33 88.77px 93.09px,#af1b2d 93.09px 97.42px,#b01b27 97.42px 101.76px,#b01c22 101.76px 106.08px,#b11d1c 106.08px 110.42px,#b21d16 110.42px 114.75px,#b21e11 114.75px 119.08px,#b31e10 119.08px 123.41px,#b31e0f 123.41px 132.07px,#b21e14 132.07px 136.39px,#b11d1a 136.39px 140.72px,#b11c20 140.72px 145.05px,#af1b2c 145.05px 149.38px,#ae1939 149.38px 153.72px,#ac1846 153.72px 158.04px,#a9165e 158.04px 162.38px,#a5137f 162.38px 166.71px,#a0109c 166.71px 171.03px,#9c0db7 171.03px 175.37px,#940ada 175.37px 179.70px,#8c07f1 179.70px 184.03px,#8305fe 184.03px 188.36px,#7703fa 188.36px 192.69px,#6a01e1 192.69px 197.02px,#5a01b5 197.02px 201.34px,#4b0083 201.34px 205.67px,#3b0054 205.67px 210.00px,#000000 210.00px 303.10px)"></div>
<div class="hr" style="left:366.20px;top:306.75px;width:303.10px;height:10.56px;background:linear-gradient(90deg,#a1109a 0.00px 2.17px,#a21193 2.17px 6.49px,#a3118c 6.49px 10.82px,#a41284 10.82px 15.16px,#a5137d 15.16px 19.49px,#a61375 19.49px 23.81px,#a7146e 23.81px 28.14px,#a81566 28.14px 32.47px,#a9165e 32.47px 36.80px,#aa1756 36.80px 41.13px,#ab174e 41.13px 45.47px,#ac1848 45.47px 49.79px,#ad1843 49.79px 54.12px,#ad193d 54.12px 58.45px,#ae1a37 58.45px 62.78px,#af1a31 62.78px 67.11px,#af1b2c 67.11px 71.45px,#b01c26 71.45px 75.78px,#b11c20 75.78px 80.11px,#b11d1a 80.11px 84.43px,#b21e14 84.43px 88.77px,#b31e0e 88.77px 93.09px,#b31f09 93.09px 97.42px,#b41f05 97.42px 101.76px,#b42001 101.76px 106.08px,#b52000 106.08px 110.42px,#b52100 110.42px 114.75px,#b62100 114.75px 119.08px,#b62200 119.08px 123.41px,#b72200 123.41px 127.74px,#b72300 127.74px 132.07px,#b62200 132.07px 136.39px,#b52100 136.39px 140.72px,#b42002 140.72px 145.05px,#b31f0a 145.05px 149.38px,#b21e13 149.38px 153.72px,#b11d1b 153.72px 158.04px,#ad193d 158.04px 162.38px,#a9165e 162.38px 166.71px,#a5137d 166.71px 171.03px,#a1109a 171.03px 175.37px,#970bce 175.37px 179.70px,#8d07f0 179.70px 184.03px,#8104ff 184.03px 188.36px,#7002ef 188.36px 192.69px,#5c01b9 192.69px 197.02px,#44006f 197.02px 201.34px,#000000 201.34px 303.10px)"></div>
<div class="hr" style="left:366.20px;top:317.31px;width:303.10px;height:10.56px;background:linear-gradient(90deg,#a5137d 0.00px 2.17px,#a61375 2.17px 6.49px,#a7146e 6.49px 10.82px,#a81566 10.82px 15.16px,#a9165e 15.16px 19.49px,#aa1756 19.49px 23.81px,#ab174e 23.81px 28.14px,#ac1846 28.14px 32.47px,#ad193d 32.47px 36.80px,#ae1a35 36.80px 41.13px,#af1b2c 41.13px 45.47px,#b01b26 45.47px 49.79px,#b11c20 49.79px 54.12px,#b11d1a 54.12px 58.45px,#b21e14 58.45px 62.78px,#b31e0e 62.78px 67.11px,#b31f08 67.11px 71.45px,#b42001 71.45px 75.78px,#b52000 75.78px 80.11px,#b62100 80.11px 84.43px,#b62200 84.43px 93.09px,#b72300 93.09px 110.42px,#b82400 110.42px 123.41px,#b82500 123.41px 127.74px,#b92500 127.74px 136.39px,#b72300 136.39px 140.72px,#b52100 140.72px 145.05px,#b31f0b 145.05px 149.38px,#b11d1c 149.38px 153.72px,#af1b2c 153.72px 158.04px,#aa1659 158.04px 162.38px,#a41282 162.38px 166.71px,#9e0fa7 166.71px 171.03px,#950ad4 171.03px 175.37px,#8c07f2 175.37px 179.70px,#7603f9 179.70px 184.03px,#5c01b9 184.03px 188.36px,#000000 188.36px 303.10px)"></div>
<div class="hr" style="left:366.20px;top:327.88px;width:303.10px;height:10.56px;background:linear-gradient(90deg,#a7146e 0.00px 2.17px,#a8156a 2.17px 6.49px,#a81566 6.49px 10.82px,#a91562 10.82px 15.16px,#a9165e 15.16px 19.49px,#aa165a 19.49px 23.81px,#ab1751 23.81px 28.14px,#ac1844 28.14px 32.47px,#ae1a37 32.47px 36.80px,#b01b29 36.80px 41.13px,#b11d1b 41.13px 45.47px,#b21d15 45.47px 49.79px,#b31e0e 49.79px 54.12px,#b41f07 54.12px 58.45px,#b42000 58.45px 62.78px,#b52100 62.78px 67.11px,#b62200 67.11px 71.45px,#b72200 71.45px 75.78px,#b72300 75.78px 80.11px,#b82400 80.11px 84.43px,#b92500 84.43px 97.42px,#b82500 97.42px 101.76px,#b82400 101.76px 127.74px,#b82300 127.74px 132.07px,#b72300 132.07px 149.38px,#b21e10 149.38px 153.72px,#ae1a38 153.72px 158.04px,#a9165e 158.04px 162.38px,#990cc5 162.38px 166.71px,#8706fb 166.71px 171.03px,#6a01e1 171.03px 175.37px,#410064 175.37px 179.70px,#000000 179.70px 303.10px)"></div>
<div class="hr" style="left:366.20px;top:338.44px;width:303.10px;height:10.56px;background:linear-gradient(90deg,#af1b2c 0.00px 2.17px,#b01b29 2.17px 6.49px,#b01c26 6.49px 10.82px,#b01c23 10.82px 15.16px,#b11c20 15.16px 19.49px,#b11d1d 19.49px 23.81px,#b21d16 23.81px 28.14px,#b31f0a 28.14px 32.47px,#b42000 32.47px 36.80px,#b62100 36.80px 41.13px,#b72300 41.13px 45.47px,#b82300 45.47px 49.79px,#b82400 49.79px 54.12px,#b92500 54.12px 58.45px,#b92600 58.45px 62.78px,#ba2600 62.78px 67.11px,#ba2700 67.11px 71.45px,#bb2800 71.45px 75.78px,#bc2800 75.78px 80.11px,#bc2900 80.11px 84.43px,#bd2a00 84.43px 88.77px,#bc2900 88.77px 101.76px,#bb2800 101.76px 110.42px,#bb2700 110.42px 114.75px,#ba2700 114.75px 123.41px,#ba2600 123.41px 132.07px,#b92500 132.07px 140.72px,#b41f05 140.72px 145.05px,#af1a32 145.05px 149.38px,#a9165e 149.38px 153.72px,#990cc5 153.72px 158.04px,#8706fb 158.04px 162.38px,#410064 162.38px 166.71px,#000000 166.71px 303.10px)"></div>
<div class="hr" style="left:366.20px;top:349.01px;width:303.10px;height:10.57px;background:linear-gradient(90deg,#b92500 0.00px 2.17px,#b92600 2.17px 6.49px,#ba2600 6.49px 15.16px,#ba2700 15.16px 19.49px,#bb2700 19.49px 23.81px,#bb2800 23.81px 28.14px,#bc2800 28.14px 32.47px,#bc2900 32.47px 41.13px,#bd2a00 41.13px 54.12px,#bd2b00 54.12px 58.45px,#be2b00 58.45px 62.78px,#be2c00 62.78px 75.78px,#bf2d00 75.78px 97.42px,#be2c00 97.42px 110.42px,#be2b00 110.42px 114.75px,#bd2b00 114.75px 119.08px,#bd2a00 119.08px 132.07px,#b92500 132.07px 136.39px,#b52100 136.39px 140.72px,#a9165e 140.72px 145.05px,#9c0eb4 145.05px 149.38px,#8405fd 149.38px 153.72px,#000000 153.72px 303.10px)"></div>
<div class="hr" style="left:366.20px;top:359.57px;width:303.10px;height:10.57px;background:linear-gradient(90deg,#c93d00 0.00px 6.49px,#c83c00 6.49px 15.16px,#c83b00 15.16px 19.49px,#c73a00 19.49px 28.14px,#c73900 28.14px 32.47px,#c63900 32.47px 36.80px,#c63800 36.80px 41.13px,#c63700 41.13px 88.77px,#c53600 88.77px 93.09px,#c43500 93.09px 97.42px,#c43400 97.42px 101.76px,#c33300 101.76px 106.08px,#c23200 106.08px 110.42px,#c23100 110.42px 114.75px,#c13000 114.75px 119.08px,#c02f00 119.08px 123.41px,#b82400 123.41px 127.74px,#ab174e 127.74px 132.07px,#9a0cbf 132.07px 136.39px,#8104ff 136.39px 140.72px,#6a01e1 140.72px 145.05px,#52009b 145.05px 149.38px,#3b0054 149.38px 153.72px,#2a002b 153.72px 158.04px,#000000 158.04px 303.10px)"></div>
<div class="hr" style="left:366.20px;top:370.14px;width:303.10px;height:10.56px;background:linear-gradient(90deg,#d75b00 0.00px 2.17px,#d35300 2.17px 6.49px,#d04b00 6.49px 10.82px,#cf4900 10.82px 15.16px,#ce4700 15.16px 19.49px,#cd4600 19.49px 23.81px,#cd4400 23.81px 28.14px,#cc4200 28.14px 32.47px,#cb4100 32.47px 36.80px,#ca3f00 36.80px 41.13px,#c93d00 41.13px 54.12px,#c83c00 54.12px 62.78px,#c83b00 62.78px 71.45px,#c73a00 71.45px 80.11px,#c73900 80.11px 88.77px,#c63900 88.77px 93.09px,#c63800 93.09px 101.76px,#c63700 101.76px 106.08px,#bc2900 106.08px 110.42px,#b11d1b 110.42px 114.75px,#a5137d 114.75px 119.08px,#950ad7 119.08px 123.41px,#7f04ff 123.41px 127.74px,#6e02ec 127.74px 132.07px,#5c01b9 132.07px 136.39px,#4f0091 136.39px 140.72px,#410064 140.72px 145.05px,#37004b 145.05px 149.38px,#2c0030 149.38px 153.72px,#23001e 153.72px 158.04px,#1c0014 158.04px 162.38px,#14000a 162.38px 166.71px,#0e0005 166.71px 171.03px,#000000 171.03px 303.10px)"></div>
<div class="hr" style="left:366.20px;top:380.70px;width:303.10px;height:10.57px;background:linear-gradient(90deg,#dd6c00 0.00px 2.17px,#db6700 2.17px 6.49px,#da6300 6.49px 10.82px,#d85f00 10.82px 15.16px,#d75b00 15.16px 19.49px,#d55700 19.49px 23.81px,#d35300 23.81px 28.14px,#d24f00 28.14px 32.47px,#d04b00 32.47px 36.80px,#ce4700 36.80px 41.13px,#cd4400 41.13px 45.47px,#cc4200 45.47px 49.79px,#ca4000 49.79px 54.12px,#c93e00 54.12px 58.45px,#c83c00 58.45px 62.78px,#c73a00 62.78px 67.11px,#c63800 67.11px 71.45px,#c53600 71.45px 75.78px,#c43500 75.78px 80.11px,#c33300 80.11px 84.43px,#c23100 84.43px 88.77px,#c13000 88.77px 93.09px,#c02e00 93.09px 97.42px,#be2c00 97.42px 101.76px,#af1b2c 101.76px 106.08px,#9c0db8 106.08px 110.42px,#8104ff 110.42px 114.75px,#7a03fd 114.75px 119.08px,#7202f3 119.08px 123.41px,#6a01e1 123.41px 127.74px,#5f01c4 127.74px 132.07px,#54009f 132.07px 136.39px,#48007c 136.39px 140.72px,#3b0054 140.72px 145.05px,#32003e 145.05px 149.38px,#280027 149.38px 153.72px,#1f0017 153.72px 158.04px,#19000f 158.04px 162.38px,#110007 162.38px 166.71px,#0c0003 166.71px 171.03px,#000000 171.03px 303.10px)"></div>
<div class="hr" style="left:366.20px;top:391.27px;width:303.10px;height:10.56px;background:linear-gradient(90deg,#efae00 0.00px 49.79px,#cc4300 49.79px 54.12px,#cb4200 54.12px 58.45px,#ca4000 58.45px 62.78px,#ca3e00 62.78px 67.11px,#c93d00 67.11px 71.45px,#c83b00 71.45px 75.78px,#c73a00 75.78px 80.11px,#c63800 80.11px 84.43px,#ba2600 84.43px 88.77px,#a31189 88.77px 93.09px,#950ad4 93.09px 97.42px,#8605fb 97.42px 101.76px,#7d03fe 101.76px 106.08px,#7502f8 106.08px 110.42px,#6e02ea 110.42px 114.75px,#6501d4 114.75px 119.08px,#5b01b7 119.08px 123.41px,#510097 123.41px 127.74px,#48007c 127.74px 132.07px,#3e005e 132.07px 136.39px,#360048 136.39px 140.72px,#2f0036 140.72px 145.05px,#260023 145.05px 149.38px,#1f0018 149.38px 153.72px,#1a0011 153.72px 158.04px,#14000a 158.04px 162.38px,#0e0005 162.38px 166.71px,#000000 166.71px 303.10px)"></div>
<div class="hr" style="left:366.20px;top:401.83px;width:303.10px;height:10.57px;background:linear-gradient(90deg,#f9de00 0.00px 19.49px,#fced00 19.49px 28.14px,#f9dc00 28.14px 32.47px,#f4c400 32.47px 36.80px,#efae00 36.80px 41.13px,#ec9f00 41.13px 45.47px,#e89200 45.47px 49.79px,#e58500 49.79px 54.12px,#e17900 54.12px 58.45px,#d96200 58.45px 62.78px,#d04a00 62.78px 67.11px,#c43500 67.11px 71.45px,#b72300 71.45px 75.78px,#a9165f 75.78px 80.11px,#9b0db9 80.11px 84.43px,#9008e7 84.43px 88.77px,#8405fd 88.77px 93.09px,#7c03fe 93.09px 97.42px,#7603f9 97.42px 101.76px,#7002f0 101.76px 106.08px,#6901e0 106.08px 110.42px,#6001c5 110.42px 114.75px,#5500a3 114.75px 119.08px,#4c0088 119.08px 123.41px,#43006c 123.41px 127.74px,#3a0051 127.74px 132.07px,#33003f 132.07px 136.39px,#2b002e 136.39px 140.72px,#21001b 140.72px 145.05px,#1e0016 145.05px 149.38px,#1b0011 149.38px 153.72px,#16000c 153.72px 158.04px,#100006 158.04px 162.38px,#000000 162.38px 303.10px)"></div>
<div class="hr" style="left:366.20px;top:412.40px;width:303.10px;height:10.56px;background:linear-gradient(90deg,#ffff52 0.00px 2.17px,#ffff56 2.17px 6.49px,#ffff5b 6.49px 10.82px,#ffff5f 10.82px 15.16px,#ffff64 15.16px 19.49px,#ffff69 19.49px 23.81px,#ffff68 23.81px 28.14px,#ffff36 28.14px 32.47px,#fdf600 32.47px 36.80px,#fae300 36.80px 41.13px,#f5c700 41.13px 45.47px,#efae00 45.47px 49.79px,#e68900 49.79px 54.12px,#dc6800 54.12px 58.45px,#d04b00 58.45px 62.78px,#c43500 62.78px 67.11px,#b72300 67.11px 71.45px,#a7146e 71.45px 75.78px,#970bcf 75.78px 80.11px,#8605fc 80.11px 84.43px,#7c03fe 84.43px 88.77px,#7603f9 88.77px 93.09px,#7002f0 93.09px 97.42px,#6a01e0 97.42px 101.76px,#6101c8 101.76px 106.08px,#5700a9 106.08px 110.42px,#4e008e 110.42px 114.75px,#460073 114.75px 119.08px,#3c0057 119.08px 123.41px,#360046 123.41px 127.74px,#2f0036 127.74px 132.07px,#270025 132.07px 136.39px,#200019 136.39px 140.72px,#1d0014 140.72px 145.05px,#19000f 145.05px 149.38px,#14000a 149.38px 153.72px,#0e0005 153.72px 158.04px,#000000 158.04px 303.10px)"></div>
<div class="hr" style="left:366.20px;top:422.96px;width:303.10px;height:10.57px;background:linear-gradient(90deg,#ffffad 0.00px 2.17px,#ffffb5 2.17px 6.49px,#ffffbd 6.49px 10.82px,#ffffc6 10.82px 15.16px,#ffffce 15.16px 19.49px,#ffffd6 19.49px 23.81px,#ffffa4 23.81px 28.14px,#ffff36 28.14px 32.47px,#fbea00 32.47px 36.80px,#f5ca00 36.80px 41.13px,#eeaa00 41.13px 45.47px,#e68800 45.47px 49.79px,#dc6800 49.79px 54.12px,#d04b00 54.12px 58.45px,#c43500 58.45px 62.78px,#b72300 62.78px 67.11px,#a7146e 67.11px 71.45px,#990cc6 71.45px 75.78px,#8c07f1 75.78px 80.11px,#7f04ff 80.11px 84.43px,#7b03fd 84.43px 88.77px,#7703f9 88.77px 93.09px,#7102f1 93.09px 97.42px,#6801dd 97.42px 101.76px,#5f01c2 101.76px 106.08px,#5600a6 106.08px 110.42px,#4c0088 110.42px 114.75px,#420068 114.75px 119.08px,#3a0053 119.08px 123.41px,#32003e 123.41px 127.74px,#290029 127.74px 132.07px,#22001c 132.07px 136.39px,#1e0016 136.39px 140.72px,#1a0010 140.72px 145.05px,#14000a 145.05px 149.38px,#0e0005 149.38px 153.72px,#000000 153.72px 303.10px)"></div>
<div class="hr" style="left:366.20px;top:433.53px;width:303.10px;height:10.56px;background:linear-gradient(90deg,#ffff7f 0.00px 23.81px,#fbe700 23.81px 28.14px,#f5c600 28.14px 32.47px,#eeaa00 32.47px 36.80px,#e68a00 36.80px 41.13px,#dd6d00 41.13px 45.47px,#d45500 45.47px 49.79px,#ca3f00 49.79px 54.12px,#be2b00 54.12px 58.45px,#ae1a37 58.45px 62.78px,#9c0db5 62.78px 67.11px,#8f08e9 67.11px 71.45px,#8204ff 71.45px 75.78px,#7a03fd 75.78px 80.11px,#7402f5 80.11px 84.43px,#6d02e8 84.43px 88.77px,#6501d5 88.77px 93.09px,#5d01bc 93.09px 97.42px,#54009f 97.42px 101.76px,#4c0086 101.76px 106.08px,#43006b 106.08px 110.42px,#3a0051 110.42px 114.75px,#340041 114.75px 119.08px,#2d0031 119.08px 123.41px,#240020 123.41px 127.74px,#1f0018 127.74px 132.07px,#1c0014 132.07px 136.39px,#19000f 136.39px 140.72px,#14000a 140.72px 145.05px,#0e0005 145.05px 149.38px,#000000 149.38px 303.10px)"></div>
<div class="hr" style="left:366.20px;top:444.09px;width:303.10px;height:10.57px;background:linear-gradient(90deg,#ffff52 0.00px 15.16px,#ffff1b 15.16px 19.49px,#fae400 19.49px 23.81px,#f5c800 23.81px 28.14px,#efae00 28.14px 32.47px,#e68a00 32.47px 36.80px,#dd6c00 36.80px 41.13px,#d55700 41.13px 45.47px,#cd4600 45.47px 49.79px,#c43400 49.79px 54.12px,#b92500 54.12px 58.45px,#ad1843 58.45px 62.78px,#9e0fa7 62.78px 67.11px,#8e08ed 67.11px 71.45px,#7e04ff 71.45px 75.78px,#7302f4 75.78px 80.11px,#6501d5 80.11px 84.43px,#5800ae 84.43px 88.77px,#500093 88.77px 93.09px,#460074 93.09px 97.42px,#3e005b 97.42px 101.76px,#370049 101.76px 106.08px,#2f0036 106.08px 110.42px,#250022 110.42px 114.75px,#22001c 114.75px 119.08px,#1e0016 119.08px 123.41px,#1a0010 123.41px 127.74px,#14000a 127.74px 132.07px,#110007 132.07px 136.39px,#0c0003 136.39px 140.72px,#000000 140.72px 303.10px)"></div>
<div class="hr" style="left:366.20px;top:454.66px;width:303.10px;height:10.56px;background:linear-gradient(90deg,#ffff24 0.00px 2.17px,#ffff3d 2.17px 6.49px,#ffff39 6.49px 10.82px,#fdf300 10.82px 15.16px,#f9de00 15.16px 19.49px,#f3bf00 19.49px 23.81px,#eda300 23.81px 28.14px,#e68a00 28.14px 32.47px,#e27b00 32.47px 36.80px,#dd6c00 36.80px 41.13px,#d25000 41.13px 45.47px,#c63900 45.47px 49.79px,#ba2600 49.79px 54.12px,#a7146e 54.12px 58.45px,#970bcd 58.45px 62.78px,#8a06f6 62.78px 67.11px,#7d04ff 67.11px 71.45px,#7703fa 71.45px 75.78px,#7002f0 75.78px 80.11px,#6801dd 80.11px 84.43px,#5d01be 84.43px 88.77px,#52009b 88.77px 93.09px,#460075 93.09px 97.42px,#37004b 97.42px 101.76px,#2f0037 101.76px 106.08px,#250022 106.08px 110.42px,#18000e 110.42px 114.75px,#14000a 114.75px 119.08px,#110007 119.08px 123.41px,#0c0003 123.41px 127.74px,#0a0002 127.74px 132.07px,#070001 132.07px 136.39px,#000000 136.39px 303.10px)"></div>
<div class="hr" style="left:366.20px;top:465.22px;width:303.10px;height:10.57px;background:linear-gradient(90deg,#fbe600 0.00px 2.17px,#fae200 2.17px 6.49px,#f9de00 6.49px 10.82px,#f8da00 10.82px 15.16px,#f8d700 15.16px 19.49px,#efae00 19.49px 23.81px,#e68a00 23.81px 28.14px,#e07600 28.14px 32.47px,#d85d00 32.47px 36.80px,#cd4400 36.80px 41.13px,#be2c00 41.13px 45.47px,#ac1845 45.47px 49.79px,#9b0dbb 49.79px 54.12px,#9209e2 54.12px 58.45px,#8806f9 58.45px 62.78px,#7f04ff 62.78px 67.11px,#7903fc 67.11px 71.45px,#7202f2 71.45px 75.78px,#6b01e3 75.78px 80.11px,#6301ce 80.11px 84.43px,#5a00b4 84.43px 88.77px,#510098 88.77px 93.09px,#49007e 93.09px 97.42px,#400061 97.42px 101.76px,#350044 101.76px 106.08px,#2f0035 106.08px 110.42px,#280027 110.42px 114.75px,#1f0018 114.75px 119.08px,#1b0012 119.08px 123.41px,#17000d 123.41px 127.74px,#110007 127.74px 132.07px,#0c0003 132.07px 136.39px,#000000 136.39px 303.10px)"></div>
<div class="hr" style="left:366.20px;top:475.79px;width:303.10px;height:10.56px;background:linear-gradient(90deg,#f6cf00 0.00px 2.17px,#f4c500 2.17px 6.49px,#f2bc00 6.49px 10.82px,#f0b200 10.82px 15.16px,#eb9b00 15.16px 19.49px,#e27b00 19.49px 23.81px,#d96100 23.81px 28.14px,#d14d00 28.14px 32.47px,#c63900 32.47px 36.80px,#ba2600 36.80px 41.13px,#a81564 41.13px 45.47px,#990cc4 45.47px 49.79px,#8e08ee 49.79px 54.12px,#8104ff 54.12px 58.45px,#7b03fd 58.45px 62.78px,#7602f8 62.78px 67.11px,#7102f0 67.11px 71.45px,#6b01e4 71.45px 75.78px,#6401d1 75.78px 80.11px,#5c01ba 80.11px 84.43px,#54009f 84.43px 88.77px,#4b0085 88.77px 93.09px,#420068 93.09px 97.42px,#37004a 97.42px 101.76px,#300038 101.76px 106.08px,#29002a 106.08px 110.42px,#21001b 110.42px 114.75px,#1c0013 114.75px 119.08px,#17000d 119.08px 123.41px,#110007 123.41px 127.74px,#0c0003 127.74px 132.07px,#000000 132.07px 303.10px)"></div>
<div class="hr" style="left:366.20px;top:486.35px;width:303.10px;height:10.57px;background:linear-gradient(90deg,#f2bb00 0.00px 2.17px,#f0b200 2.17px 6.49px,#eeab00 6.49px 10.82px,#eda300 10.82px 15.16px,#e68800 15.16px 19.49px,#dd6c00 19.49px 23.81px,#d45400 23.81px 28.14px,#ca3f00 28.14px 32.47px,#bd2a00 32.47px 36.80px,#ab174e 36.80px 41.13px,#9a0dbd 41.13px 45.47px,#9008e7 45.47px 49.79px,#8505fd 49.79px 54.12px,#7c03fe 54.12px 58.45px,#7703fa 58.45px 62.78px,#7202f3 62.78px 67.11px,#6d02e8 67.11px 71.45px,#6601d6 71.45px 75.78px,#5e01c0 75.78px 80.11px,#5500a5 80.11px 84.43px,#4d008b 84.43px 88.77px,#450070 88.77px 93.09px,#3b0053 93.09px 97.42px,#32003d 97.42px 101.76px,#2b002e 101.76px 106.08px,#24001f 106.08px 110.42px,#1d0015 110.42px 114.75px,#19000f 114.75px 119.08px,#14000a 119.08px 123.41px,#0e0005 123.41px 127.74px,#080002 127.74px 132.07px,#000000 132.07px 303.10px)"></div>
<div class="hr" style="left:366.20px;top:496.92px;width:303.10px;height:5.28px;background:linear-gradient(90deg,#eca100 0.00px 2.17px,#e88f00 2.17px 6.49px,#e37e00 6.49px 10.82px,#de6f00 10.82px 15.16px,#d35200 15.16px 19.49px,#c63700 19.49px 23.81px,#b72300 23.81px 28.14px,#aa1659 28.14px 32.47px,#9c0db6 32.47px 36.80px,#8e08ed 36.80px 41.13px,#7f04ff 41.13px 45.47px,#7b03fd 45.47px 49.79px,#7703f9 49.79px 54.12px,#7302f3 54.12px 58.45px,#6e02eb 58.45px 62.78px,#6801dd 62.78px 67.11px,#6101ca 67.11px 71.45px,#5a00b4 71.45px 75.78px,#52009b 75.78px 80.11px,#4b0084 80.11px 84.43px,#43006b 84.43px 88.77px,#3a0051 88.77px 93.09px,#32003e 93.09px 97.42px,#2d0031 97.42px 101.76px,#270025 101.76px 106.08px,#1f0018 106.08px 110.42px,#1b0012 110.42px 114.75px,#17000d 114.75px 119.08px,#110007 119.08px 123.41px,#0c0003 123.41px 127.74px,#000000 127.74px 303.10px)"></div>
<div class="cb" style="left:102.6px;top:34.9px;width:229.8px;height:16.6px;background:linear-gradient(90deg,#352a87 0.0%,#363194 1.7%,#3637a1 3.3%,#353eaf 5.0%,#3145bc 6.7%,#294cca 8.3%,#1b55d7 10.0%,#0b5edf 11.7%,#0265e1 13.3%,#036ae1 15.0%,#066fdf 16.7%,#0b73dd 18.3%,#0f77db 20.0%,#127bd9 21.7%,#137fd6 23.3%,#1484d4 25.0%,#1388d3 26.7%,#118dd2 28.3%,#0d93d2 30.0%,#0998d1 31.7%,#079ccf 33.3%,#06a0cd 35.0%,#06a4c9 36.7%,#06a7c5 38.3%,#07aac1 40.0%,#0badbc 41.7%,#11afb8 43.3%,#18b1b2 45.0%,#20b4ad 46.7%,#29b6a7 48.3%,#33b8a1 50.0%,#3dba9b 51.7%,#49bb94 53.3%,#55bd8e 55.0%,#61be87 56.7%,#6ebf82 58.3%,#7abf7c 60.0%,#86bf78 61.7%,#91bf73 63.3%,#9bbf6f 65.0%,#a5be6b 66.7%,#afbe67 68.3%,#b8bd63 70.0%,#c1bc60 71.7%,#cabb5c 73.3%,#d3bb58 75.0%,#dbba55 76.7%,#e4b951 78.3%,#ecb94c 80.0%,#f4ba47 81.7%,#fbbc41 83.3%,#fec13a 85.0%,#fec634 86.7%,#fdcc2f 88.3%,#fad12b 90.0%,#f8d727 91.7%,#f6dd22 93.3%,#f5e31e 95.0%,#f5ea19 96.7%,#f6f213 98.3%,#f9fb0e 100.0%)"></div>
<div class="cb" style="left:401.9px;top:31.1px;width:230px;height:16.4px;background:linear-gradient(90deg,#000000 0.0%,#21001b 1.7%,#2f0035 3.3%,#39004f 5.0%,#420068 6.7%,#4a007f 8.3%,#510096 10.0%,#5700ab 11.7%,#5d01be 13.3%,#6301ce 15.0%,#6801dd 16.7%,#6d02e9 18.3%,#7202f3 20.0%,#7703f9 21.7%,#7b03fe 23.3%,#8004ff 25.0%,#8405fe 26.7%,#8806f9 28.3%,#8c07f3 30.0%,#8f08e9 31.7%,#9309dd 33.3%,#970bce 35.0%,#9a0dbe 36.7%,#9e0eab 38.3%,#a11096 40.0%,#a5127f 41.7%,#a81568 43.3%,#ab174f 45.0%,#ae1a35 46.7%,#b11d1b 48.3%,#b42000 50.0%,#b72300 51.7%,#ba2700 53.3%,#bd2a00 55.0%,#c02e00 56.7%,#c33300 58.3%,#c63700 60.0%,#c83c00 61.7%,#cb4100 63.3%,#ce4600 65.0%,#d04c00 66.7%,#d35100 68.3%,#d55700 70.0%,#d85e00 71.7%,#da6500 73.3%,#dd6c00 75.0%,#df7300 76.7%,#e27b00 78.3%,#e48300 80.0%,#e68b00 81.7%,#e99400 83.3%,#eb9d00 85.0%,#eda600 86.7%,#f0b000 88.3%,#f2ba00 90.0%,#f4c400 91.7%,#f6cf00 93.3%,#f9db00 95.0%,#fbe600 96.7%,#fdf200 98.3%,#ffff00 100.0%)"></div>
<svg width="685" height="866" viewBox="0 0 685 866">
<!-- colorbar axes -->
<g stroke="#000" stroke-width="1.1" fill="none">
<path d="M102.6 51.8H332.4"/>
<path d="M401.9 47.8H632"/>
</g>
<path d="M102.90 51.8V56.3 M113.33 51.8V54.3 M123.75 51.8V54.3 M134.18 51.8V54.3 M144.60 51.8V56.3 M155.03 51.8V54.3 M165.45 51.8V54.3 M175.88 51.8V54.3 M186.30 51.8V56.3 M196.73 51.8V54.3 M207.15 51.8V54.3 M217.58 51.8V54.3 M228.00 51.8V56.3 M238.43 51.8V54.3 M248.85 51.8V54.3 M259.27 51.8V54.3 M269.70 51.8V56.3 M280.12 51.8V54.3 M290.55 51.8V54.3 M300.98 51.8V54.3 M311.40 51.8V56.3 M321.83 51.8V54.3 M332.25 51.8V54.3 M402.40 47.8V53.0 M412.24 47.8V51.0 M422.08 47.8V51.0 M431.92 47.8V51.0 M441.76 47.8V51.0 M451.60 47.8V53.0 M461.44 47.8V51.0 M471.28 47.8V51.0 M481.12 47.8V51.0 M490.96 47.8V51.0 M500.80 47.8V53.0 M510.64 47.8V51.0 M520.48 47.8V51.0 M530.32 47.8V51.0 M540.16 47.8V51.0 M550.00 47.8V53.0 M559.84 47.8V51.0 M569.68 47.8V51.0 M579.52 47.8V51.0 M589.36 47.8V51.0 M599.20 47.8V53.0 M609.04 47.8V51.0 M618.88 47.8V51.0 M628.72 47.8V51.0" stroke="#000" stroke-width="1" fill="none"/>

<g class="s" font-size="12.2" fill="#1a1a1a" stroke="#1a1a1a" stroke-width="0.3" text-anchor="middle">
<text x="103.2" y="66.6">0</text><text x="144.9" y="66.6">2</text><text x="186.6" y="66.6">4</text><text x="228.3" y="66.6">6</text><text x="270" y="66.6">8</text><text x="311.7" y="66.6">10</text>
<text x="402.6" y="66.8">0</text><text x="451.8" y="66.8">1</text><text x="501" y="66.8">2</text><text x="550.2" y="66.8">3</text><text x="599.4" y="66.8">4</text>
</g>
<text font-family='"Liberation Serif",serif' font-size="100" font-style="italic" fill="#000" transform="matrix(0.31190 0 0 0.24255 149.68 23.46)">ν</text>
<text font-family='"Liberation Serif",serif' font-size="100" fill="#000" transform="matrix(0.25000 0 0 0.30556 165.60 24.18)">(</text>
<text font-family='"Liberation Serif",serif' font-size="100" font-style="italic" fill="#000" transform="matrix(0.32000 0 0 0.28231 176.12 23.60)">E</text>
<text font-family='"Liberation Serif",serif' font-size="100" font-style="italic" fill="#000" transform="matrix(0.21935 0 0 0.20154 194.60 28.00)">F</text>
<text font-family='"Liberation Serif",serif' font-size="100" fill="#000" transform="matrix(0.26923 0 0 0.30556 209.99 24.18)">)</text>
<text font-family='"Liberation Serif",serif' font-size="100" fill="#000" transform="matrix(0.37500 0 0 0.41212 220.30 30.29)">/</text>
<text font-family='"Liberation Serif",serif' font-size="100" font-style="italic" fill="#000" transform="matrix(0.31190 0 0 0.24255 232.88 23.46)">ν</text>
<text font-family='"Liberation Serif",serif' font-size="100" fill="#000" transform="matrix(0.21351 0 0 0.21875 246.65 27.78)">e</text>
<text font-family='"Liberation Serif",serif' font-size="100" font-style="italic" fill="#000" transform="matrix(0.36481 0 0 0.30308 492.05 21.70)">T</text>
<text font-family='"Liberation Serif",serif' font-size="100" font-style="italic" fill="#000" transform="matrix(0.23750 0 0 0.20417 510.29 25.40)">c</text>
<text font-family='"Liberation Serif",serif' font-size="100" fill="#000" transform="matrix(0.30385 0 0 0.33000 530.58 22.27)">(</text>
<text font-family='"Liberation Serif",serif' font-size="100" font-style="italic" fill="#000" transform="matrix(0.34583 0 0 0.30308 540.95 21.70)">K</text>
<text font-family='"Liberation Serif",serif' font-size="100" fill="#000" transform="matrix(0.30000 0 0 0.33000 566.00 22.27)">)</text>
<text font-family='"Liberation Serif",serif' font-size="100" font-style="italic" fill="#000" transform="matrix(0.33032 0 0 0.28723 132.69 569.70)">n</text>
<text font-family='"Liberation Serif",serif' font-size="100" fill="#000" transform="matrix(0.36154 0 0 0.34444 157.35 570.57)">(</text>
<text font-family='"Liberation Serif",serif' font-size="100" fill="#000" transform="matrix(0.24828 0 0 0.31765 168.67 569.06)">10</text>
<text font-family='"Liberation Serif",serif' font-size="100" fill="#000" transform="matrix(0.24471 0 0 0.20455 192.50 560.30)">12</text>
<text font-family='"Liberation Serif",serif' font-size="100" fill="#000" transform="matrix(0.30157 0 0 0.28125 229.09 569.42)">cm</text>
<text font-family='"Liberation Serif",serif' font-size="100" fill="#000" transform="matrix(0.25957 0 0 0.30000 266.80 562.40)">−</text>
<text font-family='"Liberation Serif",serif' font-size="100" fill="#000" transform="matrix(0.23500 0 0 0.20769 282.06 560.30)">2</text>
<text font-family='"Liberation Serif",serif' font-size="100" fill="#000" transform="matrix(0.31154 0 0 0.34444 292.87 570.57)">)</text>
<text font-family='"Liberation Serif",serif' font-size="100" font-style="italic" fill="#000" transform="matrix(0.33032 0 0 0.28723 432.09 569.70)">n</text>
<text font-family='"Liberation Serif",serif' font-size="100" fill="#000" transform="matrix(0.36154 0 0 0.34444 456.75 570.57)">(</text>
<text font-family='"Liberation Serif",serif' font-size="100" fill="#000" transform="matrix(0.24828 0 0 0.31765 468.07 569.06)">10</text>
<text font-family='"Liberation Serif",serif' font-size="100" fill="#000" transform="matrix(0.24471 0 0 0.20455 491.90 560.30)">12</text>
<text font-family='"Liberation Serif",serif' font-size="100" fill="#000" transform="matrix(0.30157 0 0 0.28125 528.49 569.42)">cm</text>
<text font-family='"Liberation Serif",serif' font-size="100" fill="#000" transform="matrix(0.25957 0 0 0.30000 566.20 562.40)">−</text>
<text font-family='"Liberation Serif",serif' font-size="100" fill="#000" transform="matrix(0.23500 0 0 0.20769 581.46 560.30)">2</text>
<text font-family='"Liberation Serif",serif' font-size="100" fill="#000" transform="matrix(0.31154 0 0 0.34444 592.27 570.57)">)</text>
<g transform="translate(22.2 330) rotate(-90)"><text font-family='"Liberation Serif",serif' font-size="100" font-style="italic" fill="#000" transform="matrix(0.34583 0 0 0.29846 4.65 0.00)">D</text><text font-family='"Liberation Serif",serif' font-size="100" fill="#000" transform="matrix(0.23374 0 0 0.31556 38.08 0.27)">(</text><text font-family='"Liberation Serif",serif' font-size="100" fill="#000" transform="matrix(0.22568 0 0 0.28085 46.85 -0.00)">m</text><text font-family='"Liberation Serif",serif' font-size="100" fill="#000" transform="matrix(0.35676 0 0 0.27500 63.77 -0.28)">e</text><text font-family='"Liberation Serif",serif' font-size="100" fill="#000" transform="matrix(0.32714 0 0 0.28955 79.47 -0.58)">V</text><text font-family='"Liberation Serif",serif' font-size="100" fill="#000" transform="matrix(0.26538 0 0 0.31556 104.00 0.27)">)</text></g>
<g transform="translate(35.5 735) rotate(-90)"><text font-family='"Liberation Serif",serif' font-size="100" font-style="italic" fill="#000" transform="matrix(0.34630 0 0 0.30308 3.88 0.00)">T</text><text font-family='"Liberation Serif",serif' font-size="100" font-style="italic" fill="#000" transform="matrix(0.22000 0 0 0.18542 21.34 3.51)">c</text><text font-family='"Liberation Serif",serif' font-size="100" fill="#000" transform="matrix(0.27692 0 0 0.31222 40.09 -0.26)">(</text><text font-family='"Liberation Serif",serif' font-size="100" font-style="italic" fill="#000" transform="matrix(0.31806 0 0 0.30308 50.32 0.00)">K</text><text font-family='"Liberation Serif",serif' font-size="100" fill="#000" transform="matrix(0.26154 0 0 0.31222 74.12 -0.26)">)</text></g>
<text font-family='"Liberation Serif",serif' font-size="100" font-style="italic" fill="#000" transform="matrix(0.32053 0 0 0.27872 277.24 858.80)">n</text>
<text font-family='"Liberation Serif",serif' font-size="100" fill="#000" transform="matrix(0.33462 0 0 0.33111 300.66 859.35)">(</text>
<text font-family='"Liberation Serif",serif' font-size="100" fill="#000" transform="matrix(0.24138 0 0 0.30882 311.23 858.18)">10</text>
<text font-family='"Liberation Serif",serif' font-size="100" fill="#000" transform="matrix(0.24136 0 0 0.17879 335.07 848.30)">12</text>
<text font-family='"Liberation Serif",serif' font-size="100" fill="#000" transform="matrix(0.27150 0 0 0.27292 368.71 858.53)">cm</text>
<text font-family='"Liberation Serif",serif' font-size="100" fill="#000" transform="matrix(0.25106 0 0 0.30000 402.74 852.10)">−</text>
<text font-family='"Liberation Serif",serif' font-size="100" fill="#000" transform="matrix(0.23000 0 0 0.18154 417.48 848.30)">2</text>
<text font-family='"Liberation Serif",serif' font-size="100" fill="#000" transform="matrix(0.30385 0 0 0.33111 429.39 859.35)">)</text>
<text font-family='"Liberation Serif",serif' font-size="100" font-style="italic" fill="#000" transform="matrix(0.23245 0 0 0.20213 534.20 606.00)">r</text>
<text font-family='"Liberation Serif",serif' font-size="100" font-style="italic" fill="#000" transform="matrix(0.19731 0 0 0.14615 546.34 609.80)">K</text>
<text font-family='"Liberation Serif",serif' font-size="100" fill="#000" transform="matrix(0.32940 0 0 0.24400 567.56 608.32)">=</text>
<text font-family='"Liberation Serif",serif' font-size="100" fill="#000" transform="matrix(0.24571 0 0 0.20152 592.29 606.00)">1</text>
<text font-family='"Liberation Serif",serif' font-size="100" fill="#000" transform="matrix(0.25242 0 0 0.20213 612.10 606.00)">nm</text>
<text font-family='"Liberation Serif",serif' font-size="100" font-style="italic" fill="#000" transform="matrix(0.23245 0 0 0.20213 534.20 637.80)">r</text>
<text font-family='"Liberation Serif",serif' font-size="100" font-style="italic" fill="#000" transform="matrix(0.19731 0 0 0.14615 546.34 641.60)">K</text>
<text font-family='"Liberation Serif",serif' font-size="100" fill="#000" transform="matrix(0.32940 0 0 0.24400 567.56 640.12)">=</text>
<text font-family='"Liberation Serif",serif' font-size="100" fill="#000" transform="matrix(0.20976 0 0 0.20152 593.45 637.60)">3</text>
<text font-family='"Liberation Serif",serif' font-size="100" fill="#000" transform="matrix(0.25242 0 0 0.20213 612.10 637.80)">nm</text>
<text font-family='"Liberation Serif",serif' font-size="100" font-style="italic" fill="#000" transform="matrix(0.23245 0 0 0.20213 534.20 669.60)">r</text>
<text font-family='"Liberation Serif",serif' font-size="100" font-style="italic" fill="#000" transform="matrix(0.19731 0 0 0.14615 546.34 673.40)">K</text>
<text font-family='"Liberation Serif",serif' font-size="100" fill="#000" transform="matrix(0.32940 0 0 0.24400 567.56 671.92)">=</text>
<text font-family='"Liberation Serif",serif' font-size="100" fill="#000" transform="matrix(0.20000 0 0 0.19851 593.70 669.20)">6</text>
<text font-family='"Liberation Serif",serif' font-size="100" fill="#000" transform="matrix(0.25242 0 0 0.20213 612.10 669.60)">nm</text>
<text font-family='"Liberation Serif",serif' font-size="100" font-style="italic" fill="#000" transform="matrix(0.23245 0 0 0.20213 534.20 701.40)">r</text>
<text font-family='"Liberation Serif",serif' font-size="100" font-style="italic" fill="#000" transform="matrix(0.19731 0 0 0.14615 546.34 705.20)">K</text>
<text font-family='"Liberation Serif",serif' font-size="100" fill="#000" transform="matrix(0.32940 0 0 0.24400 567.56 703.72)">=</text>
<text font-family='"Liberation Serif",serif' font-size="100" fill="#000" transform="matrix(0.23448 0 0 0.19559 591.29 701.01)">10</text>
<text font-family='"Liberation Serif",serif' font-size="100" fill="#000" transform="matrix(0.25565 0 0 0.20213 622.49 701.40)">nm</text>
<!-- frames (a),(b) -->
<g stroke="#b9b9b9" stroke-width="2" fill="none">
<path d="M57.9 511.8V71H373"/>
<path d="M57.9 511.8H373"/>
<path d="M372.6 71V80M372.6 502V511.5" stroke="#c8c8c8"/>
<path d="M371.8 71H675.1V511.8H371.8"/>
</g>
<path d="M64.00 511V505.8 M366.20 511V505.8 M72.63 511V508.2 M374.86 511V508.2 M81.26 511V508.2 M383.52 511V508.2 M89.88 511V508.2 M392.18 511V508.2 M98.51 511V508.2 M400.84 511V508.2 M107.14 511V505.8 M409.50 511V505.8 M115.77 511V508.2 M418.16 511V508.2 M124.40 511V508.2 M426.82 511V508.2 M133.02 511V508.2 M435.48 511V508.2 M141.65 511V508.2 M444.14 511V508.2 M150.28 511V505.8 M452.80 511V505.8 M158.91 511V508.2 M461.46 511V508.2 M167.54 511V508.2 M470.12 511V508.2 M176.16 511V508.2 M478.78 511V508.2 M184.79 511V508.2 M487.44 511V508.2 M193.42 511V505.8 M496.10 511V505.8 M202.05 511V508.2 M504.76 511V508.2 M210.68 511V508.2 M513.42 511V508.2 M219.30 511V508.2 M522.08 511V508.2 M227.93 511V508.2 M530.74 511V508.2 M236.56 511V505.8 M539.40 511V505.8 M245.19 511V508.2 M548.06 511V508.2 M253.82 511V508.2 M556.72 511V508.2 M262.44 511V508.2 M565.38 511V508.2 M271.07 511V508.2 M574.04 511V508.2 M279.70 511V505.8 M582.70 511V505.8 M288.33 511V508.2 M591.36 511V508.2 M296.96 511V508.2 M600.02 511V508.2 M305.58 511V508.2 M608.68 511V508.2 M314.21 511V508.2 M617.34 511V508.2 M322.84 511V505.8 M626.00 511V505.8 M331.47 511V508.2 M634.66 511V508.2 M340.10 511V508.2 M643.32 511V508.2 M348.72 511V508.2 M651.98 511V508.2 M357.35 511V508.2 M660.64 511V508.2 M365.98 511V505.8 M669.30 511V505.8 M58.9 79.00H63.6 M58.9 248.20H63.6 M58.9 417.40H63.6" stroke="#a0a0a0" stroke-width="1" fill="none"/>
<path d="M372.6 80V502" stroke="#fff" stroke-opacity="0.12" stroke-width="2"/>
<path d="M367.2 70V513.5" stroke="#000" stroke-width="2"/>
<path d="M367.2 78.8H373.5M367.2 248.5H373.5M367.2 418.2H373.5" stroke="#000" stroke-width="1"/>
<!-- dashed lines -->
<defs><clipPath id="ca"><rect x="50" y="60" width="320.2" height="460"/></clipPath><clipPath id="cb"><rect x="372.5" y="60" width="310" height="460"/></clipPath></defs>
<path d="M58.8,413.4 L63.4,413.1 L68.0,412.5 L72.5,412.0 L77.1,411.5 L81.6,411.1 L86.2,410.7 L90.8,410.2 L95.3,409.8 L99.9,409.3 L104.5,408.8 L109.0,408.3 L113.6,407.7 L118.2,407.1 L122.7,406.1 L127.3,405.2 L131.8,404.1 L136.4,402.4 L141.0,400.7 L145.5,398.8 L150.1,396.8 L154.7,394.8 L159.2,392.5 L163.8,390.0 L168.4,387.4 L172.9,384.9 L177.5,382.3 L182.1,379.6 L186.6,376.7 L191.2,373.9 L195.7,370.6 L200.3,367.3 L204.9,363.9 L209.4,360.6 L214.0,357.4 L218.6,353.7 L223.1,349.9 L227.7,345.8 L232.3,341.5 L236.8,337.2 L241.4,332.9 L246.0,328.6 L250.5,324.3 L255.1,320.0 L259.6,315.2 L264.2,310.4 L268.8,305.6 L273.3,300.8 L277.9,295.8 L282.5,290.7 L287.0,285.6 L291.6,280.5 L296.2,275.1 L300.7,269.6 L305.3,264.1 L309.8,258.6 L314.4,253.2 L319.0,247.8 L323.5,242.4 L328.1,236.8 L332.7,230.8 L337.2,224.8 L341.8,218.8 L346.4,212.7 L350.9,206.5 L355.5,200.3 L360.1,194.1 L364.6,187.7 L369.2,181.3 L373.7,174.7" clip-path="url(#ca)" stroke="#ff0000" stroke-width="2.8" fill="none" stroke-dasharray="7.4 6.333" stroke-dashoffset="-0.45"/>
<g clip-path="url(#cb)"><path d="M58.8,413.4 L63.4,413.1 L68.0,412.5 L72.5,412.0 L77.1,411.5 L81.6,411.1 L86.2,410.7 L90.8,410.2 L95.3,409.8 L99.9,409.3 L104.5,408.8 L109.0,408.3 L113.6,407.7 L118.2,407.1 L122.7,406.1 L127.3,405.2 L131.8,404.1 L136.4,402.4 L141.0,400.7 L145.5,398.8 L150.1,396.8 L154.7,394.8 L159.2,392.5 L163.8,390.0 L168.4,387.4 L172.9,384.9 L177.5,382.3 L182.1,379.6 L186.6,376.7 L191.2,373.9 L195.7,370.6 L200.3,367.3 L204.9,363.9 L209.4,360.6 L214.0,357.4 L218.6,353.7 L223.1,349.9 L227.7,345.8 L232.3,341.5 L236.8,337.2 L241.4,332.9 L246.0,328.6 L250.5,324.3 L255.1,320.0 L259.6,315.2 L264.2,310.4 L268.8,305.6 L273.3,300.8 L277.9,295.8 L282.5,290.7 L287.0,285.6 L291.6,280.5 L296.2,275.1 L300.7,269.6 L305.3,264.1 L309.8,258.6 L314.4,253.2 L319.0,247.8 L323.5,242.4 L328.1,236.8 L332.7,230.8 L337.2,224.8 L341.8,218.8 L346.4,212.7 L350.9,206.5 L355.5,200.3 L360.1,194.1 L364.6,187.7 L369.2,181.3 L373.7,174.7" transform="translate(302.3 0)" stroke="#fff" stroke-width="2.8" fill="none" stroke-dasharray="7.4 6.333" stroke-dashoffset="-0.45"/></g>
<!-- circles -->
<g stroke="#fff" stroke-width="1.8" fill="none">
<circle cx="162.5" cy="217.5" r="31.9"/><circle cx="162.2" cy="217.6" r="20.1"/>
<circle cx="257.5" cy="388.5" r="31.9"/>
<circle cx="472.3" cy="225.4" r="31.1"/><circle cx="473" cy="225.5" r="20.1"/>
<circle cx="561" cy="392.4" r="31.8"/>
</g>
<text font-family='"Liberation Sans",sans-serif' font-size="100" fill="#fff" transform="matrix(0.28846 0 0 0.30745 65.67 112.54)">(</text>
<text font-family='"Liberation Sans",sans-serif' font-size="100" fill="#fff" transform="matrix(0.30385 0 0 0.34364 76.28 113.86)">a</text>
<text font-family='"Liberation Sans",sans-serif' font-size="100" fill="#fff" transform="matrix(0.30385 0 0 0.30745 95.60 112.54)">)</text>
<text font-family='"Liberation Sans",sans-serif' font-size="100" fill="#fff" transform="matrix(0.30000 0 0 0.31277 375.20 112.83)">(</text>
<text font-family='"Liberation Sans",sans-serif' font-size="100" fill="#fff" transform="matrix(0.37955 0 0 0.35479 385.64 114.20)">b</text>
<text font-family='"Liberation Sans",sans-serif' font-size="100" fill="#fff" transform="matrix(0.30000 0 0 0.31277 406.90 112.83)">)</text>
<text font-family='"Liberation Sans",sans-serif' font-size="100" fill="#fff" transform="matrix(0.38485 0 0 0.40580 199.70 231.90)">A</text>
<text font-family='"Liberation Sans",sans-serif' font-size="100" fill="#fff" transform="matrix(0.32075 0 0 0.36232 314.43 398.10)">P</text>
<text font-family='"Liberation Sans",sans-serif' font-size="100" fill="#fff" transform="matrix(0.35606 0 0 0.39130 511.00 238.80)">A</text>
<text font-family='"Liberation Sans",sans-serif' font-size="100" fill="#fff" transform="matrix(0.36604 0 0 0.35507 617.37 402.20)">P</text>
<text font-family='"Liberation Sans",sans-serif' font-size="100" fill="#000" stroke="#000" stroke-width="2.2" transform="matrix(0.24615 0 0 0.25957 76.82 613.95)">(</text>
<text font-family='"Liberation Sans",sans-serif' font-size="100" fill="#000" stroke="#000" stroke-width="2.2" transform="matrix(0.25581 0 0 0.28364 86.48 615.02)">c</text>
<text font-family='"Liberation Sans",sans-serif' font-size="100" fill="#000" stroke="#000" stroke-width="2.2" transform="matrix(0.24231 0 0 0.25957 100.36 613.95)">)</text>
<path d="M305 372.6V398.1M304.6 373.2L296.6 378.9" stroke="#fff" stroke-width="2.9" fill="none"/>
<path d="M609.6 378V402.2M609.2 378.6L601.2 384.3" stroke="#fff" stroke-width="2.9" fill="none"/>
<!-- tick labels a,b -->
<g class="s" font-size="23" fill="#333" stroke="#333" stroke-width="0.55">
<text x="52" y="87.6" text-anchor="end">80</text>
<text x="52" y="256.8" text-anchor="end">60</text>
<text x="52" y="425.8" text-anchor="end">40</text>
<g text-anchor="middle">
<text x="107.6" y="536.9">0.2</text><text x="193.8" y="536.9">0.4</text><text x="279.9" y="536.9">0.6</text>
<text x="409.8" y="536.9">0.2</text><text x="496.6" y="536.9">0.4</text><text x="583.2" y="536.9">0.6</text><text x="669.8" y="536.9">0.8</text>
</g></g>
<!-- panel c -->
<g stroke="#8a8a8a" stroke-width="1.3" fill="none">
<path d="M68.3 795.2V583H664.6V795.2Z"/>
</g>
<path d="M68.20 794.5V789.6 M103.30 794.5V789.6 M138.40 794.5V789.6 M173.50 794.5V789.6 M208.60 794.5V789.6 M243.70 794.5V789.6 M278.80 794.5V789.6 M313.90 794.5V789.6 M349.00 794.5V789.6 M384.10 794.5V789.6 M419.20 794.5V789.6 M454.30 794.5V789.6 M489.40 794.5V789.6 M524.50 794.5V789.6 M559.60 794.5V789.6 M594.70 794.5V789.6 M629.80 794.5V789.6 M664.90 794.5V789.6 M68.9 795.30H73.8 M68.9 747.85H73.8 M68.9 700.40H73.8 M68.9 652.95H73.8 M68.9 605.50H73.8" stroke="#8a8a8a" stroke-width="1" fill="none"/>
<path d="M445.9 583V795" stroke="#f00" stroke-width="2.4" stroke-dasharray="9.4 6.3" stroke-dashoffset="0"/>
<g fill="none" stroke-width="3.2" stroke-linejoin="round" stroke-linecap="butt">
<path id="cy" stroke="#f8d422" d="M68.6 790.1L100.9 790.5L141.7 791.2L200 791.8L330 792.8L440 793.2"/>
<path id="co" stroke="#fe9d26" d="M68.6 773.4L90.7 771.3L109 769.3L129.5 769.3L145.8 768.3L166.3 770.3L182.6 771.3L200 772.8L220.7 773.8L245.2 776.9L261.5 779.3L282 781.6L302.4 784.4L322.8 786.5L350.7 788.1L381.3 790.6L412 792.2L438.5 793.2L446 794"/>
<path id="cr" stroke="#e24854" d="M68.6 739.7L92.7 733.5L109 728.8L129.5 724.7L145.8 720.7L166.3 717.6L184.7 715.5L200 714.5L220.7 713.7L247.2 714.9L261.5 717.2L282 720.7L296.3 724.7L312.6 730.9L320 731.9L332.3 737L346.6 744.2L360.9 752.3L373.1 759.1L385.4 768.7L398.7 778.9L412 786.1L426.3 790.6L442.6 793.2L447 794"/>
<path id="cp" stroke="#a84aa6" d="M68.6 651.9L94.7 649.3L111.1 644.2L131.5 638.6L145.8 632.9L166.3 626.8L182.6 621L200 616.2L220.7 610.7L245.2 605.5L257.4 604.1L284 601L298.3 601.5L312.6 604.1L320 605.9L334.3 609.4L347.6 614.9L360.9 623.7L372.1 630.9L385.4 645.2L397.7 668.7L405.8 690L410.9 700.2L420.1 730.9L428.3 755.4L435.5 784L444.7 792.2L450.8 794.6L488.5 794.6"/>
</g>
<rect x="434" y="716" width="52" height="29" fill="#fff" fill-opacity="0.75"/>
<text font-family='"Liberation Serif",serif' font-size="100" font-style="italic" fill="#f00" transform="matrix(0.33702 0 0 0.30638 436.02 734.50)">n</text><text font-family='"Liberation Serif",serif' font-size="100" fill="#f00" transform="matrix(0.23942 0 0 0.21558 453.76 738.27)">top</text>
<!-- legend -->
<g stroke-width="4.4">
<path d="M492.9 600.4H529.1" stroke="#a84aa6"/>
<path d="M492.9 632.9H529.1" stroke="#e24854"/>
<path d="M492.9 664.8H529.1" stroke="#fe9d26"/>
<path d="M492.9 697.6H529.1" stroke="#f8d422"/>
</g>
<g class="s" font-size="22" fill="#000">
<g text-anchor="end">
<text x="61" y="614">4</text><text x="61" y="661.5">3</text><text x="61" y="709">2</text><text x="61" y="756.5">1</text><text x="61" y="804">0</text>
</g>
<g text-anchor="middle">
<text x="103.3" y="822">0.2</text><text x="243.6" y="822">0.4</text><text x="384" y="822">0.6</text><text x="524.4" y="822">0.8</text><text x="664.7" y="822">1.0</text>
</g></g>
</svg>
</div></body></html>
